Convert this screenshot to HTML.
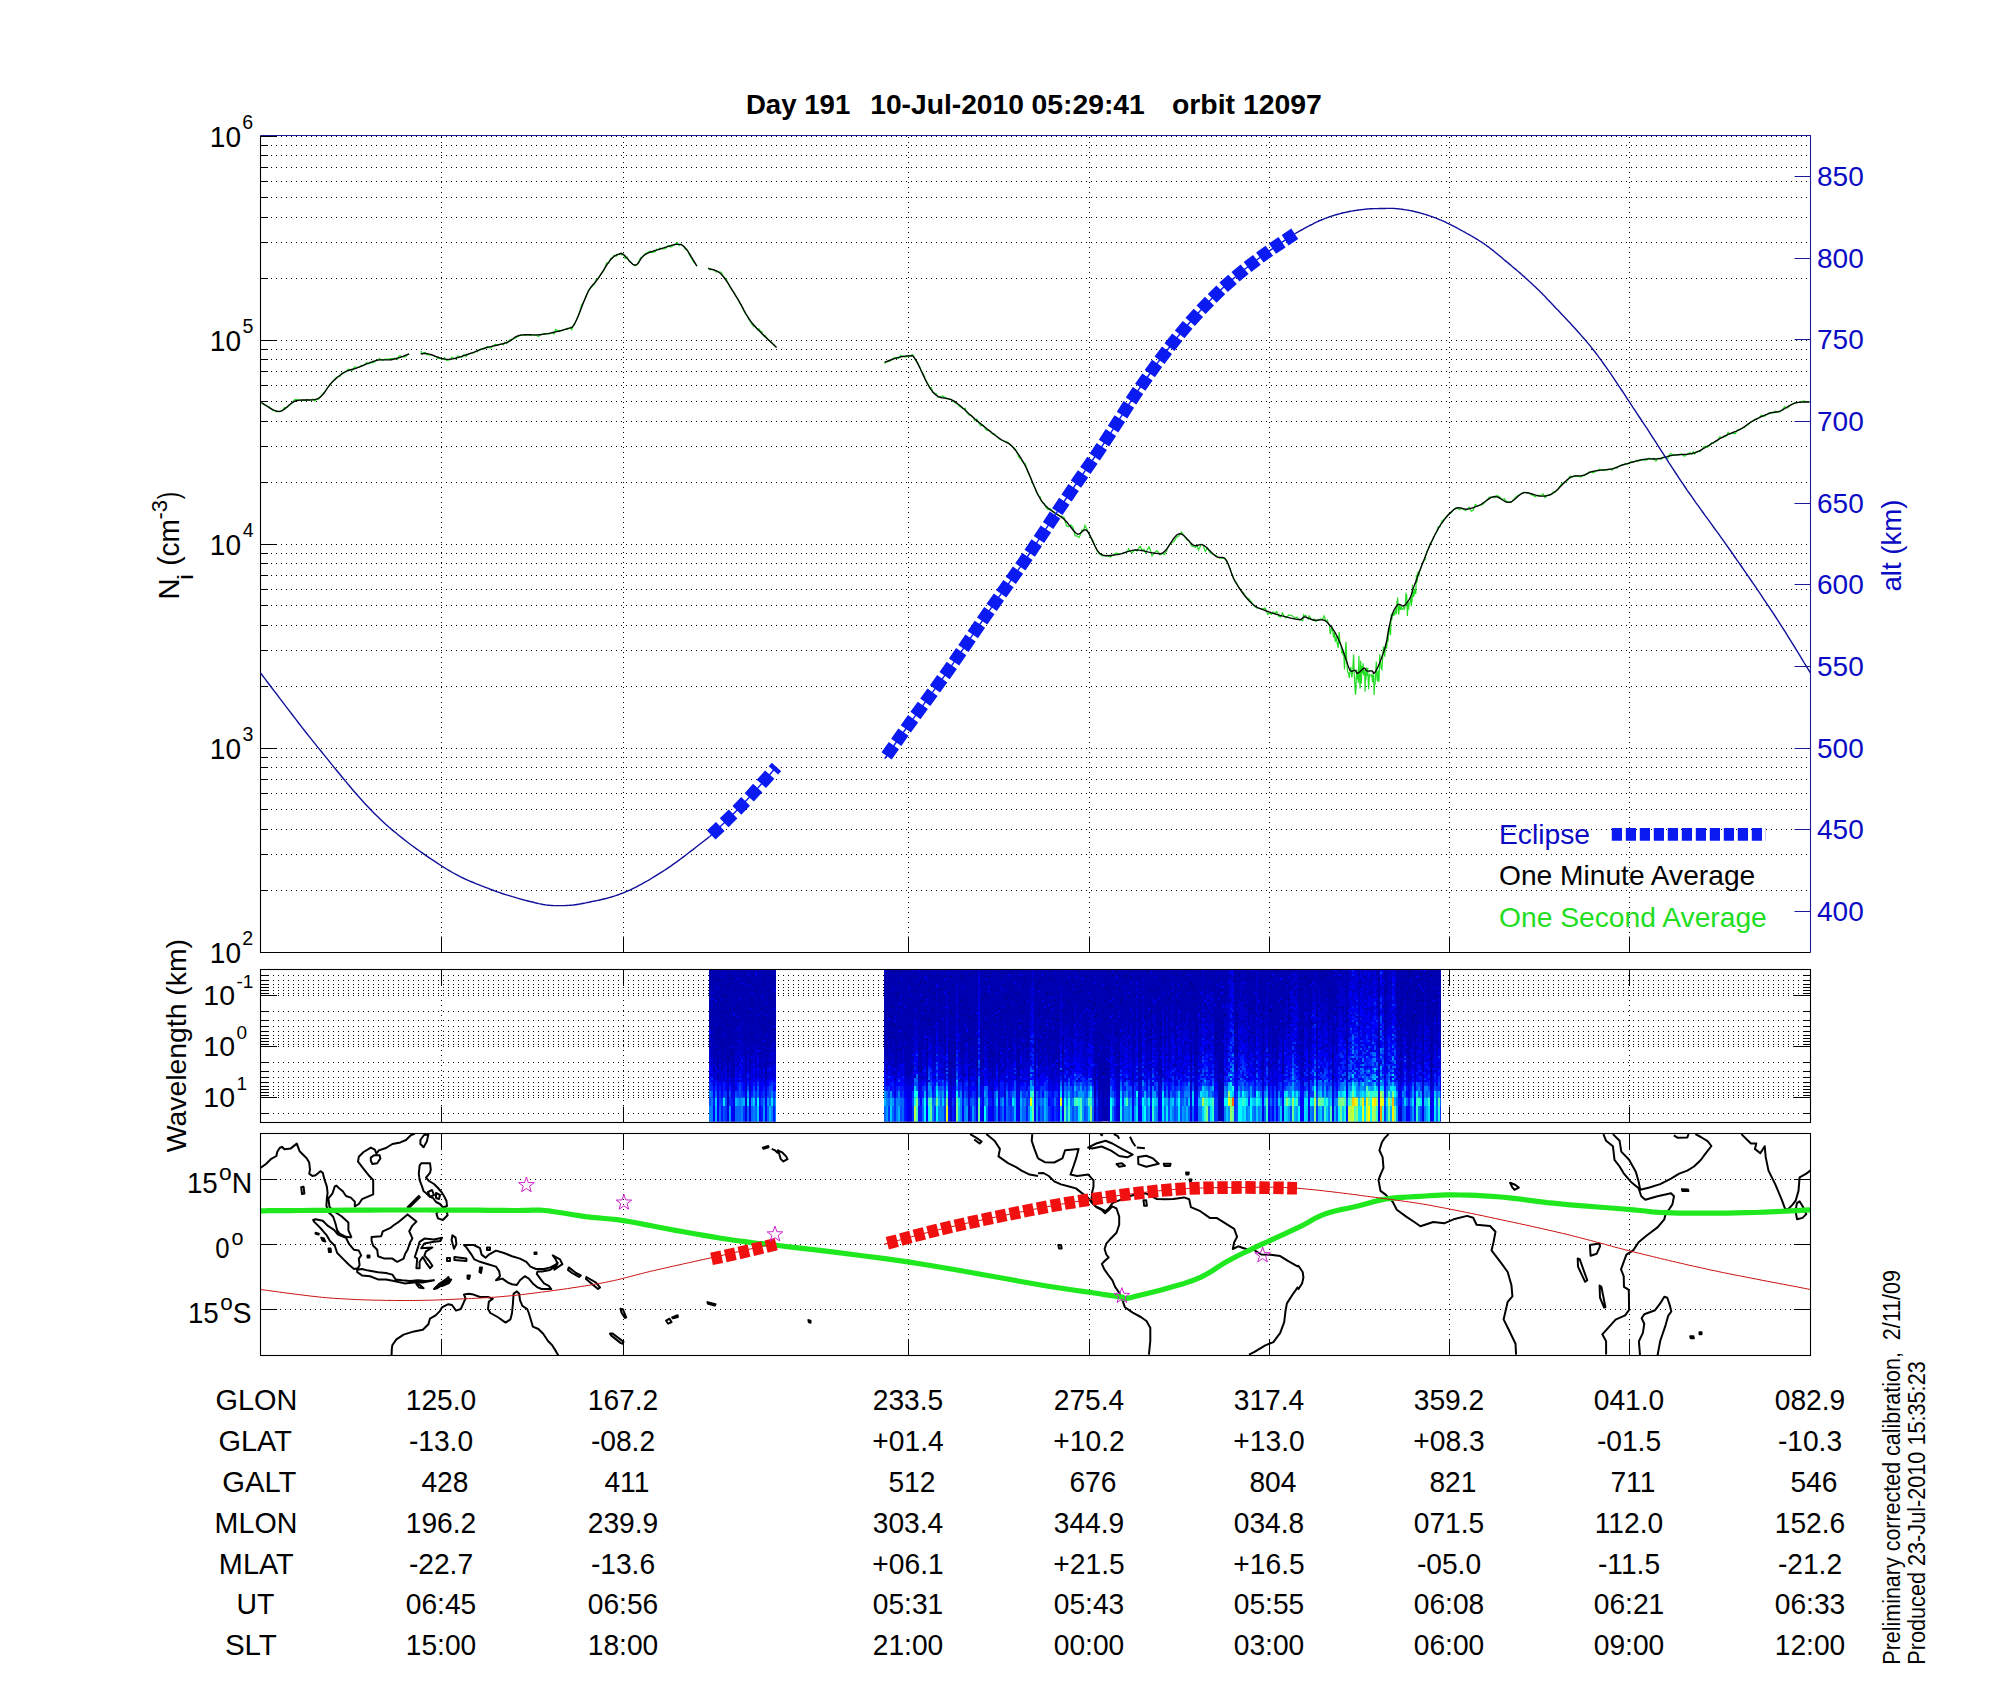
<!DOCTYPE html><html><head><meta charset="utf-8"><style>html,body{margin:0;padding:0;background:#fff;width:2000px;height:1700px;overflow:hidden}svg{display:block}text{font-family:"Liberation Sans",sans-serif}</style></head><body>
<svg width="2000" height="1700" viewBox="0 0 2000 1700">
<rect width="2000" height="1700" fill="#fff"/>
<text x="745.94" y="113.80" font-size="28.3" font-weight="bold" textLength="104.35" lengthAdjust="spacingAndGlyphs" xml:space="preserve" >Day 191</text>
<text x="870.24" y="113.80" font-size="28.3" font-weight="bold" textLength="153.65" lengthAdjust="spacingAndGlyphs" xml:space="preserve" >10-Jul-2010</text>
<text x="1031.57" y="113.80" font-size="28.3" font-weight="bold" textLength="113.22" lengthAdjust="spacingAndGlyphs" xml:space="preserve" >05:29:41</text>
<text x="1171.96" y="113.80" font-size="28.3" font-weight="bold" textLength="149.96" lengthAdjust="spacingAndGlyphs" xml:space="preserve" >orbit 12097</text>
<path d="M261 952.5H1810.5M261 890.5H1810.5M261 854.5H1810.5M261 829.5H1810.5M261 809.5H1810.5M261 793.5H1810.5M261 779.5H1810.5M261 767.5H1810.5M261 757.5H1810.5M261 748.5H1810.5M261 686.5H1810.5M261 650.5H1810.5M261 625.5H1810.5M261 605.5H1810.5M261 589.5H1810.5M261 575.5H1810.5M261 563.5H1810.5M261 553.5H1810.5M261 544.5H1810.5M261 482.5H1810.5M261 446.5H1810.5M261 421.5H1810.5M261 401.5H1810.5M261 385.5H1810.5M261 371.5H1810.5M261 359.5H1810.5M261 349.5H1810.5M261 340.5H1810.5M261 278.5H1810.5M261 242.5H1810.5M261 217.5H1810.5M261 197.5H1810.5M261 181.5H1810.5M261 167.5H1810.5M261 155.5H1810.5M261 145.5H1810.5M261 136.5H1810" stroke="#000" stroke-width="1" stroke-dasharray="1 4" fill="none"/>
<path d="M441.5 137V952.5M623.5 137V952.5M908.5 137V952.5M1089.5 137V952.5M1269.5 137V952.5M1449.5 137V952.5M1629.5 137V952.5" stroke="#000" stroke-width="1" stroke-dasharray="1 4" fill="none"/>
<path d="M260.5 952.5h16.5M260.5 890.5h7.5M260.5 854.5h7.5M260.5 829.5h7.5M260.5 809.5h7.5M260.5 793.5h7.5M260.5 779.5h7.5M260.5 767.5h7.5M260.5 757.5h7.5M260.5 748.5h16.5M260.5 686.5h7.5M260.5 650.5h7.5M260.5 625.5h7.5M260.5 605.5h7.5M260.5 589.5h7.5M260.5 575.5h7.5M260.5 563.5h7.5M260.5 553.5h7.5M260.5 544.5h16.5M260.5 482.5h7.5M260.5 446.5h7.5M260.5 421.5h7.5M260.5 401.5h7.5M260.5 385.5h7.5M260.5 371.5h7.5M260.5 359.5h7.5M260.5 349.5h7.5M260.5 340.5h16.5M260.5 278.5h7.5M260.5 242.5h7.5M260.5 217.5h7.5M260.5 197.5h7.5M260.5 181.5h7.5M260.5 167.5h7.5M260.5 155.5h7.5M260.5 145.5h7.5M260.5 136.5h16.5" stroke="#000" stroke-width="1" fill="none"/>
<path d="M441.5 952.5v-16M623.5 952.5v-16M908.5 952.5v-16M1089.5 952.5v-16M1269.5 952.5v-16M1449.5 952.5v-16M1629.5 952.5v-16" stroke="#000" stroke-width="1"/>
<path d="M1810.5 911.5h-16M1810.5 829.5h-16M1810.5 748.5h-16M1810.5 666.5h-16M1810.5 584.5h-16M1810.5 503.5h-16M1810.5 421.5h-16M1810.5 339.5h-16M1810.5 258.5h-16M1810.5 176.5h-16" stroke="#1a1a9a" stroke-width="1"/>
<path d="M260.5 135.5V952.5H1810.5" stroke="#000" stroke-width="1.1" fill="none"/>
<path d="M260.5 135.5H1810.5V952.5" stroke="#1a1a9a" stroke-width="1.1" fill="none"/>
<text x="209.79" y="962.60" font-size="28.8" textLength="31.22" lengthAdjust="spacingAndGlyphs" xml:space="preserve" >10</text>
<text x="242.22" y="944.80" font-size="19.6" xml:space="preserve" >2</text>
<text x="209.79" y="758.60" font-size="28.8" textLength="31.22" lengthAdjust="spacingAndGlyphs" xml:space="preserve" >10</text>
<text x="242.46" y="740.80" font-size="19.6" xml:space="preserve" >3</text>
<text x="209.79" y="554.60" font-size="28.8" textLength="31.22" lengthAdjust="spacingAndGlyphs" xml:space="preserve" >10</text>
<text x="242.76" y="536.80" font-size="19.6" xml:space="preserve" >4</text>
<text x="209.79" y="350.60" font-size="28.8" textLength="31.22" lengthAdjust="spacingAndGlyphs" xml:space="preserve" >10</text>
<text x="242.42" y="332.80" font-size="19.6" xml:space="preserve" >5</text>
<text x="209.79" y="146.60" font-size="28.8" textLength="31.22" lengthAdjust="spacingAndGlyphs" xml:space="preserve" >10</text>
<text x="242.22" y="128.80" font-size="19.6" xml:space="preserve" >6</text>
<text x="1817" y="921.0" font-size="28" fill="#0b0bc4">400</text>
<text x="1817" y="839.3" font-size="28" fill="#0b0bc4">450</text>
<text x="1817" y="757.7" font-size="28" fill="#0b0bc4">500</text>
<text x="1817" y="676.0" font-size="28" fill="#0b0bc4">550</text>
<text x="1817" y="594.3" font-size="28" fill="#0b0bc4">600</text>
<text x="1817" y="512.7" font-size="28" fill="#0b0bc4">650</text>
<text x="1817" y="431.0" font-size="28" fill="#0b0bc4">700</text>
<text x="1817" y="349.3" font-size="28" fill="#0b0bc4">750</text>
<text x="1817" y="267.6" font-size="28" fill="#0b0bc4">800</text>
<text x="1817" y="186.0" font-size="28" fill="#0b0bc4">850</text>
<g transform="rotate(-90)"><text x="-599.76" y="178.90" font-size="29" textLength="21.50" lengthAdjust="spacingAndGlyphs" xml:space="preserve" >N</text></g>
<g transform="rotate(-90)"><text x="-580.05" y="193.00" font-size="22" textLength="6.09" lengthAdjust="spacingAndGlyphs" xml:space="preserve" >i</text></g>
<g transform="rotate(-90)"><text x="-565.85" y="178.90" font-size="29" textLength="46.70" lengthAdjust="spacingAndGlyphs" xml:space="preserve" >(cm</text></g>
<g transform="rotate(-90)"><text x="-519.49" y="166.50" font-size="21.6" textLength="19.56" lengthAdjust="spacingAndGlyphs" xml:space="preserve" >-3</text></g>
<g transform="rotate(-90)"><text x="-499.17" y="178.90" font-size="29" textLength="7.48" lengthAdjust="spacingAndGlyphs" xml:space="preserve" >)</text></g>
<g transform="rotate(-90)"><text x="-591.57" y="1900.60" font-size="27.2" fill="#0b0bc4" textLength="92.12" lengthAdjust="spacingAndGlyphs" xml:space="preserve" >alt (km)</text></g>
<g transform="rotate(-90)"><text x="-1152.14" y="185.50" font-size="28.5" textLength="213.13" lengthAdjust="spacingAndGlyphs" xml:space="preserve" >Wavelength (km)</text></g>
<path d="M261.4 402.4 L263.4 404.2 L266.1 405.4 L267.7 406.3 L269.3 406.8 L271.0 408.4 L272.7 410.5 L274.4 410.6 L276.1 411.9 L277.7 411.4 L279.2 411.7 L281.9 410.9 L284.5 407.6 L287.0 407.7 L289.6 405.0 L292.4 402.9 L294.0 400.3 L295.5 399.5 L297.3 399.8 L299.0 399.9 L301.0 400.4 L303.0 400.0 L305.0 400.5 L307.1 399.4 L309.1 400.2 L311.1 400.3 L313.0 399.1 L314.9 401.0 L316.6 399.4 L318.2 399.5 L320.9 396.0 L323.3 393.4 L325.3 391.0 L327.2 388.2 L329.1 386.1 L331.2 383.3 L333.4 380.6 L335.5 378.1 L337.7 376.6 L339.9 376.4 L342.0 373.1 L344.2 372.6 L346.3 371.7 L348.3 369.2 L350.3 369.9 L352.4 370.5 L354.7 366.9 L357.2 367.5 L360.1 366.6 L361.7 365.3 L363.3 365.7 L365.0 364.5 L366.7 362.6 L368.5 363.9 L370.2 363.1 L371.9 362.7 L373.6 362.6 L375.1 361.2 L376.7 360.5 L379.6 358.8 L382.4 360.3 L385.1 359.2 L387.7 359.4 L390.3 358.6 L393.0 358.5 L395.9 358.2 L397.5 359.3 L399.0 355.9 L400.6 355.9 L402.1 356.8 L405.0 356.8 L407.4 355.1 L409.2 353.9" stroke="#22dd22" stroke-width="1.2" fill="none"/>
<path d="M420.6 352.2 L421.3 351.6 L422.3 354.0 L423.4 352.9 L424.9 352.5 L426.6 354.4 L428.7 354.9 L431.3 354.8 L434.2 356.0 L435.9 356.8 L437.5 358.4 L439.3 358.2 L441.0 358.7 L442.8 359.1 L444.6 357.7 L446.4 360.4 L448.2 360.2 L450.1 359.7 L451.9 357.3 L453.9 358.0 L455.9 358.9 L458.0 356.0 L460.0 356.8 L462.0 357.2 L464.0 354.4 L465.9 356.4 L467.7 354.8 L469.4 353.6 L471.0 353.5 L473.6 352.9 L475.7 351.6 L477.5 351.7 L479.3 349.4 L481.4 348.8 L484.0 349.2 L485.7 347.9 L487.3 346.6 L489.3 347.8 L491.2 347.8 L493.3 345.6 L495.4 344.3 L497.4 344.9 L499.5 344.4 L501.4 343.8 L503.4 344.8 L505.0 342.1 L506.7 343.6 L509.3 340.2 L511.4 339.3 L513.2 339.1 L515.0 338.3 L517.1 336.9 L519.7 335.6 L521.3 335.2 L522.9 335.0 L524.7 335.3 L526.5 334.6 L528.5 335.0 L530.4 335.3 L532.4 334.8 L534.4 335.5 L536.5 335.3 L538.5 336.5 L540.5 334.9 L542.5 334.0 L544.6 333.7 L546.7 333.7 L548.9 334.1 L551.1 332.6 L552.6 332.9 L554.1 333.9 L555.6 329.6 L557.8 330.4 L559.9 331.1 L561.8 330.7 L563.8 330.0 L565.3 328.9 L566.9 329.4 L569.1 328.4 L570.6 327.4 L571.7 329.6 L572.5 327.1 L573.6 324.9 L575.0 322.9 L576.9 318.9 L579.1 313.8 L581.4 305.5 L583.7 301.5 L586.0 297.3 L588.0 291.0 L589.8 288.8 L591.4 287.4 L592.9 285.6 L594.3 284.5 L595.9 279.9 L597.7 278.8 L599.7 275.8 L602.0 273.1 L604.3 269.8 L606.6 262.9 L608.8 263.1 L610.7 258.3 L612.4 258.4 L613.9 255.2 L615.3 255.7 L616.6 256.0 L617.8 254.4 L618.9 254.3 L619.8 254.4 L620.5 253.6 L621.1 253.3 L621.7 254.9 L622.6 254.9 L623.7 254.4 L625.2 258.5 L627.1 257.2 L629.1 261.4 L631.2 262.6 L633.2 264.6 L635.1 265.7 L636.7 264.7 L638.2 263.6 L639.6 259.6 L641.1 257.3 L642.8 257.0 L644.9 253.9 L647.4 252.5 L650.4 250.9 L651.9 252.7 L653.5 251.7 L655.1 251.8 L656.7 249.2 L658.3 249.6 L659.8 248.1 L662.7 248.9 L665.4 248.7 L668.1 245.6 L670.7 247.0 L673.1 245.8 L675.4 244.3 L677.4 242.6 L679.1 245.6 L680.5 244.4 L681.7 244.4 L682.8 245.9 L684.0 247.0 L685.5 249.5 L687.3 249.7 L689.5 254.8 L691.7 258.7 L693.8 262.2 L695.6 263.8 L696.9 266.1" stroke="#22dd22" stroke-width="1.2" fill="none"/>
<path d="M708.2 267.7 L709.6 269.7 L711.4 269.3 L713.7 269.9 L716.1 271.9 L718.7 271.9 L721.2 272.2 L723.7 276.8 L726.5 279.3 L729.3 286.0 L732.1 290.1 L734.8 293.8 L737.5 298.6 L739.9 303.4 L742.1 306.8 L744.3 312.0 L746.6 314.8 L749.1 319.8 L752.1 324.3 L754.0 326.6 L755.9 326.8 L757.4 329.7 L758.9 328.8 L760.4 331.1 L762.0 331.9 L763.6 336.1 L765.2 335.6 L766.7 338.2 L768.3 339.5 L769.8 341.0 L771.8 342.4 L773.7 345.0 L776.5 347.4" stroke="#22dd22" stroke-width="1.2" fill="none"/>
<path d="M884.6 363.9 L885.9 361.8 L887.7 361.6 L889.8 361.2 L892.1 359.3 L894.4 357.5 L896.5 357.5 L898.6 358.4 L900.8 355.5 L903.0 356.0 L905.1 357.0 L907.1 356.6 L908.8 355.9 L910.1 356.6 L911.2 355.9 L912.0 354.7 L912.9 354.8 L913.9 356.6 L915.3 359.9 L917.1 361.8 L919.2 365.8 L921.5 370.9 L923.9 375.3 L926.2 381.2 L928.2 384.0 L929.9 388.1 L931.4 388.0 L932.8 392.3 L934.3 393.0 L935.9 393.2 L937.9 396.9 L940.1 397.1 L942.6 395.9 L945.2 397.5 L948.0 399.0 L950.9 399.2 L952.5 401.1 L954.1 401.9 L955.8 403.0 L957.5 403.9 L959.3 406.3 L961.2 407.2 L963.1 408.8 L965.1 408.3 L967.0 412.7 L969.0 414.9 L971.0 415.2 L972.9 416.9 L974.9 420.7 L976.8 419.1 L978.7 422.6 L980.7 425.9 L982.7 424.6 L984.7 427.6 L986.7 430.3 L988.7 430.1 L990.7 432.2 L992.6 434.0 L994.4 433.8 L996.2 435.9 L997.8 437.5 L999.4 439.1 L1002.1 440.2 L1004.4 441.2 L1006.5 441.5 L1008.4 443.0 L1010.3 445.4 L1012.3 446.6 L1014.5 448.2 L1016.6 451.0 L1018.8 457.2 L1021.0 459.3 L1023.1 462.5 L1025.3 463.6 L1027.5 470.9 L1029.7 475.9 L1032.0 482.3 L1034.1 486.5 L1036.2 490.9 L1038.2 495.5 L1039.9 496.4 L1041.4 501.5 L1042.8 502.8 L1044.3 503.7 L1045.9 507.2 L1047.9 509.5 L1050.3 508.6 L1052.9 511.1 L1055.8 513.8 L1058.7 515.5 L1061.5 516.4 L1064.1 517.4 L1066.5 526.0 L1068.8 526.6 L1071.0 525.1 L1073.1 527.5 L1075.2 535.8 L1077.1 535.8 L1078.9 537.6 L1080.5 534.7 L1082.0 529.9 L1083.5 530.9 L1085.0 525.5 L1086.8 529.1 L1088.7 533.0 L1090.7 538.0 L1092.8 540.1 L1095.0 546.0 L1097.3 551.3 L1099.7 554.0 L1102.2 556.0 L1104.7 555.9 L1107.4 555.1 L1110.1 557.1 L1113.0 555.2 L1115.9 553.1 L1117.4 553.3 L1118.9 554.3 L1120.5 553.6 L1122.1 553.7 L1123.8 552.8 L1125.4 552.7 L1127.1 551.5 L1128.7 548.7 L1130.4 551.7 L1132.0 552.5 L1133.7 551.1 L1135.3 549.6 L1137.0 551.0 L1138.6 548.2 L1140.4 546.6 L1142.1 550.8 L1143.9 549.2 L1145.6 552.9 L1147.3 549.6 L1149.0 546.9 L1150.5 550.4 L1152.0 556.0 L1154.7 552.4 L1156.8 550.7 L1158.5 552.1 L1159.9 554.8 L1161.2 554.5 L1162.6 553.2 L1164.4 554.6 L1166.6 550.6 L1168.9 545.7 L1171.4 543.1 L1174.0 541.5 L1176.5 537.2 L1179.0 535.8 L1181.5 532.0 L1184.0 535.5 L1186.6 539.8 L1189.0 540.5 L1191.4 545.7 L1193.5 546.3 L1195.4 547.4 L1197.0 545.1 L1198.4 550.2 L1199.9 547.2 L1201.4 544.1 L1203.2 545.3 L1205.2 551.6 L1207.4 547.7 L1209.7 552.3 L1212.0 553.7 L1214.2 554.9 L1216.2 555.5 L1218.0 557.4 L1219.7 557.8 L1221.3 558.4 L1222.8 558.2 L1224.3 558.2 L1225.9 560.5 L1227.4 562.8 L1228.9 566.0 L1230.4 569.9 L1231.9 573.9 L1233.6 579.0 L1235.6 581.4 L1237.9 585.5 L1240.5 589.9 L1243.2 592.5 L1246.1 597.0 L1248.9 598.9 L1251.7 602.3 L1254.3 606.4 L1256.9 608.0 L1259.5 608.3 L1262.1 609.1 L1264.9 608.1 L1267.9 614.4 L1269.6 612.9 L1271.2 614.4 L1273.1 611.8 L1274.9 613.5 L1276.8 611.5 L1278.7 616.2 L1280.6 616.9 L1282.5 612.9 L1284.2 616.3 L1285.9 617.9 L1288.9 614.8 L1291.4 615.3 L1293.6 617.0 L1295.5 618.1 L1297.2 617.1 L1298.7 619.5 L1300.0 619.9 L1301.1 620.3 L1301.9 620.0 L1302.5 620.7 L1303.0 619.6 L1303.5 615.1 L1304.2 616.2 L1305.0 615.3 L1305.8 615.5 L1306.7 617.4 L1307.5 617.8 L1308.4 619.0 L1309.2 616.0 L1310.0 616.8 L1310.7 619.1 L1311.3 619.1 L1312.1 619.3 L1313.0 619.9 L1314.1 619.0 L1315.5 621.4 L1317.2 620.7 L1319.0 619.8 L1320.8 618.8 L1322.5 619.6 L1324.0 615.8 L1325.3 619.2 L1326.4 621.7 L1327.5 620.2 L1328.4 624.0 L1329.4 625.0 L1330.3 634.2 L1331.2 629.9 L1332.0 626.4 L1332.8 631.6 L1333.6 637.5 L1334.4 632.5 L1335.3 641.8 L1336.2 636.4 L1337.2 643.5 L1338.1 647.9 L1339.1 632.1 L1340.0 643.9 L1340.9 644.5 L1341.7 653.3 L1342.4 650.2 L1343.1 654.7 L1343.8 654.2 L1344.5 669.5 L1345.2 653.8 L1346.0 641.7 L1346.8 662.7 L1347.6 672.1 L1348.4 672.6 L1349.3 678.0 L1350.1 670.8 L1350.9 667.0 L1351.8 677.3 L1352.7 671.0 L1353.6 654.5 L1354.3 674.5 L1355.0 687.9 L1355.5 694.8 L1355.9 690.4 L1356.2 677.9 L1356.5 675.4 L1356.8 669.5 L1357.2 679.1 L1357.7 674.1 L1358.3 682.9 L1358.9 655.7 L1359.5 676.7 L1360.1 688.5 L1360.7 660.7 L1361.3 683.5 L1361.9 665.7 L1362.5 673.5 L1363.1 663.3 L1363.7 675.0 L1364.2 675.0 L1364.7 670.0 L1365.1 691.7 L1365.5 672.8 L1365.9 680.2 L1366.4 667.6 L1367.0 675.9 L1367.7 667.7 L1368.6 689.1 L1369.5 674.5 L1370.5 675.2 L1371.3 676.1 L1372.0 674.4 L1372.5 681.9 L1372.9 681.0 L1373.1 680.5 L1373.4 674.2 L1373.7 677.1 L1374.1 694.9 L1374.6 684.3 L1375.1 684.2 L1375.7 671.2 L1376.3 661.6 L1377.0 678.7 L1377.6 681.4 L1378.3 670.5 L1379.0 681.7 L1379.7 654.3 L1380.4 660.8 L1381.2 668.8 L1381.9 669.6 L1382.6 659.0 L1383.4 646.7 L1384.1 649.0 L1384.8 656.8 L1385.5 644.3 L1386.1 644.0 L1386.6 648.6 L1387.1 642.6 L1387.5 635.9 L1388.0 641.7 L1388.4 637.1 L1388.9 631.1 L1389.4 626.8 L1390.0 631.0 L1390.6 635.1 L1391.2 614.3 L1391.8 620.2 L1392.4 613.2 L1393.0 613.7 L1393.6 615.8 L1394.2 612.5 L1394.9 614.1 L1395.4 611.5 L1396.0 608.7 L1396.5 614.1 L1396.9 601.1 L1397.3 605.5 L1397.7 597.6 L1398.2 608.6 L1398.8 614.6 L1399.5 604.1 L1400.3 609.7 L1401.2 606.8 L1402.0 609.5 L1402.9 609.1 L1403.7 606.9 L1404.5 608.7 L1405.2 605.3 L1406.0 593.9 L1406.7 595.0 L1407.4 616.0 L1408.0 601.4 L1408.6 609.6 L1409.1 603.5 L1409.5 603.0 L1410.0 602.0 L1410.4 602.0 L1410.8 596.1 L1411.2 606.2 L1411.5 605.0 L1411.8 597.8 L1412.1 601.8 L1412.5 584.8 L1412.9 590.2 L1413.4 596.2 L1414.0 596.0 L1414.6 588.7 L1415.2 592.7 L1415.8 594.1 L1416.4 574.8 L1417.0 582.8 L1417.6 573.5 L1418.2 571.6 L1418.8 576.5 L1419.4 571.6 L1420.0 570.1 L1420.6 569.8 L1421.2 566.0 L1421.8 565.5 L1422.5 563.5 L1423.2 561.8 L1424.1 560.9 L1425.1 559.8 L1426.2 553.3 L1427.4 550.4 L1428.7 548.6 L1430.0 543.5 L1431.5 542.3 L1433.0 539.2 L1434.7 535.0 L1436.4 532.7 L1438.2 526.9 L1440.0 526.6 L1442.0 520.9 L1444.1 519.1 L1446.4 516.5 L1448.7 513.9 L1451.1 513.0 L1453.4 510.1 L1455.6 508.0 L1457.6 508.4 L1459.6 509.7 L1461.5 508.2 L1463.3 509.1 L1465.2 510.6 L1467.2 509.4 L1469.2 507.2 L1471.2 511.2 L1473.3 510.3 L1475.4 504.5 L1477.6 505.9 L1479.8 505.5 L1482.1 504.8 L1484.5 502.8 L1487.0 499.8 L1489.5 497.2 L1492.0 497.3 L1494.5 497.7 L1497.0 495.5 L1499.4 496.7 L1501.8 499.5 L1504.3 498.7 L1506.8 501.8 L1509.2 501.9 L1511.6 502.1 L1514.0 499.0 L1516.4 496.7 L1518.8 495.1 L1521.3 493.8 L1523.9 492.2 L1526.6 492.7 L1529.5 493.8 L1532.4 495.1 L1535.3 496.5 L1538.1 495.1 L1540.7 495.7 L1543.0 493.9 L1545.1 497.7 L1547.0 495.1 L1548.9 495.2 L1551.0 494.8 L1553.3 491.8 L1555.9 491.4 L1558.7 488.3 L1561.7 483.6 L1564.7 482.5 L1567.5 480.6 L1570.1 476.0 L1572.5 477.2 L1574.7 476.2 L1576.8 476.3 L1578.8 476.3 L1580.8 477.0 L1582.7 475.3 L1584.5 475.7 L1586.0 473.8 L1587.6 474.1 L1589.2 471.9 L1591.0 471.8 L1593.2 472.8 L1596.0 471.2 L1597.6 470.5 L1599.2 469.4 L1600.9 469.5 L1602.6 470.2 L1604.4 470.7 L1606.1 470.0 L1607.7 469.9 L1609.3 469.2 L1612.1 470.0 L1614.2 467.9 L1615.8 467.2 L1617.2 467.9 L1618.6 466.5 L1620.3 465.5 L1622.6 464.5 L1625.6 463.9 L1627.3 464.1 L1629.1 463.4 L1630.9 461.5 L1632.8 462.4 L1634.8 461.6 L1636.7 460.1 L1638.5 461.2 L1640.3 459.8 L1642.0 459.4 L1643.6 460.1 L1646.4 460.2 L1649.0 458.3 L1651.3 459.3 L1653.6 458.2 L1655.9 461.0 L1658.3 458.3 L1660.7 459.3 L1663.1 457.1 L1665.5 457.7 L1667.9 458.3 L1670.4 453.5 L1673.0 454.8 L1675.8 455.3 L1678.7 454.6 L1681.7 454.0 L1684.6 456.3 L1687.3 454.3 L1689.8 452.5 L1691.8 454.3 L1693.3 451.7 L1694.7 453.9 L1696.1 451.8 L1697.9 451.6 L1700.3 451.4 L1701.9 449.5 L1703.5 447.3 L1705.4 445.9 L1707.3 447.3 L1709.4 445.7 L1711.5 443.0 L1713.6 443.2 L1715.7 441.6 L1717.7 440.5 L1719.8 436.7 L1721.6 437.4 L1723.4 437.5 L1725.0 436.6 L1726.6 435.9 L1728.1 432.3 L1729.6 434.0 L1732.5 433.1 L1735.1 433.8 L1737.7 429.7 L1740.2 429.0 L1742.5 428.0 L1744.6 427.4 L1746.5 424.8 L1748.4 424.8 L1750.5 421.7 L1752.8 421.2 L1755.4 419.1 L1758.3 418.3 L1759.8 416.8 L1761.3 415.3 L1764.3 416.3 L1767.1 414.4 L1769.6 412.7 L1771.7 412.8 L1773.4 413.2 L1775.0 411.3 L1776.5 411.9 L1778.2 412.2 L1780.1 411.6 L1782.3 409.7 L1784.7 406.8 L1787.2 408.1 L1789.7 405.8 L1792.3 404.1 L1794.8 402.9 L1797.4 402.7 L1800.2 401.8 L1803.1 401.1 L1805.7 401.4 L1807.9 401.5 L1809.5 402.0" stroke="#22dd22" stroke-width="1.2" fill="none"/>
<path d="M261.4 402.6 L261.9 402.9 L262.5 403.2 L263.1 403.6 L263.8 404.1 L264.6 404.6 L265.5 405.2 L266.4 405.8 L267.3 406.4 L268.3 407.0 L269.3 407.6 L270.3 408.3 L271.3 408.8 L272.4 409.4 L273.4 409.9 L274.4 410.3 L275.5 410.7 L276.4 411.0 L277.4 411.3 L278.3 411.4 L279.2 411.4 L280.0 411.3 L280.9 411.1 L281.7 410.8 L282.5 410.4 L283.2 410.0 L284.0 409.4 L284.8 408.9 L285.5 408.2 L286.3 407.6 L287.0 406.9 L287.8 406.2 L288.6 405.5 L289.4 404.8 L290.2 404.2 L291.0 403.5 L291.9 402.9 L292.7 402.3 L293.6 401.8 L294.5 401.4 L295.5 401.0 L296.5 400.7 L297.6 400.5 L298.7 400.3 L299.8 400.2 L301.0 400.1 L302.1 400.0 L303.4 400.0 L304.6 400.0 L305.8 400.0 L307.1 400.0 L308.3 400.0 L309.5 400.0 L310.7 399.9 L311.9 399.9 L313.1 399.8 L314.2 399.6 L315.3 399.4 L316.3 399.1 L317.3 398.8 L318.2 398.4 L319.1 397.9 L319.9 397.4 L320.7 396.7 L321.4 396.1 L322.1 395.4 L322.8 394.6 L323.5 393.8 L324.1 393.0 L324.7 392.1 L325.3 391.3 L325.9 390.4 L326.5 389.5 L327.0 388.6 L327.6 387.8 L328.2 386.9 L328.8 386.1 L329.3 385.3 L329.9 384.5 L330.6 383.8 L331.2 383.1 L331.8 382.5 L332.5 381.8 L333.1 381.2 L333.8 380.6 L334.4 380.0 L335.1 379.4 L335.8 378.8 L336.4 378.2 L337.1 377.6 L337.7 377.1 L338.3 376.5 L339.0 376.0 L339.6 375.5 L340.3 375.0 L340.9 374.5 L341.6 374.1 L342.2 373.6 L342.9 373.2 L343.6 372.8 L344.2 372.4 L344.8 372.0 L345.5 371.7 L346.1 371.4 L346.7 371.1 L347.3 370.9 L347.9 370.7 L348.5 370.5 L349.1 370.3 L349.7 370.1 L350.3 369.9 L350.9 369.7 L351.5 369.5 L352.2 369.4 L352.8 369.2 L353.5 369.0 L354.2 368.8 L354.9 368.6 L355.6 368.3 L356.4 368.1 L357.2 367.8 L358.0 367.5 L358.9 367.1 L359.8 366.8 L360.7 366.4 L361.7 366.0 L362.7 365.6 L363.7 365.2 L364.7 364.7 L365.7 364.3 L366.7 363.9 L367.8 363.5 L368.8 363.0 L369.9 362.6 L370.9 362.2 L371.9 361.9 L372.9 361.5 L373.9 361.2 L374.9 360.9 L375.8 360.6 L376.7 360.4 L377.6 360.2 L378.5 360.1 L379.3 359.9 L380.2 359.9 L381.0 359.8 L381.8 359.8 L382.6 359.8 L383.5 359.8 L384.3 359.8 L385.1 359.8 L385.9 359.8 L386.6 359.8 L387.4 359.8 L388.2 359.8 L389.0 359.8 L389.8 359.8 L390.6 359.7 L391.4 359.7 L392.2 359.5 L393.0 359.4 L393.8 359.2 L394.7 359.0 L395.6 358.8 L396.5 358.5 L397.4 358.2 L398.4 357.9 L399.3 357.6 L400.3 357.3 L401.2 356.9 L402.1 356.6 L403.0 356.3 L403.9 355.9 L404.7 355.6 L405.5 355.3 L406.3 355.0 L407.0 354.7 L407.6 354.5 L408.2 354.2 L408.8 354.1 L409.2 353.9" stroke="#000" stroke-width="1.35" fill="none"/>
<path d="M420.6 353.9 L420.8 353.9 L421.0 353.9 L421.3 353.8 L421.5 353.8 L421.8 353.8 L422.1 353.7 L422.4 353.7 L422.7 353.6 L423.1 353.6 L423.4 353.6 L423.8 353.5 L424.3 353.5 L424.7 353.5 L425.2 353.5 L425.7 353.5 L426.2 353.5 L426.8 353.6 L427.4 353.7 L428.0 353.8 L428.7 353.9 L429.4 354.1 L430.2 354.3 L431.0 354.5 L431.8 354.8 L432.7 355.2 L433.6 355.5 L434.6 355.9 L435.5 356.3 L436.5 356.7 L437.5 357.0 L438.6 357.4 L439.6 357.8 L440.7 358.1 L441.7 358.4 L442.8 358.7 L443.9 359.0 L445.0 359.2 L446.1 359.3 L447.1 359.4 L448.2 359.4 L449.3 359.4 L450.4 359.2 L451.5 359.1 L452.7 358.9 L453.9 358.6 L455.1 358.4 L456.3 358.0 L457.6 357.7 L458.8 357.3 L460.0 356.9 L461.2 356.6 L462.4 356.1 L463.6 355.7 L464.8 355.3 L465.9 354.9 L467.0 354.5 L468.1 354.2 L469.1 353.8 L470.1 353.5 L471.0 353.2 L471.9 352.9 L472.7 352.7 L473.4 352.4 L474.1 352.2 L474.7 351.9 L475.3 351.7 L475.9 351.4 L476.4 351.2 L477.0 351.0 L477.5 350.7 L478.0 350.5 L478.6 350.3 L479.1 350.0 L479.7 349.8 L480.3 349.6 L480.9 349.3 L481.6 349.1 L482.4 348.8 L483.1 348.6 L484.0 348.3 L484.9 348.0 L485.9 347.8 L487.0 347.5 L488.1 347.2 L489.2 346.9 L490.4 346.7 L491.6 346.4 L492.8 346.1 L494.1 345.8 L495.4 345.5 L496.6 345.3 L497.9 345.0 L499.1 344.7 L500.3 344.4 L501.5 344.1 L502.6 343.8 L503.7 343.5 L504.8 343.1 L505.8 342.8 L506.7 342.5 L507.6 342.2 L508.3 341.8 L509.1 341.4 L509.8 341.0 L510.4 340.7 L511.0 340.2 L511.6 339.8 L512.1 339.4 L512.7 339.0 L513.2 338.6 L513.7 338.2 L514.3 337.8 L514.8 337.4 L515.4 337.0 L516.0 336.7 L516.6 336.4 L517.3 336.1 L518.0 335.8 L518.8 335.5 L519.7 335.3 L520.6 335.1 L521.6 335.0 L522.6 334.9 L523.6 334.8 L524.7 334.7 L525.8 334.7 L526.9 334.7 L528.0 334.7 L529.2 334.7 L530.4 334.7 L531.6 334.8 L532.8 334.8 L534.0 334.8 L535.2 334.8 L536.5 334.8 L537.7 334.8 L538.9 334.7 L540.1 334.7 L541.3 334.5 L542.5 334.4 L543.7 334.2 L544.9 334.0 L546.2 333.8 L547.5 333.6 L548.9 333.3 L550.2 333.1 L551.6 332.8 L552.9 332.5 L554.3 332.2 L555.6 331.9 L556.9 331.6 L558.2 331.3 L559.5 331.0 L560.7 330.6 L561.9 330.3 L563.0 330.0 L564.1 329.7 L565.1 329.4 L566.0 329.1 L566.9 328.8 L567.7 328.5 L568.3 328.3 L569.0 328.2 L569.5 328.1 L570.0 328.0 L570.4 327.9 L570.7 327.8 L571.1 327.7 L571.4 327.6 L571.7 327.5 L571.9 327.3 L572.2 327.1 L572.5 326.9 L572.7 326.6 L573.0 326.2 L573.3 325.8 L573.7 325.2 L574.1 324.6 L574.5 323.9 L575.0 323.0 L575.5 322.0 L576.1 320.8 L576.7 319.5 L577.3 318.1 L578.0 316.6 L578.6 315.0 L579.3 313.3 L580.0 311.5 L580.7 309.8 L581.4 307.9 L582.1 306.1 L582.8 304.3 L583.5 302.5 L584.2 300.8 L584.9 299.1 L585.5 297.4 L586.2 295.9 L586.8 294.5 L587.4 293.2 L588.0 292.0 L588.6 291.0 L589.1 290.0 L589.6 289.1 L590.1 288.4 L590.6 287.7 L591.0 287.0 L591.5 286.4 L592.0 285.9 L592.4 285.3 L592.9 284.8 L593.3 284.3 L593.7 283.9 L594.2 283.4 L594.7 282.9 L595.1 282.4 L595.6 281.8 L596.1 281.2 L596.6 280.6 L597.1 279.9 L597.7 279.1 L598.3 278.3 L598.9 277.4 L599.5 276.4 L600.2 275.4 L600.8 274.4 L601.5 273.3 L602.2 272.2 L602.9 271.1 L603.6 270.0 L604.3 268.9 L605.0 267.8 L605.7 266.7 L606.4 265.7 L607.0 264.6 L607.7 263.6 L608.4 262.7 L609.0 261.8 L609.6 261.0 L610.2 260.3 L610.7 259.6 L611.2 259.0 L611.7 258.5 L612.2 258.0 L612.7 257.5 L613.2 257.1 L613.6 256.7 L614.1 256.4 L614.5 256.1 L614.9 255.8 L615.3 255.6 L615.7 255.4 L616.1 255.2 L616.5 255.0 L616.8 254.9 L617.2 254.7 L617.6 254.6 L617.9 254.5 L618.2 254.3 L618.6 254.2 L618.9 254.1 L619.2 254.0 L619.5 253.9 L619.7 253.8 L620.0 253.7 L620.2 253.6 L620.4 253.5 L620.6 253.5 L620.7 253.4 L620.9 253.4 L621.1 253.4 L621.3 253.4 L621.5 253.5 L621.7 253.5 L621.9 253.6 L622.1 253.7 L622.4 253.9 L622.7 254.0 L623.0 254.2 L623.3 254.4 L623.7 254.7 L624.1 255.0 L624.6 255.4 L625.1 255.9 L625.6 256.5 L626.1 257.1 L626.7 257.8 L627.3 258.4 L627.9 259.2 L628.5 259.9 L629.1 260.6 L629.7 261.3 L630.3 262.0 L631.0 262.6 L631.6 263.2 L632.2 263.7 L632.8 264.2 L633.4 264.6 L634.0 264.9 L634.6 265.0 L635.1 265.1 L635.6 265.0 L636.1 264.9 L636.6 264.6 L637.0 264.3 L637.5 263.9 L637.9 263.4 L638.3 262.8 L638.8 262.3 L639.2 261.6 L639.6 261.0 L640.0 260.3 L640.5 259.6 L640.9 258.9 L641.4 258.2 L641.9 257.5 L642.5 256.9 L643.0 256.2 L643.6 255.7 L644.2 255.2 L644.9 254.7 L645.6 254.3 L646.4 253.9 L647.2 253.5 L648.0 253.1 L648.9 252.7 L649.7 252.4 L650.7 252.0 L651.6 251.7 L652.5 251.4 L653.5 251.0 L654.5 250.7 L655.4 250.4 L656.4 250.1 L657.3 249.8 L658.3 249.6 L659.2 249.3 L660.1 249.0 L661.0 248.7 L661.9 248.5 L662.7 248.2 L663.5 247.9 L664.3 247.7 L665.1 247.4 L665.9 247.1 L666.7 246.9 L667.5 246.6 L668.3 246.3 L669.1 246.1 L669.9 245.8 L670.7 245.6 L671.4 245.4 L672.1 245.2 L672.9 245.0 L673.6 244.8 L674.3 244.7 L674.9 244.5 L675.6 244.4 L676.2 244.4 L676.8 244.3 L677.4 244.3 L677.9 244.3 L678.5 244.3 L678.9 244.3 L679.4 244.4 L679.8 244.4 L680.2 244.5 L680.6 244.5 L681.0 244.6 L681.3 244.7 L681.7 244.9 L682.0 245.1 L682.3 245.3 L682.7 245.5 L683.0 245.8 L683.4 246.1 L683.8 246.4 L684.2 246.8 L684.6 247.2 L685.0 247.7 L685.5 248.2 L686.0 248.8 L686.6 249.5 L687.1 250.3 L687.8 251.2 L688.4 252.1 L689.0 253.1 L689.7 254.1 L690.4 255.2 L691.0 256.3 L691.7 257.4 L692.4 258.5 L693.0 259.6 L693.6 260.6 L694.2 261.6 L694.8 262.6 L695.3 263.4 L695.8 264.3 L696.2 265.0 L696.6 265.6 L696.9 266.1" stroke="#000" stroke-width="1.35" fill="none"/>
<path d="M708.2 268.4 L708.6 268.5 L709.0 268.7 L709.4 268.8 L709.9 268.9 L710.5 269.0 L711.0 269.1 L711.7 269.3 L712.3 269.4 L713.0 269.6 L713.7 269.8 L714.4 270.0 L715.1 270.3 L715.9 270.6 L716.6 270.9 L717.4 271.3 L718.2 271.8 L718.9 272.3 L719.7 272.8 L720.5 273.5 L721.2 274.2 L721.9 275.0 L722.7 275.9 L723.5 276.9 L724.3 277.9 L725.1 279.0 L725.9 280.2 L726.7 281.4 L727.6 282.6 L728.4 283.9 L729.3 285.2 L730.1 286.6 L730.9 287.9 L731.8 289.3 L732.6 290.7 L733.5 292.1 L734.3 293.4 L735.1 294.8 L735.9 296.1 L736.7 297.4 L737.5 298.6 L738.3 299.8 L739.0 301.0 L739.7 302.3 L740.4 303.5 L741.0 304.7 L741.7 305.9 L742.3 307.1 L743.0 308.4 L743.6 309.6 L744.3 310.8 L745.0 312.0 L745.6 313.2 L746.3 314.5 L747.1 315.7 L747.8 316.9 L748.6 318.1 L749.4 319.3 L750.3 320.6 L751.2 321.8 L752.1 323.0 L753.1 324.2 L754.3 325.5 L755.5 326.9 L756.7 328.3 L758.1 329.7 L759.5 331.1 L760.9 332.5 L762.3 333.9 L763.8 335.3 L765.2 336.7 L766.6 338.1 L768.0 339.4 L769.4 340.7 L770.7 341.9 L771.9 343.0 L773.0 344.1 L774.1 345.1 L775.0 345.9 L775.8 346.7 L776.5 347.4" stroke="#000" stroke-width="1.35" fill="none"/>
<path d="M884.6 362.3 L884.9 362.2 L885.3 362.0 L885.7 361.9 L886.2 361.7 L886.7 361.5 L887.3 361.3 L887.9 361.0 L888.5 360.8 L889.1 360.5 L889.8 360.3 L890.5 360.0 L891.1 359.8 L891.8 359.5 L892.5 359.3 L893.2 359.0 L893.9 358.8 L894.6 358.6 L895.2 358.4 L895.9 358.2 L896.5 358.0 L897.1 357.8 L897.7 357.7 L898.4 357.5 L899.0 357.4 L899.7 357.2 L900.3 357.0 L901.0 356.9 L901.7 356.7 L902.3 356.6 L903.0 356.5 L903.6 356.4 L904.3 356.3 L904.9 356.2 L905.5 356.1 L906.1 356.0 L906.7 355.9 L907.3 355.9 L907.8 355.9 L908.3 355.9 L908.8 355.9 L909.2 355.9 L909.7 355.9 L910.0 355.9 L910.4 355.8 L910.7 355.8 L911.0 355.8 L911.2 355.7 L911.5 355.7 L911.8 355.7 L912.0 355.7 L912.3 355.8 L912.5 355.9 L912.8 356.1 L913.1 356.3 L913.4 356.6 L913.7 356.9 L914.0 357.3 L914.4 357.8 L914.8 358.4 L915.3 359.1 L915.8 359.9 L916.3 360.8 L916.9 361.9 L917.5 363.1 L918.1 364.3 L918.8 365.7 L919.5 367.1 L920.2 368.5 L920.8 370.0 L921.5 371.5 L922.3 373.1 L923.0 374.6 L923.7 376.1 L924.4 377.6 L925.0 379.0 L925.7 380.4 L926.4 381.7 L927.0 382.9 L927.6 384.0 L928.2 385.0 L928.7 385.9 L929.3 386.8 L929.8 387.5 L930.2 388.3 L930.7 389.0 L931.1 389.7 L931.6 390.3 L932.0 390.9 L932.4 391.4 L932.8 392.0 L933.3 392.5 L933.7 392.9 L934.2 393.4 L934.6 393.8 L935.1 394.3 L935.6 394.7 L936.1 395.1 L936.7 395.5 L937.3 395.9 L937.9 396.3 L938.6 396.7 L939.2 397.0 L939.9 397.2 L940.6 397.5 L941.3 397.6 L942.1 397.8 L942.8 397.9 L943.6 398.0 L944.4 398.1 L945.2 398.2 L946.0 398.4 L946.8 398.5 L947.7 398.7 L948.6 398.9 L949.4 399.1 L950.3 399.4 L951.3 399.7 L952.2 400.2 L953.1 400.6 L954.1 401.2 L955.1 401.8 L956.1 402.6 L957.2 403.3 L958.2 404.2 L959.3 405.1 L960.4 406.0 L961.6 407.0 L962.7 408.0 L963.9 409.0 L965.1 410.1 L966.2 411.2 L967.4 412.3 L968.6 413.4 L969.8 414.4 L971.0 415.5 L972.2 416.6 L973.3 417.6 L974.5 418.7 L975.7 419.6 L976.8 420.6 L977.9 421.5 L979.1 422.5 L980.3 423.4 L981.5 424.4 L982.7 425.4 L983.9 426.4 L985.1 427.3 L986.3 428.3 L987.5 429.3 L988.7 430.2 L989.9 431.1 L991.1 432.1 L992.2 433.0 L993.3 433.8 L994.4 434.7 L995.5 435.5 L996.5 436.3 L997.5 437.0 L998.5 437.7 L999.4 438.4 L1000.3 439.0 L1001.1 439.6 L1001.9 440.0 L1002.6 440.5 L1003.3 440.8 L1004.0 441.2 L1004.6 441.5 L1005.3 441.8 L1005.9 442.1 L1006.5 442.4 L1007.0 442.6 L1007.6 442.9 L1008.2 443.2 L1008.7 443.5 L1009.3 443.9 L1009.9 444.3 L1010.5 444.8 L1011.0 445.3 L1011.7 445.9 L1012.3 446.5 L1012.9 447.2 L1013.6 447.9 L1014.2 448.7 L1014.9 449.5 L1015.5 450.3 L1016.2 451.2 L1016.8 452.1 L1017.5 453.0 L1018.1 453.9 L1018.8 454.9 L1019.5 455.9 L1020.1 456.9 L1020.8 457.9 L1021.4 459.0 L1022.1 460.1 L1022.7 461.2 L1023.4 462.4 L1024.0 463.5 L1024.7 464.7 L1025.3 465.9 L1026.0 467.2 L1026.6 468.5 L1027.3 469.9 L1027.9 471.4 L1028.6 472.9 L1029.3 474.4 L1029.9 476.0 L1030.6 477.6 L1031.3 479.2 L1032.0 480.9 L1032.6 482.5 L1033.3 484.1 L1033.9 485.6 L1034.6 487.2 L1035.2 488.6 L1035.8 490.1 L1036.4 491.4 L1037.0 492.7 L1037.6 493.9 L1038.2 495.0 L1038.7 496.0 L1039.3 497.0 L1039.8 497.8 L1040.2 498.6 L1040.7 499.4 L1041.1 500.1 L1041.6 500.8 L1042.0 501.4 L1042.4 502.0 L1042.8 502.6 L1043.3 503.1 L1043.7 503.6 L1044.2 504.1 L1044.6 504.7 L1045.1 505.2 L1045.6 505.7 L1046.1 506.2 L1046.7 506.7 L1047.3 507.3 L1047.9 507.9 L1048.6 508.5 L1049.3 509.1 L1050.0 509.7 L1050.8 510.2 L1051.6 510.8 L1052.4 511.3 L1053.2 511.9 L1054.1 512.4 L1054.9 513.0 L1055.8 513.5 L1056.7 514.0 L1057.5 514.6 L1058.4 515.1 L1059.3 515.7 L1060.1 516.3 L1061.0 516.8 L1061.8 517.4 L1062.6 518.0 L1063.4 518.7 L1064.1 519.3 L1064.8 520.0 L1065.5 520.7 L1066.3 521.5 L1067.0 522.3 L1067.7 523.1 L1068.3 524.0 L1069.0 524.9 L1069.7 525.7 L1070.4 526.6 L1071.0 527.5 L1071.7 528.3 L1072.3 529.1 L1072.9 529.9 L1073.5 530.7 L1074.2 531.3 L1074.8 532.0 L1075.4 532.6 L1075.9 533.1 L1076.5 533.5 L1077.1 533.8 L1077.7 534.0 L1078.2 534.1 L1078.7 534.0 L1079.2 533.9 L1079.7 533.6 L1080.2 533.3 L1080.6 533.0 L1081.1 532.6 L1081.5 532.1 L1082.0 531.7 L1082.4 531.3 L1082.8 530.9 L1083.3 530.5 L1083.8 530.2 L1084.2 530.0 L1084.7 529.9 L1085.2 529.9 L1085.7 530.0 L1086.2 530.2 L1086.8 530.6 L1087.4 531.2 L1087.9 531.9 L1088.5 532.8 L1089.1 533.8 L1089.7 534.9 L1090.3 536.1 L1090.9 537.4 L1091.6 538.8 L1092.2 540.2 L1092.8 541.6 L1093.5 543.0 L1094.1 544.4 L1094.8 545.8 L1095.5 547.2 L1096.2 548.4 L1096.9 549.6 L1097.6 550.7 L1098.3 551.7 L1099.0 552.5 L1099.7 553.2 L1100.4 553.8 L1101.2 554.2 L1101.9 554.6 L1102.7 555.0 L1103.4 555.2 L1104.2 555.4 L1105.0 555.6 L1105.8 555.7 L1106.6 555.7 L1107.4 555.7 L1108.2 555.7 L1109.0 555.6 L1109.9 555.5 L1110.7 555.5 L1111.5 555.3 L1112.4 555.2 L1113.3 555.1 L1114.1 555.0 L1115.0 554.9 L1115.9 554.8 L1116.8 554.7 L1117.7 554.5 L1118.6 554.4 L1119.6 554.1 L1120.5 553.9 L1121.5 553.6 L1122.5 553.3 L1123.4 553.0 L1124.4 552.6 L1125.4 552.3 L1126.4 552.0 L1127.4 551.7 L1128.4 551.3 L1129.4 551.1 L1130.4 550.8 L1131.4 550.6 L1132.4 550.3 L1133.3 550.2 L1134.3 550.1 L1135.3 550.0 L1136.3 550.0 L1137.3 550.0 L1138.3 550.1 L1139.3 550.2 L1140.4 550.3 L1141.4 550.5 L1142.5 550.7 L1143.5 550.9 L1144.6 551.2 L1145.6 551.4 L1146.6 551.6 L1147.6 551.9 L1148.6 552.1 L1149.6 552.3 L1150.5 552.6 L1151.4 552.7 L1152.3 552.9 L1153.2 553.0 L1153.9 553.1 L1154.7 553.2 L1155.4 553.2 L1156.0 553.3 L1156.6 553.4 L1157.2 553.4 L1157.7 553.5 L1158.2 553.6 L1158.6 553.6 L1159.0 553.7 L1159.5 553.7 L1159.9 553.7 L1160.2 553.7 L1160.6 553.6 L1161.0 553.5 L1161.4 553.4 L1161.9 553.3 L1162.3 553.0 L1162.8 552.8 L1163.3 552.4 L1163.8 552.1 L1164.4 551.6 L1165.0 551.0 L1165.7 550.3 L1166.3 549.5 L1167.0 548.6 L1167.7 547.6 L1168.4 546.5 L1169.2 545.4 L1169.9 544.2 L1170.6 543.1 L1171.4 541.9 L1172.2 540.7 L1172.9 539.6 L1173.7 538.5 L1174.5 537.5 L1175.2 536.6 L1176.0 535.8 L1176.8 535.0 L1177.5 534.5 L1178.3 534.1 L1179.0 533.8 L1179.7 533.7 L1180.5 533.8 L1181.2 534.0 L1182.0 534.4 L1182.7 534.8 L1183.5 535.4 L1184.3 536.1 L1185.0 536.8 L1185.8 537.5 L1186.6 538.3 L1187.3 539.2 L1188.1 540.0 L1188.8 540.8 L1189.5 541.6 L1190.2 542.4 L1190.9 543.1 L1191.6 543.7 L1192.2 544.3 L1192.9 544.8 L1193.5 545.1 L1194.1 545.3 L1194.6 545.5 L1195.2 545.6 L1195.7 545.6 L1196.2 545.6 L1196.7 545.6 L1197.1 545.5 L1197.6 545.4 L1198.0 545.2 L1198.4 545.1 L1198.9 545.0 L1199.3 544.8 L1199.8 544.7 L1200.2 544.6 L1200.7 544.6 L1201.1 544.6 L1201.6 544.6 L1202.1 544.7 L1202.6 544.9 L1203.2 545.1 L1203.8 545.4 L1204.4 545.8 L1205.0 546.3 L1205.6 546.8 L1206.3 547.3 L1207.0 547.9 L1207.6 548.6 L1208.3 549.2 L1209.0 549.9 L1209.7 550.6 L1210.4 551.3 L1211.1 552.0 L1211.8 552.7 L1212.4 553.3 L1213.1 554.0 L1213.8 554.6 L1214.4 555.1 L1215.0 555.6 L1215.6 556.1 L1216.2 556.5 L1216.8 556.8 L1217.3 557.1 L1217.8 557.2 L1218.4 557.4 L1218.9 557.4 L1219.4 557.5 L1219.8 557.5 L1220.3 557.4 L1220.8 557.4 L1221.3 557.4 L1221.7 557.4 L1222.2 557.4 L1222.6 557.5 L1223.1 557.6 L1223.6 557.7 L1224.0 557.9 L1224.5 558.2 L1224.9 558.6 L1225.4 559.1 L1225.9 559.7 L1226.4 560.4 L1226.8 561.2 L1227.3 562.1 L1227.7 563.0 L1228.2 564.0 L1228.6 565.1 L1229.0 566.2 L1229.5 567.4 L1229.9 568.6 L1230.4 569.9 L1230.8 571.2 L1231.3 572.4 L1231.7 573.7 L1232.2 575.0 L1232.7 576.3 L1233.3 577.6 L1233.8 578.8 L1234.4 580.0 L1235.0 581.2 L1235.6 582.3 L1236.3 583.4 L1237.0 584.5 L1237.7 585.7 L1238.4 586.8 L1239.2 588.0 L1240.0 589.1 L1240.8 590.3 L1241.6 591.5 L1242.4 592.6 L1243.2 593.8 L1244.1 594.9 L1244.9 596.0 L1245.8 597.0 L1246.7 598.1 L1247.5 599.1 L1248.4 600.0 L1249.2 601.0 L1250.1 601.8 L1250.9 602.6 L1251.7 603.4 L1252.5 604.1 L1253.3 604.7 L1254.1 605.3 L1254.9 605.9 L1255.6 606.4 L1256.4 606.8 L1257.2 607.3 L1257.9 607.7 L1258.7 608.0 L1259.5 608.4 L1260.3 608.7 L1261.1 609.0 L1261.9 609.3 L1262.7 609.6 L1263.5 609.9 L1264.4 610.2 L1265.2 610.5 L1266.1 610.8 L1267.0 611.2 L1267.9 611.5 L1268.9 611.9 L1269.9 612.2 L1270.9 612.6 L1272.0 612.9 L1273.0 613.3 L1274.2 613.6 L1275.3 614.0 L1276.4 614.3 L1277.6 614.6 L1278.7 614.9 L1279.9 615.3 L1281.0 615.6 L1282.1 615.9 L1283.2 616.1 L1284.2 616.4 L1285.3 616.7 L1286.2 616.9 L1287.2 617.2 L1288.1 617.4 L1288.9 617.6 L1289.7 617.8 L1290.4 618.0 L1291.2 618.2 L1291.9 618.3 L1292.5 618.5 L1293.2 618.6 L1293.8 618.8 L1294.4 618.9 L1295.0 619.0 L1295.5 619.1 L1296.0 619.2 L1296.5 619.3 L1297.0 619.3 L1297.5 619.4 L1297.9 619.4 L1298.4 619.5 L1298.8 619.5 L1299.2 619.5 L1299.6 619.5 L1300.0 619.5 L1300.4 619.5 L1300.7 619.4 L1301.0 619.3 L1301.3 619.2 L1301.5 619.1 L1301.7 618.9 L1301.9 618.8 L1302.1 618.6 L1302.3 618.5 L1302.5 618.3 L1302.6 618.1 L1302.8 617.9 L1302.9 617.8 L1303.1 617.6 L1303.3 617.4 L1303.4 617.3 L1303.6 617.2 L1303.8 617.1 L1304.0 617.0 L1304.2 617.0 L1304.4 617.0 L1304.7 617.0 L1304.9 617.0 L1305.2 617.0 L1305.4 617.1 L1305.6 617.1 L1305.9 617.2 L1306.1 617.3 L1306.4 617.4 L1306.7 617.5 L1306.9 617.6 L1307.2 617.7 L1307.4 617.8 L1307.7 617.9 L1307.9 618.0 L1308.2 618.1 L1308.4 618.2 L1308.7 618.3 L1309.0 618.4 L1309.2 618.5 L1309.4 618.6 L1309.7 618.7 L1309.9 618.8 L1310.1 618.9 L1310.3 619.0 L1310.5 619.0 L1310.7 619.1 L1310.9 619.2 L1311.1 619.3 L1311.3 619.4 L1311.6 619.5 L1311.8 619.6 L1312.0 619.7 L1312.3 619.8 L1312.5 619.9 L1312.8 620.0 L1313.1 620.0 L1313.4 620.1 L1313.7 620.2 L1314.1 620.2 L1314.5 620.2 L1314.9 620.2 L1315.3 620.2 L1315.8 620.2 L1316.3 620.2 L1316.8 620.1 L1317.3 620.1 L1317.9 620.0 L1318.4 620.0 L1319.0 620.0 L1319.5 619.9 L1320.1 619.9 L1320.6 619.8 L1321.1 619.8 L1321.7 619.8 L1322.2 619.9 L1322.7 619.9 L1323.1 620.0 L1323.6 620.1 L1324.0 620.2 L1324.4 620.4 L1324.8 620.5 L1325.2 620.7 L1325.5 621.0 L1325.9 621.2 L1326.2 621.5 L1326.5 621.7 L1326.8 622.0 L1327.2 622.3 L1327.5 622.6 L1327.8 622.9 L1328.0 623.3 L1328.3 623.6 L1328.6 623.9 L1328.9 624.3 L1329.2 624.6 L1329.5 624.9 L1329.7 625.3 L1330.0 625.6 L1330.3 625.9 L1330.6 626.2 L1330.8 626.5 L1331.1 626.8 L1331.4 627.1 L1331.6 627.4 L1331.9 627.7 L1332.1 628.1 L1332.4 628.4 L1332.6 628.7 L1332.8 629.0 L1333.1 629.3 L1333.3 629.7 L1333.6 630.0 L1333.8 630.4 L1334.0 630.8 L1334.3 631.2 L1334.5 631.6 L1334.8 632.0 L1335.0 632.4 L1335.3 632.9 L1335.6 633.4 L1335.8 633.9 L1336.1 634.4 L1336.4 635.0 L1336.7 635.5 L1337.0 636.1 L1337.3 636.7 L1337.6 637.3 L1337.9 638.0 L1338.1 638.6 L1338.4 639.2 L1338.7 639.9 L1339.0 640.5 L1339.3 641.1 L1339.6 641.8 L1339.9 642.4 L1340.1 643.1 L1340.4 643.7 L1340.6 644.3 L1340.9 644.9 L1341.1 645.5 L1341.4 646.1 L1341.6 646.7 L1341.8 647.3 L1342.1 647.9 L1342.3 648.5 L1342.5 649.0 L1342.7 649.6 L1342.9 650.2 L1343.1 650.8 L1343.3 651.4 L1343.5 652.0 L1343.7 652.6 L1343.9 653.2 L1344.1 653.8 L1344.3 654.4 L1344.5 655.0 L1344.8 655.6 L1345.0 656.3 L1345.2 656.9 L1345.4 657.6 L1345.7 658.2 L1345.9 659.0 L1346.1 659.7 L1346.4 660.5 L1346.6 661.2 L1346.9 662.0 L1347.1 662.8 L1347.4 663.6 L1347.6 664.3 L1347.9 665.1 L1348.1 665.8 L1348.4 666.5 L1348.6 667.2 L1348.9 667.9 L1349.1 668.5 L1349.4 669.0 L1349.6 669.5 L1349.9 669.9 L1350.1 670.3 L1350.3 670.6 L1350.6 670.8 L1350.9 671.0 L1351.1 671.1 L1351.4 671.2 L1351.7 671.2 L1351.9 671.2 L1352.2 671.1 L1352.5 671.1 L1352.7 671.0 L1353.0 670.8 L1353.2 670.7 L1353.5 670.6 L1353.7 670.5 L1354.0 670.4 L1354.2 670.3 L1354.4 670.3 L1354.6 670.2 L1354.8 670.3 L1355.0 670.3 L1355.2 670.4 L1355.3 670.5 L1355.5 670.6 L1355.6 670.8 L1355.7 670.9 L1355.8 671.1 L1355.9 671.3 L1356.0 671.5 L1356.1 671.7 L1356.2 671.9 L1356.3 672.1 L1356.4 672.3 L1356.4 672.4 L1356.5 672.6 L1356.6 672.8 L1356.7 672.9 L1356.8 673.0 L1356.9 673.1 L1357.1 673.2 L1357.2 673.2 L1357.3 673.2 L1357.5 673.2 L1357.7 673.2 L1357.8 673.1 L1358.0 673.0 L1358.2 672.9 L1358.3 672.8 L1358.5 672.7 L1358.7 672.6 L1358.9 672.5 L1359.1 672.3 L1359.2 672.2 L1359.4 672.0 L1359.6 671.9 L1359.8 671.7 L1360.0 671.6 L1360.2 671.4 L1360.3 671.3 L1360.5 671.1 L1360.7 671.0 L1360.9 670.9 L1361.1 670.7 L1361.2 670.6 L1361.4 670.4 L1361.6 670.2 L1361.8 670.0 L1362.0 669.8 L1362.1 669.7 L1362.3 669.5 L1362.5 669.3 L1362.7 669.1 L1362.9 668.9 L1363.0 668.8 L1363.2 668.6 L1363.4 668.5 L1363.5 668.4 L1363.7 668.3 L1363.9 668.3 L1364.0 668.2 L1364.2 668.2 L1364.4 668.2 L1364.5 668.3 L1364.6 668.3 L1364.8 668.4 L1364.9 668.6 L1365.0 668.7 L1365.1 668.9 L1365.3 669.1 L1365.4 669.2 L1365.5 669.4 L1365.6 669.6 L1365.8 669.8 L1365.9 670.0 L1366.0 670.2 L1366.2 670.4 L1366.3 670.5 L1366.5 670.7 L1366.6 670.8 L1366.8 670.9 L1367.0 671.0 L1367.2 671.1 L1367.4 671.1 L1367.7 671.1 L1367.9 671.1 L1368.2 671.1 L1368.4 671.1 L1368.7 671.1 L1369.0 671.1 L1369.3 671.1 L1369.5 671.0 L1369.8 671.0 L1370.1 671.0 L1370.4 670.9 L1370.6 670.9 L1370.9 670.9 L1371.2 670.9 L1371.4 670.9 L1371.6 670.9 L1371.8 671.0 L1372.0 671.0 L1372.2 671.1 L1372.3 671.2 L1372.5 671.3 L1372.6 671.4 L1372.7 671.6 L1372.8 671.7 L1372.9 671.9 L1373.0 672.1 L1373.1 672.3 L1373.1 672.5 L1373.2 672.6 L1373.3 672.8 L1373.4 672.9 L1373.5 673.1 L1373.5 673.2 L1373.6 673.2 L1373.7 673.3 L1373.8 673.3 L1374.0 673.3 L1374.1 673.2 L1374.2 673.1 L1374.4 673.0 L1374.5 672.8 L1374.7 672.6 L1374.9 672.4 L1375.0 672.2 L1375.2 672.0 L1375.4 671.7 L1375.5 671.4 L1375.7 671.2 L1375.9 670.8 L1376.1 670.5 L1376.3 670.2 L1376.4 669.8 L1376.6 669.5 L1376.8 669.1 L1377.0 668.7 L1377.2 668.3 L1377.4 667.9 L1377.6 667.5 L1377.8 667.1 L1378.0 666.7 L1378.2 666.2 L1378.4 665.7 L1378.6 665.3 L1378.8 664.8 L1379.0 664.3 L1379.3 663.7 L1379.5 663.2 L1379.7 662.7 L1379.9 662.1 L1380.1 661.6 L1380.4 661.0 L1380.6 660.4 L1380.8 659.9 L1381.0 659.3 L1381.3 658.7 L1381.5 658.1 L1381.7 657.5 L1381.9 656.9 L1382.1 656.3 L1382.3 655.7 L1382.5 655.1 L1382.8 654.4 L1383.0 653.8 L1383.2 653.2 L1383.4 652.5 L1383.7 651.8 L1383.9 651.2 L1384.1 650.5 L1384.3 649.8 L1384.5 649.1 L1384.7 648.5 L1384.9 647.8 L1385.2 647.1 L1385.4 646.4 L1385.5 645.7 L1385.7 644.9 L1385.9 644.2 L1386.1 643.5 L1386.3 642.8 L1386.4 642.0 L1386.6 641.3 L1386.7 640.5 L1386.9 639.7 L1387.0 639.0 L1387.2 638.2 L1387.3 637.4 L1387.4 636.6 L1387.5 635.8 L1387.7 635.0 L1387.8 634.2 L1387.9 633.4 L1388.1 632.6 L1388.2 631.8 L1388.3 631.0 L1388.5 630.3 L1388.6 629.5 L1388.7 628.7 L1388.9 628.0 L1389.1 627.3 L1389.2 626.5 L1389.4 625.7 L1389.6 625.0 L1389.7 624.2 L1389.9 623.4 L1390.1 622.7 L1390.2 621.9 L1390.4 621.2 L1390.6 620.4 L1390.8 619.7 L1391.0 619.0 L1391.1 618.3 L1391.3 617.6 L1391.5 616.9 L1391.7 616.2 L1391.9 615.6 L1392.0 615.0 L1392.2 614.4 L1392.4 613.9 L1392.6 613.4 L1392.8 612.9 L1392.9 612.4 L1393.1 612.0 L1393.3 611.5 L1393.5 611.1 L1393.7 610.7 L1393.9 610.3 L1394.1 610.0 L1394.2 609.6 L1394.4 609.3 L1394.6 609.0 L1394.8 608.7 L1395.0 608.4 L1395.2 608.1 L1395.3 607.8 L1395.5 607.5 L1395.7 607.3 L1395.8 607.0 L1396.0 606.8 L1396.2 606.6 L1396.3 606.3 L1396.4 606.1 L1396.6 605.9 L1396.7 605.8 L1396.8 605.6 L1397.0 605.4 L1397.1 605.3 L1397.2 605.1 L1397.3 605.0 L1397.4 604.9 L1397.6 604.8 L1397.7 604.7 L1397.8 604.6 L1398.0 604.5 L1398.1 604.5 L1398.3 604.4 L1398.4 604.4 L1398.6 604.3 L1398.8 604.3 L1399.0 604.3 L1399.2 604.3 L1399.4 604.4 L1399.7 604.4 L1399.9 604.5 L1400.1 604.6 L1400.4 604.8 L1400.6 604.9 L1400.9 605.0 L1401.2 605.2 L1401.4 605.3 L1401.7 605.4 L1401.9 605.6 L1402.2 605.7 L1402.5 605.8 L1402.7 605.8 L1403.0 605.9 L1403.2 605.9 L1403.5 605.9 L1403.7 605.8 L1403.9 605.7 L1404.2 605.6 L1404.4 605.4 L1404.6 605.3 L1404.9 605.1 L1405.1 604.9 L1405.3 604.7 L1405.5 604.4 L1405.8 604.2 L1406.0 603.9 L1406.2 603.6 L1406.4 603.4 L1406.6 603.1 L1406.8 602.8 L1407.0 602.5 L1407.2 602.2 L1407.4 602.0 L1407.6 601.7 L1407.8 601.4 L1408.0 601.2 L1408.2 601.0 L1408.3 600.7 L1408.5 600.5 L1408.7 600.3 L1408.8 600.0 L1409.0 599.8 L1409.1 599.6 L1409.3 599.3 L1409.4 599.1 L1409.5 598.9 L1409.7 598.6 L1409.8 598.4 L1409.9 598.1 L1410.1 597.9 L1410.2 597.6 L1410.3 597.3 L1410.4 597.1 L1410.6 596.8 L1410.7 596.5 L1410.8 596.2 L1410.9 595.9 L1411.0 595.6 L1411.1 595.3 L1411.2 595.0 L1411.3 594.6 L1411.4 594.3 L1411.5 594.0 L1411.6 593.6 L1411.7 593.3 L1411.8 593.0 L1411.9 592.6 L1412.0 592.3 L1412.1 591.9 L1412.2 591.5 L1412.3 591.2 L1412.4 590.8 L1412.5 590.4 L1412.6 590.0 L1412.8 589.6 L1412.9 589.2 L1413.0 588.8 L1413.2 588.4 L1413.3 587.9 L1413.5 587.5 L1413.7 587.1 L1413.8 586.6 L1414.0 586.2 L1414.2 585.7 L1414.4 585.3 L1414.6 584.8 L1414.7 584.3 L1414.9 583.8 L1415.1 583.4 L1415.3 582.9 L1415.5 582.4 L1415.7 581.9 L1415.9 581.4 L1416.0 581.0 L1416.2 580.5 L1416.4 580.0 L1416.6 579.5 L1416.8 579.0 L1416.9 578.5 L1417.1 578.1 L1417.3 577.6 L1417.5 577.1 L1417.6 576.6 L1417.8 576.1 L1418.0 575.6 L1418.2 575.1 L1418.3 574.6 L1418.5 574.1 L1418.7 573.6 L1418.9 573.1 L1419.1 572.6 L1419.2 572.0 L1419.4 571.5 L1419.6 571.0 L1419.8 570.5 L1420.0 570.0 L1420.2 569.5 L1420.4 569.0 L1420.6 568.5 L1420.7 568.0 L1420.9 567.6 L1421.1 567.1 L1421.3 566.7 L1421.4 566.2 L1421.6 565.7 L1421.8 565.2 L1422.0 564.7 L1422.2 564.2 L1422.4 563.7 L1422.6 563.2 L1422.8 562.6 L1423.1 562.1 L1423.3 561.5 L1423.6 560.8 L1423.8 560.2 L1424.1 559.5 L1424.4 558.8 L1424.7 558.0 L1425.0 557.2 L1425.3 556.4 L1425.6 555.6 L1426.0 554.7 L1426.3 553.9 L1426.7 553.0 L1427.0 552.0 L1427.4 551.1 L1427.8 550.2 L1428.2 549.2 L1428.5 548.3 L1428.9 547.4 L1429.4 546.4 L1429.8 545.4 L1430.2 544.5 L1430.6 543.6 L1431.1 542.6 L1431.5 541.7 L1432.0 540.8 L1432.4 539.8 L1432.9 538.9 L1433.4 537.9 L1433.8 536.9 L1434.3 536.0 L1434.8 535.0 L1435.3 534.0 L1435.8 533.0 L1436.4 532.0 L1436.9 531.1 L1437.4 530.1 L1438.0 529.1 L1438.5 528.2 L1439.1 527.2 L1439.7 526.3 L1440.2 525.4 L1440.8 524.5 L1441.4 523.6 L1442.0 522.8 L1442.6 522.0 L1443.2 521.1 L1443.9 520.3 L1444.6 519.4 L1445.2 518.6 L1445.9 517.7 L1446.6 516.9 L1447.3 516.0 L1448.0 515.2 L1448.7 514.4 L1449.4 513.7 L1450.2 512.9 L1450.9 512.2 L1451.6 511.5 L1452.3 510.9 L1453.0 510.3 L1453.6 509.8 L1454.3 509.3 L1455.0 508.9 L1455.6 508.5 L1456.2 508.2 L1456.8 508.0 L1457.4 507.8 L1458.0 507.7 L1458.6 507.7 L1459.2 507.7 L1459.8 507.8 L1460.3 507.9 L1460.9 508.0 L1461.5 508.2 L1462.0 508.3 L1462.6 508.5 L1463.1 508.6 L1463.7 508.8 L1464.3 508.9 L1464.8 509.0 L1465.4 509.1 L1466.0 509.2 L1466.6 509.2 L1467.2 509.1 L1467.8 509.0 L1468.4 508.9 L1469.0 508.8 L1469.6 508.7 L1470.2 508.5 L1470.8 508.4 L1471.5 508.2 L1472.1 508.0 L1472.7 507.8 L1473.3 507.6 L1473.9 507.4 L1474.6 507.2 L1475.2 506.9 L1475.8 506.7 L1476.5 506.4 L1477.1 506.2 L1477.8 505.9 L1478.5 505.6 L1479.1 505.3 L1479.8 505.0 L1480.5 504.7 L1481.2 504.3 L1481.9 503.8 L1482.6 503.4 L1483.3 502.8 L1484.1 502.3 L1484.8 501.8 L1485.5 501.2 L1486.3 500.7 L1487.0 500.1 L1487.8 499.6 L1488.5 499.1 L1489.3 498.6 L1490.0 498.1 L1490.8 497.7 L1491.5 497.3 L1492.3 497.0 L1493.0 496.8 L1493.8 496.6 L1494.5 496.5 L1495.2 496.5 L1496.0 496.6 L1496.7 496.8 L1497.4 497.0 L1498.2 497.3 L1498.9 497.7 L1499.6 498.1 L1500.4 498.6 L1501.1 499.0 L1501.8 499.5 L1502.6 500.0 L1503.3 500.5 L1504.1 500.9 L1504.8 501.3 L1505.5 501.7 L1506.3 502.0 L1507.0 502.2 L1507.7 502.4 L1508.5 502.4 L1509.2 502.4 L1509.9 502.3 L1510.7 502.0 L1511.4 501.7 L1512.1 501.3 L1512.8 500.8 L1513.5 500.3 L1514.3 499.7 L1515.0 499.1 L1515.7 498.4 L1516.4 497.8 L1517.1 497.1 L1517.9 496.5 L1518.6 495.8 L1519.3 495.2 L1520.1 494.7 L1520.8 494.1 L1521.6 493.7 L1522.3 493.3 L1523.1 493.0 L1523.9 492.8 L1524.7 492.7 L1525.5 492.6 L1526.3 492.7 L1527.2 492.7 L1528.1 492.9 L1528.9 493.0 L1529.8 493.3 L1530.7 493.5 L1531.6 493.8 L1532.4 494.0 L1533.3 494.3 L1534.2 494.6 L1535.0 494.9 L1535.9 495.2 L1536.7 495.4 L1537.6 495.6 L1538.4 495.8 L1539.2 496.0 L1540.0 496.1 L1540.7 496.1 L1541.4 496.1 L1542.1 496.1 L1542.8 496.1 L1543.4 496.1 L1544.0 496.1 L1544.7 496.0 L1545.3 496.0 L1545.8 495.9 L1546.4 495.8 L1547.0 495.7 L1547.6 495.6 L1548.2 495.4 L1548.7 495.2 L1549.3 495.0 L1550.0 494.8 L1550.6 494.5 L1551.2 494.2 L1551.9 493.8 L1552.6 493.4 L1553.3 493.0 L1554.1 492.5 L1554.8 491.9 L1555.6 491.2 L1556.5 490.5 L1557.3 489.7 L1558.2 488.9 L1559.0 488.0 L1559.9 487.1 L1560.8 486.2 L1561.7 485.2 L1562.6 484.3 L1563.5 483.4 L1564.4 482.5 L1565.2 481.6 L1566.1 480.8 L1566.9 480.0 L1567.8 479.3 L1568.6 478.7 L1569.3 478.1 L1570.1 477.6 L1570.8 477.2 L1571.5 476.9 L1572.2 476.6 L1572.9 476.4 L1573.6 476.2 L1574.3 476.1 L1574.9 476.0 L1575.5 475.9 L1576.2 475.9 L1576.8 475.9 L1577.4 475.8 L1578.0 475.9 L1578.6 475.9 L1579.2 475.9 L1579.8 475.9 L1580.4 475.8 L1581.0 475.8 L1581.5 475.7 L1582.1 475.6 L1582.7 475.5 L1583.3 475.3 L1583.8 475.2 L1584.3 475.0 L1584.8 474.8 L1585.3 474.6 L1585.7 474.3 L1586.2 474.1 L1586.6 473.9 L1587.1 473.7 L1587.6 473.4 L1588.0 473.2 L1588.5 473.0 L1589.0 472.7 L1589.5 472.5 L1590.0 472.3 L1590.6 472.1 L1591.2 471.9 L1591.8 471.7 L1592.5 471.5 L1593.2 471.3 L1594.0 471.1 L1594.8 471.0 L1595.7 470.8 L1596.6 470.7 L1597.5 470.6 L1598.5 470.5 L1599.5 470.4 L1600.6 470.2 L1601.6 470.1 L1602.6 470.0 L1603.7 469.9 L1604.7 469.8 L1605.8 469.7 L1606.8 469.6 L1607.8 469.5 L1608.7 469.4 L1609.6 469.2 L1610.5 469.1 L1611.3 469.0 L1612.1 468.8 L1612.8 468.6 L1613.4 468.5 L1614.0 468.3 L1614.6 468.2 L1615.1 468.0 L1615.5 467.8 L1616.0 467.6 L1616.4 467.5 L1616.8 467.3 L1617.2 467.1 L1617.6 466.9 L1618.0 466.7 L1618.5 466.5 L1618.9 466.3 L1619.4 466.1 L1620.0 465.9 L1620.5 465.7 L1621.2 465.5 L1621.8 465.2 L1622.6 465.0 L1623.4 464.8 L1624.3 464.5 L1625.2 464.2 L1626.2 463.9 L1627.3 463.6 L1628.3 463.3 L1629.4 463.0 L1630.5 462.7 L1631.7 462.3 L1632.8 462.0 L1634.0 461.7 L1635.1 461.4 L1636.3 461.1 L1637.4 460.8 L1638.5 460.5 L1639.6 460.2 L1640.7 460.0 L1641.7 459.8 L1642.7 459.6 L1643.6 459.4 L1644.5 459.3 L1645.3 459.1 L1646.1 459.1 L1646.9 459.0 L1647.7 458.9 L1648.5 458.9 L1649.2 458.9 L1649.9 458.9 L1650.6 458.9 L1651.3 458.9 L1652.0 458.9 L1652.7 458.9 L1653.4 459.0 L1654.1 459.0 L1654.8 459.0 L1655.5 458.9 L1656.2 458.9 L1656.9 458.9 L1657.6 458.8 L1658.3 458.7 L1659.0 458.6 L1659.8 458.5 L1660.5 458.3 L1661.2 458.1 L1661.9 458.0 L1662.6 457.8 L1663.4 457.6 L1664.1 457.4 L1664.8 457.2 L1665.5 457.0 L1666.2 456.8 L1667.0 456.6 L1667.7 456.4 L1668.4 456.2 L1669.2 456.0 L1669.9 455.8 L1670.7 455.6 L1671.4 455.5 L1672.2 455.3 L1673.0 455.2 L1673.8 455.1 L1674.6 455.0 L1675.5 454.9 L1676.3 454.8 L1677.2 454.8 L1678.1 454.7 L1679.0 454.7 L1679.9 454.6 L1680.8 454.6 L1681.7 454.6 L1682.6 454.5 L1683.4 454.5 L1684.3 454.4 L1685.2 454.4 L1686.0 454.3 L1686.8 454.3 L1687.6 454.2 L1688.4 454.1 L1689.1 454.0 L1689.8 453.9 L1690.5 453.8 L1691.0 453.7 L1691.6 453.6 L1692.1 453.5 L1692.6 453.4 L1693.0 453.3 L1693.4 453.2 L1693.8 453.1 L1694.3 453.0 L1694.7 452.9 L1695.1 452.7 L1695.5 452.6 L1695.9 452.4 L1696.4 452.2 L1696.9 452.0 L1697.5 451.7 L1698.1 451.4 L1698.8 451.1 L1699.5 450.7 L1700.3 450.3 L1701.2 449.8 L1702.1 449.3 L1703.1 448.7 L1704.2 448.1 L1705.3 447.5 L1706.5 446.8 L1707.7 446.0 L1708.9 445.3 L1710.2 444.5 L1711.5 443.7 L1712.7 443.0 L1714.0 442.2 L1715.3 441.4 L1716.5 440.6 L1717.8 439.9 L1719.0 439.2 L1720.2 438.5 L1721.3 437.9 L1722.4 437.3 L1723.4 436.7 L1724.4 436.2 L1725.4 435.7 L1726.3 435.3 L1727.2 434.8 L1728.1 434.4 L1729.0 434.1 L1729.9 433.7 L1730.8 433.3 L1731.6 433.0 L1732.5 432.7 L1733.3 432.3 L1734.1 432.0 L1734.9 431.7 L1735.7 431.4 L1736.4 431.1 L1737.2 430.7 L1738.0 430.4 L1738.7 430.0 L1739.5 429.7 L1740.2 429.3 L1740.9 428.9 L1741.6 428.5 L1742.3 428.1 L1742.9 427.7 L1743.5 427.3 L1744.2 426.9 L1744.8 426.4 L1745.3 426.0 L1745.9 425.6 L1746.5 425.2 L1747.1 424.8 L1747.7 424.3 L1748.2 423.9 L1748.8 423.5 L1749.5 423.1 L1750.1 422.6 L1750.7 422.2 L1751.4 421.8 L1752.1 421.4 L1752.8 421.0 L1753.6 420.6 L1754.3 420.2 L1755.2 419.7 L1756.0 419.3 L1756.9 418.9 L1757.7 418.4 L1758.6 418.0 L1759.5 417.6 L1760.4 417.1 L1761.3 416.7 L1762.2 416.3 L1763.1 415.9 L1764.0 415.5 L1764.9 415.1 L1765.7 414.7 L1766.6 414.4 L1767.4 414.1 L1768.2 413.7 L1768.9 413.5 L1769.6 413.2 L1770.3 413.0 L1770.9 412.8 L1771.5 412.6 L1772.0 412.5 L1772.6 412.4 L1773.1 412.3 L1773.6 412.3 L1774.1 412.2 L1774.5 412.2 L1775.0 412.2 L1775.4 412.1 L1775.9 412.1 L1776.4 412.0 L1776.8 412.0 L1777.3 411.9 L1777.8 411.8 L1778.4 411.7 L1778.9 411.5 L1779.5 411.3 L1780.1 411.1 L1780.7 410.8 L1781.4 410.5 L1782.1 410.2 L1782.8 409.8 L1783.5 409.4 L1784.2 408.9 L1784.9 408.5 L1785.7 408.0 L1786.4 407.5 L1787.2 407.0 L1788.0 406.6 L1788.7 406.1 L1789.5 405.6 L1790.3 405.2 L1791.0 404.8 L1791.8 404.4 L1792.6 404.0 L1793.3 403.6 L1794.1 403.4 L1794.8 403.1 L1795.6 402.9 L1796.3 402.7 L1797.1 402.6 L1798.0 402.4 L1798.8 402.3 L1799.7 402.2 L1800.5 402.2 L1801.4 402.1 L1802.2 402.1 L1803.1 402.1 L1803.9 402.0 L1804.7 402.0 L1805.4 402.0 L1806.2 402.0 L1806.9 402.0 L1807.5 402.0 L1808.1 402.0 L1808.6 402.0 L1809.1 402.0 L1809.5 402.0" stroke="#000" stroke-width="1.35" fill="none"/>
<path d="M260.5 672.9 L262.1 675.0 L263.9 677.4 L266.0 680.2 L268.3 683.2 L270.8 686.5 L273.5 690.1 L276.4 693.8 L279.4 697.8 L282.5 701.9 L285.7 706.1 L289.0 710.4 L292.3 714.7 L295.7 719.1 L299.0 723.5 L302.4 727.9 L305.8 732.2 L309.1 736.4 L312.3 740.4 L315.5 744.4 L318.5 748.1 L321.5 751.8 L324.5 755.4 L327.5 759.1 L330.5 762.9 L333.5 766.6 L336.5 770.3 L339.6 774.0 L342.6 777.7 L345.7 781.4 L348.7 785.0 L351.8 788.7 L354.8 792.2 L357.9 795.8 L361.0 799.2 L364.1 802.7 L367.2 806.0 L370.3 809.3 L373.4 812.5 L376.5 815.6 L379.6 818.6 L382.7 821.5 L385.9 824.4 L389.1 827.3 L392.4 830.1 L395.7 832.8 L399.0 835.5 L402.3 838.1 L405.6 840.7 L408.9 843.3 L412.2 845.7 L415.5 848.1 L418.7 850.5 L421.9 852.7 L425.1 854.9 L428.2 857.1 L431.3 859.2 L434.4 861.2 L437.3 863.1 L440.2 865.0 L443.0 866.8 L445.7 868.5 L448.4 870.1 L450.9 871.6 L453.4 873.0 L455.9 874.4 L458.3 875.7 L460.7 876.8 L463.0 878.0 L465.3 879.1 L467.5 880.1 L469.8 881.1 L472.0 882.0 L474.2 882.9 L476.4 883.8 L478.6 884.7 L480.9 885.6 L483.1 886.4 L485.4 887.3 L487.7 888.2 L490.0 889.1 L492.4 890.0 L494.8 890.9 L497.3 891.8 L499.8 892.6 L502.3 893.5 L504.8 894.3 L507.4 895.1 L509.9 895.9 L512.5 896.7 L515.0 897.4 L517.4 898.1 L519.9 898.8 L522.3 899.5 L524.6 900.1 L526.9 900.7 L529.1 901.3 L531.2 901.8 L533.3 902.3 L535.2 902.8 L537.0 903.2 L538.7 903.6 L540.3 903.9 L541.8 904.2 L543.2 904.5 L544.5 904.7 L545.8 904.9 L547.0 905.1 L548.1 905.2 L549.2 905.3 L550.2 905.4 L551.2 905.5 L552.2 905.5 L553.2 905.6 L554.2 905.6 L555.2 905.6 L556.2 905.6 L557.2 905.6 L558.3 905.6 L559.4 905.6 L560.5 905.6 L561.7 905.6 L562.8 905.6 L563.9 905.6 L564.9 905.6 L566.0 905.5 L567.0 905.5 L568.1 905.4 L569.1 905.4 L570.2 905.3 L571.2 905.2 L572.3 905.1 L573.4 905.0 L574.6 904.8 L575.7 904.7 L577.0 904.5 L578.2 904.3 L579.6 904.1 L581.0 903.8 L582.5 903.5 L584.0 903.2 L585.6 902.9 L587.3 902.5 L589.1 902.2 L590.9 901.8 L592.8 901.4 L594.7 901.0 L596.7 900.6 L598.7 900.2 L600.7 899.7 L602.8 899.2 L604.9 898.7 L607.0 898.2 L609.2 897.6 L611.3 897.0 L613.5 896.3 L615.6 895.7 L617.7 895.0 L619.8 894.2 L621.9 893.4 L624.0 892.6 L626.1 891.7 L628.1 890.8 L630.2 889.9 L632.3 888.9 L634.4 887.8 L636.5 886.8 L638.6 885.7 L640.7 884.6 L642.8 883.4 L645.0 882.2 L647.1 881.0 L649.2 879.8 L651.3 878.5 L653.5 877.2 L655.6 875.9 L657.7 874.6 L659.9 873.2 L662.0 871.9 L664.2 870.5 L666.3 869.1 L668.5 867.6 L670.8 866.1 L673.1 864.4 L675.6 862.7 L678.0 860.9 L680.6 859.0 L683.1 857.1 L685.6 855.2 L688.1 853.3 L690.5 851.4 L693.0 849.6 L695.3 847.8 L697.5 846.0 L699.7 844.3 L701.7 842.7 L703.6 841.2 L705.4 839.9 L706.9 838.7 L708.3 837.6 L709.5 836.7" stroke="#10109a" stroke-width="1.4" fill="none"/>
<path d="M1296.0 233.0 L1296.7 232.7 L1297.4 232.2 L1298.3 231.8 L1299.3 231.2 L1300.3 230.6 L1301.5 230.0 L1302.7 229.4 L1303.9 228.7 L1305.3 227.9 L1306.6 227.2 L1308.0 226.5 L1309.4 225.7 L1310.8 225.0 L1312.2 224.3 L1313.5 223.6 L1314.9 222.9 L1316.3 222.2 L1317.6 221.6 L1318.8 221.0 L1320.0 220.5 L1321.2 220.0 L1322.3 219.5 L1323.5 219.1 L1324.6 218.6 L1325.7 218.2 L1326.9 217.8 L1328.0 217.4 L1329.1 217.0 L1330.2 216.6 L1331.3 216.2 L1332.5 215.8 L1333.6 215.5 L1334.7 215.1 L1335.8 214.8 L1336.9 214.5 L1338.0 214.2 L1339.1 213.9 L1340.3 213.6 L1341.4 213.3 L1342.5 213.0 L1343.6 212.7 L1344.8 212.5 L1345.9 212.2 L1347.1 212.0 L1348.2 211.7 L1349.4 211.5 L1350.6 211.3 L1351.7 211.1 L1352.9 210.9 L1354.0 210.7 L1355.2 210.5 L1356.3 210.4 L1357.5 210.2 L1358.6 210.0 L1359.7 209.9 L1360.8 209.7 L1361.9 209.6 L1362.9 209.5 L1364.0 209.4 L1365.0 209.2 L1366.0 209.1 L1367.0 209.0 L1368.0 209.0 L1368.9 208.9 L1369.9 208.8 L1370.8 208.8 L1371.8 208.7 L1372.7 208.7 L1373.6 208.6 L1374.5 208.6 L1375.4 208.6 L1376.2 208.6 L1377.1 208.6 L1378.0 208.6 L1378.8 208.5 L1379.7 208.5 L1380.5 208.5 L1381.3 208.5 L1382.2 208.5 L1383.0 208.5 L1383.8 208.5 L1384.6 208.5 L1385.4 208.5 L1386.1 208.4 L1386.9 208.4 L1387.6 208.4 L1388.3 208.4 L1389.0 208.4 L1389.7 208.4 L1390.4 208.4 L1391.1 208.4 L1391.8 208.4 L1392.5 208.4 L1393.3 208.4 L1394.0 208.5 L1394.8 208.5 L1395.5 208.6 L1396.3 208.6 L1397.2 208.7 L1398.0 208.8 L1398.9 208.9 L1399.8 209.0 L1400.7 209.1 L1401.6 209.2 L1402.5 209.3 L1403.4 209.5 L1404.4 209.6 L1405.3 209.8 L1406.3 209.9 L1407.3 210.1 L1408.3 210.2 L1409.3 210.4 L1410.3 210.6 L1411.3 210.8 L1412.3 211.0 L1413.3 211.3 L1414.4 211.5 L1415.4 211.7 L1416.5 212.0 L1417.5 212.2 L1418.6 212.5 L1419.6 212.8 L1420.7 213.1 L1421.8 213.4 L1422.9 213.8 L1424.0 214.1 L1425.2 214.4 L1426.3 214.8 L1427.4 215.1 L1428.6 215.5 L1429.7 215.9 L1430.9 216.3 L1432.0 216.7 L1433.2 217.1 L1434.3 217.5 L1435.5 217.9 L1436.6 218.4 L1437.7 218.8 L1438.9 219.3 L1440.0 219.8 L1441.1 220.2 L1442.2 220.7 L1443.4 221.2 L1444.5 221.7 L1445.6 222.2 L1446.8 222.8 L1447.9 223.3 L1449.0 223.9 L1450.1 224.4 L1451.2 225.0 L1452.4 225.6 L1453.5 226.2 L1454.6 226.7 L1455.8 227.3 L1456.9 227.9 L1458.0 228.5 L1459.1 229.2 L1460.2 229.8 L1461.4 230.4 L1462.5 231.0 L1463.6 231.6 L1464.8 232.2 L1465.9 232.9 L1467.0 233.5 L1468.1 234.1 L1469.2 234.7 L1470.4 235.4 L1471.5 236.0 L1472.6 236.7 L1473.8 237.3 L1474.9 238.0 L1476.0 238.7 L1477.1 239.4 L1478.2 240.0 L1479.4 240.8 L1480.5 241.5 L1481.6 242.2 L1482.8 243.0 L1483.9 243.7 L1485.0 244.5 L1486.1 245.3 L1487.2 246.1 L1488.4 246.9 L1489.5 247.8 L1490.6 248.6 L1491.8 249.5 L1492.9 250.4 L1494.0 251.3 L1495.1 252.2 L1496.2 253.1 L1497.4 254.0 L1498.5 255.0 L1499.6 255.9 L1500.8 256.8 L1501.9 257.8 L1503.0 258.7 L1504.1 259.7 L1505.2 260.6 L1506.4 261.6 L1507.5 262.5 L1508.6 263.4 L1509.8 264.4 L1510.9 265.3 L1512.0 266.3 L1513.1 267.2 L1514.2 268.1 L1515.4 269.1 L1516.5 270.0 L1517.6 271.0 L1518.8 272.0 L1519.9 272.9 L1521.0 273.9 L1522.1 274.9 L1523.2 275.9 L1524.4 276.9 L1525.5 277.9 L1526.6 278.9 L1527.8 279.9 L1528.9 281.0 L1530.0 282.0 L1531.1 283.0 L1532.2 284.0 L1533.2 285.0 L1534.2 285.9 L1535.2 286.8 L1536.1 287.7 L1537.1 288.7 L1538.0 289.6 L1539.0 290.5 L1540.0 291.5 L1541.0 292.5 L1542.1 293.6 L1543.1 294.7 L1544.3 295.8 L1545.5 297.0 L1546.7 298.4 L1548.0 299.7 L1549.4 301.2 L1550.9 302.8 L1552.5 304.5 L1554.2 306.3 L1555.9 308.2 L1557.8 310.1 L1559.7 312.1 L1561.7 314.2 L1563.7 316.3 L1565.8 318.5 L1567.9 320.8 L1570.1 323.1 L1572.3 325.5 L1574.6 328.0 L1576.9 330.5 L1579.1 333.0 L1581.4 335.6 L1583.7 338.2 L1586.0 340.9 L1588.3 343.6 L1590.6 346.4 L1592.8 349.2 L1595.0 352.0 L1597.2 354.9 L1599.4 357.8 L1601.6 360.9 L1603.8 364.0 L1606.1 367.1 L1608.3 370.3 L1610.6 373.6 L1612.8 376.9 L1615.1 380.3 L1617.3 383.7 L1619.6 387.1 L1621.9 390.5 L1624.2 393.9 L1626.4 397.4 L1628.7 400.9 L1631.0 404.3 L1633.2 407.8 L1635.5 411.2 L1637.7 414.6 L1640.0 418.0 L1642.2 421.4 L1644.5 424.8 L1646.8 428.2 L1649.0 431.7 L1651.2 435.2 L1653.5 438.7 L1655.8 442.2 L1658.0 445.7 L1660.2 449.2 L1662.5 452.7 L1664.8 456.2 L1667.0 459.7 L1669.2 463.2 L1671.5 466.6 L1673.8 470.1 L1676.0 473.5 L1678.2 476.9 L1680.5 480.3 L1682.8 483.7 L1685.0 487.0 L1687.2 490.3 L1689.5 493.5 L1691.8 496.7 L1694.0 499.9 L1696.2 503.1 L1698.5 506.2 L1700.8 509.4 L1703.0 512.5 L1705.2 515.6 L1707.5 518.7 L1709.8 521.8 L1712.0 524.9 L1714.2 528.0 L1716.5 531.1 L1718.8 534.2 L1721.0 537.3 L1723.2 540.4 L1725.5 543.6 L1727.8 546.8 L1730.0 550.0 L1732.3 553.2 L1734.5 556.5 L1736.8 559.8 L1739.2 563.2 L1741.5 566.5 L1743.8 569.9 L1746.1 573.2 L1748.5 576.6 L1750.8 580.0 L1753.1 583.4 L1755.4 586.7 L1757.7 590.1 L1760.0 593.4 L1762.2 596.8 L1764.4 600.1 L1766.6 603.3 L1768.8 606.6 L1770.9 609.8 L1773.0 612.9 L1775.0 616.0 L1777.0 619.1 L1779.1 622.3 L1781.2 625.6 L1783.3 628.9 L1785.4 632.2 L1787.5 635.6 L1789.5 638.9 L1791.6 642.2 L1793.6 645.4 L1795.6 648.6 L1797.5 651.7 L1799.3 654.7 L1801.1 657.6 L1802.8 660.4 L1804.3 663.0 L1805.8 665.4 L1807.2 667.6 L1808.4 669.6 L1809.5 671.4 L1810.5 673.0" stroke="#10109a" stroke-width="1.4" fill="none"/>
<path d="M709.5 836.7 L711.4 834.9 L713.9 832.5 L716.7 829.8 L720.0 826.7 L723.5 823.4 L727.2 819.9 L730.9 816.2 L734.7 812.5 L738.3 808.9 L741.8 805.3 L745.3 801.6 L749.1 797.5 L753.1 793.1 L757.2 788.6 L761.2 784.2 L765.0 779.9 L768.6 775.9 L771.7 772.3 L774.4 769.3 L776.5 767.0" stroke="#0a1af0" stroke-width="1.4" fill="none"/>
<path d="M715.6 839.5L724.6 830.9L716.0 821.9L706.9 830.5ZM728.5 827.2L737.4 818.6L728.8 809.6L719.8 818.2ZM741.3 814.7L750.0 805.7L741.2 796.9L732.5 805.9ZM753.8 801.6L762.3 792.2L753.1 783.8L744.6 793.2ZM766.0 788.1L774.4 778.7L765.1 770.4L756.7 779.8ZM778.1 774.6L781.2 771.2L771.8 762.8L768.7 766.3Z" fill="#0a1af0"/>
<path d="M884.6 758.7 L886.0 756.8 L887.7 754.4 L889.6 751.6 L891.8 748.5 L894.3 745.0 L896.9 741.3 L899.7 737.4 L902.6 733.3 L905.7 729.0 L908.8 724.7 L912.1 720.2 L915.6 715.3 L919.4 710.2 L923.3 704.9 L927.3 699.4 L931.4 693.8 L935.5 688.2 L939.6 682.5 L943.7 676.9 L947.6 671.3 L951.5 665.8 L955.4 660.2 L959.3 654.5 L963.2 648.8 L967.1 643.1 L970.9 637.4 L974.8 631.7 L978.7 626.0 L982.6 620.3 L986.5 614.7 L990.4 609.1 L994.3 603.6 L998.1 598.2 L1002.0 592.7 L1005.9 587.3 L1009.8 581.9 L1013.7 576.4 L1017.5 570.9 L1021.4 565.3 L1025.3 559.7 L1029.2 554.0 L1033.1 548.2 L1036.9 542.4 L1040.8 536.6 L1044.7 530.7 L1048.6 524.8 L1052.5 519.0 L1056.3 513.1 L1060.2 507.3 L1064.1 501.5 L1068.0 495.8 L1071.9 490.1 L1075.7 484.5 L1079.6 478.9 L1083.5 473.2 L1087.4 467.6 L1091.3 462.0 L1095.1 456.3 L1099.0 450.6 L1102.9 444.8 L1106.8 438.9 L1110.7 432.9 L1114.6 426.8 L1118.5 420.7 L1122.3 414.6 L1126.2 408.5 L1130.1 402.4 L1134.0 396.5 L1137.9 390.7 L1141.8 385.0 L1145.7 379.5 L1149.6 374.0 L1153.4 368.6 L1157.3 363.2 L1161.2 358.0 L1165.1 352.8 L1169.0 347.8 L1172.8 342.8 L1176.7 337.9 L1180.6 333.2 L1184.5 328.6 L1188.4 324.0 L1192.2 319.6 L1196.1 315.2 L1200.0 311.0 L1203.9 306.8 L1207.8 302.8 L1211.6 298.8 L1215.5 295.0 L1219.4 291.2 L1223.3 287.5 L1227.2 284.0 L1231.1 280.6 L1235.0 277.2 L1238.9 274.0 L1242.8 270.8 L1246.6 267.7 L1250.5 264.7 L1254.4 261.7 L1258.2 258.8 L1262.2 255.8 L1266.4 252.8 L1270.8 249.8 L1275.2 246.8 L1279.5 243.9 L1283.6 241.1 L1287.5 238.6 L1290.9 236.4 L1293.8 234.5 L1296.0 233.0" stroke="#0a1af0" stroke-width="1.4" fill="none"/>
<path d="M891.7 759.5L899.0 749.2L888.8 742.0L881.5 752.2ZM901.3 746.0L908.5 735.8L898.3 728.5L891.1 738.7ZM910.9 732.5L918.2 722.4L908.0 715.1L900.7 725.2ZM920.5 719.2L927.9 709.1L917.8 701.8L910.4 711.8ZM930.3 705.9L937.6 695.9L927.5 688.5L920.2 698.5ZM940.0 692.6L947.3 682.5L937.2 675.1L929.9 685.2ZM949.7 679.2L956.9 668.9L946.7 661.7L939.5 671.9ZM959.2 665.6L966.3 655.3L956.1 648.1L948.9 658.5ZM968.6 651.9L975.7 641.5L965.4 634.5L958.3 644.9ZM978.0 638.2L985.1 627.8L974.7 620.8L967.6 631.1ZM987.3 624.5L994.5 614.2L984.2 607.1L977.0 617.4ZM996.8 611.0L1004.0 600.7L993.8 593.5L986.5 603.8ZM1006.3 597.5L1013.6 587.3L1003.4 580.1L996.1 590.2ZM1015.9 584.0L1023.1 573.8L1012.9 566.6L1005.7 576.8ZM1025.4 570.5L1032.6 560.1L1022.3 553.0L1015.2 563.3ZM1034.9 556.7L1041.9 546.3L1031.5 539.3L1024.5 549.8ZM1044.1 542.9L1051.1 532.4L1040.7 525.5L1033.7 536.0ZM1053.3 529.0L1060.3 518.5L1049.8 511.6L1042.9 522.1ZM1062.5 515.1L1069.5 504.7L1059.1 497.8L1052.1 508.2ZM1071.7 501.4L1078.8 491.0L1068.5 484.0L1061.4 494.4ZM1081.1 487.7L1088.2 477.4L1077.9 470.3L1070.8 480.6ZM1090.5 474.1L1097.6 463.8L1087.3 456.7L1080.2 467.0ZM1099.9 460.4L1106.9 450.0L1096.6 443.0L1089.6 453.4ZM1109.2 446.6L1116.1 436.0L1105.7 429.1L1098.8 439.7ZM1118.3 432.5L1125.1 421.9L1114.6 415.2L1107.8 425.8ZM1127.3 418.5L1134.1 407.8L1123.6 401.1L1116.8 411.8ZM1136.3 404.5L1143.2 394.0L1132.8 387.1L1125.8 397.6ZM1145.4 390.7L1152.6 380.4L1142.3 373.4L1135.1 383.7ZM1154.9 377.3L1162.2 367.1L1152.1 359.8L1144.7 370.0ZM1164.5 364.0L1172.0 354.0L1162.0 346.6L1154.5 356.6ZM1174.4 351.0L1182.1 341.3L1172.2 333.6L1164.5 343.3ZM1184.5 338.3L1192.5 328.8L1182.8 320.9L1174.8 330.4ZM1194.9 326.0L1203.1 316.9L1193.7 308.7L1185.5 317.8ZM1205.6 314.1L1214.0 305.4L1204.9 296.8L1196.5 305.6ZM1216.6 302.7L1225.2 294.3L1216.4 285.5L1207.8 293.9ZM1227.8 291.9L1236.8 283.9L1228.3 274.7L1219.4 282.6ZM1239.5 281.6L1248.6 274.1L1240.6 264.5L1231.5 272.0ZM1251.4 271.9L1260.7 264.7L1253.0 254.9L1243.7 262.1ZM1263.6 262.6L1273.1 255.8L1265.6 245.8L1256.1 252.5ZM1276.0 253.8L1285.6 247.4L1278.5 237.0L1268.9 243.5ZM1288.6 245.4L1298.2 239.1L1291.3 228.6L1281.7 235.0Z" fill="#0a1af0"/>
<text x="1498.97" y="843.90" font-size="27.8" fill="#0b0bc4" textLength="91.06" lengthAdjust="spacingAndGlyphs" xml:space="preserve" >Eclipse</text>
<path d="M1611.8 834.3H1766" stroke="#0a1af0" stroke-width="12.7" stroke-dasharray="10.2 3.8"/>
<text x="1499.06" y="884.50" font-size="27.8" textLength="256.17" lengthAdjust="spacingAndGlyphs" xml:space="preserve" >One Minute Average</text>
<text x="1499.06" y="926.70" font-size="27.8" fill="#22dd22" textLength="267.78" lengthAdjust="spacingAndGlyphs" xml:space="preserve" >One Second Average</text>
<path d="M263 975.5H1810.5M263 980.5H1810.5M263 984.5H1810.5M263 987.5H1810.5M263 990.5H1810.5M263 993.5H1810.5M263 995.5H1810.5M263 1011.5H1810.5M263 1020.5H1810.5M263 1026.5H1810.5M263 1031.5H1810.5M263 1035.5H1810.5M263 1038.5H1810.5M263 1041.5H1810.5M263 1044.5H1810.5M263 1046.5H1810.5M263 1062.5H1810.5M263 1071.5H1810.5M263 1077.5H1810.5M263 1082.5H1810.5M263 1086.5H1810.5M263 1089.5H1810.5M263 1092.5H1810.5M263 1095.5H1810.5M263 1097.5H1810.5M263 1113.5H1810.5" stroke="#000" stroke-width="1" stroke-dasharray="1 4" fill="none" class="sg"/>
<path d="M441.5 970V1122.5M623.5 970V1122.5M908.5 970V1122.5M1089.5 970V1122.5M1269.5 970V1122.5M1449.5 970V1122.5M1629.5 970V1122.5" stroke="#000" stroke-width="1" stroke-dasharray="1 4" fill="none"/>
<path d="M260.5 975.5h7.5M1810.5 975.5h-7.5M260.5 980.5h7.5M1810.5 980.5h-7.5M260.5 984.5h7.5M1810.5 984.5h-7.5M260.5 987.5h7.5M1810.5 987.5h-7.5M260.5 990.5h7.5M1810.5 990.5h-7.5M260.5 993.5h7.5M1810.5 993.5h-7.5M260.5 995.5h16.5M1810.5 995.5h-16.5M260.5 1011.5h7.5M1810.5 1011.5h-7.5M260.5 1020.5h7.5M1810.5 1020.5h-7.5M260.5 1026.5h7.5M1810.5 1026.5h-7.5M260.5 1031.5h7.5M1810.5 1031.5h-7.5M260.5 1035.5h7.5M1810.5 1035.5h-7.5M260.5 1038.5h7.5M1810.5 1038.5h-7.5M260.5 1041.5h7.5M1810.5 1041.5h-7.5M260.5 1044.5h7.5M1810.5 1044.5h-7.5M260.5 1046.5h16.5M1810.5 1046.5h-16.5M260.5 1062.5h7.5M1810.5 1062.5h-7.5M260.5 1071.5h7.5M1810.5 1071.5h-7.5M260.5 1077.5h7.5M1810.5 1077.5h-7.5M260.5 1082.5h7.5M1810.5 1082.5h-7.5M260.5 1086.5h7.5M1810.5 1086.5h-7.5M260.5 1089.5h7.5M1810.5 1089.5h-7.5M260.5 1092.5h7.5M1810.5 1092.5h-7.5M260.5 1095.5h7.5M1810.5 1095.5h-7.5M260.5 1097.5h16.5M1810.5 1097.5h-16.5M260.5 1113.5h7.5M1810.5 1113.5h-7.5" stroke="#000" stroke-width="1"/>
<path d="M441.5 1122.5v-16M441.5 969.5v16M623.5 1122.5v-16M623.5 969.5v16M908.5 1122.5v-16M908.5 969.5v16M1089.5 1122.5v-16M1089.5 969.5v16M1269.5 1122.5v-16M1269.5 969.5v16M1449.5 1122.5v-16M1449.5 969.5v16M1629.5 1122.5v-16M1629.5 969.5v16" stroke="#000" stroke-width="1"/>
<rect x="709" y="970.0" width="67" height="151.5" fill="#0000b3"/>
<rect x="884" y="970.0" width="557" height="151.5" fill="#0000b3"/>
<path stroke="#0080ff" stroke-width="2" d="M710 1091V1097.6M710 1106V1121.5M712 1097.6V1121.5M740 1097.6V1106M742 1106V1121.5M754 1106V1121.5M764 1097.6V1106M772 1091V1097.6M772 1106V1121.5M887 1097.6V1106M897 1097.6V1121.5M899 1091V1106M923 1097.6V1106M929 1082V1086M929 1091V1097.6M931 1086V1091M933 1106V1121.5M935 1097.6V1106M937 1082V1086M939 1091V1097.6M939 1106V1121.5M941 1106V1121.5M943 1106V1121.5M957 1082V1086M961 1091V1121.5M965 1097.6V1121.5M979 1080V1082M985 1097.6V1106M997 1106V1121.5M1007 1091V1106M1015 1091V1097.6M1021 1091V1097.6M1025 1097.6V1106M1029 1106V1121.5M1031 1074V1076M1037 1097.6V1106M1041 1097.6V1106M1045 1091V1097.6M1047 1097.6V1121.5M1067 1097.6V1106M1071 1106V1121.5M1073 1097.6V1106M1075 1091V1097.6M1075 1106V1121.5M1085 1097.6V1106M1093 1097.6V1106M1121 1086V1091M1129 1097.6V1121.5M1143 1082V1086M1147 1097.6V1106M1153 1086V1091M1157 1106V1121.5M1173 1106V1121.5M1185 1091V1097.6M1185 1106V1121.5M1187 1091V1097.6M1189 1082V1086M1189 1091V1097.6M1199 1106V1121.5M1201 1106V1121.5M1207 1086V1091M1211 1086V1097.6M1225 1086V1091M1225 1106V1121.5M1227 1091V1097.6M1229 1074V1076M1231 1068V1070M1233 1054V1056M1233 1066V1070M1239 1086V1091M1243 1086V1091M1247 1106V1121.5M1253 1106V1121.5M1259 1106V1121.5M1265 1091V1097.6M1267 1086V1091M1279 1091V1097.6M1281 1097.6V1106M1289 1091V1097.6M1291 1086V1097.6M1293 1068V1070M1293 1072V1074M1293 1078V1080M1299 1091V1097.6M1305 1091V1097.6M1311 1106V1121.5M1313 1086V1091M1315 1072V1074M1319 1086V1091M1321 1080V1082M1325 1080V1082M1329 1091V1097.6M1329 1106V1121.5M1331 1086V1091M1335 1097.6V1106M1337 1097.6V1106M1341 1086V1091M1343 1082V1091M1345 1080V1086M1349 1076V1078M1349 1082V1086M1351 1086V1091M1353 1046V1048M1353 1050V1054M1353 1056V1058M1353 1080V1082M1355 1072V1074M1357 1086V1091M1361 1068V1070M1361 1082V1086M1363 1060V1062M1363 1064V1066M1363 1070V1072M1363 1076V1078M1367 1078V1086M1371 1080V1082M1373 1068V1070M1373 1074V1076M1373 1078V1080M1373 1082V1086M1375 1054V1056M1375 1058V1062M1381 1048V1052M1381 1056V1058M1381 1072V1074M1381 1082V1086M1383 1082V1086M1387 1091V1097.6M1389 1080V1091M1393 1056V1058M1393 1070V1072M1403 1091V1097.6M1405 1086V1091M1411 1097.6V1106M1413 1086V1091M1419 1086V1091M1419 1106V1121.5M1425 1086V1097.6M1425 1106V1121.5M1427 1086V1091M1429 1091V1097.6"/>
<path stroke="#004dff" stroke-width="2" d="M710 1097.6V1106M720 1097.6V1106M724 1106V1121.5M726 1097.6V1106M730 1091V1097.6M736 1091V1097.6M740 1086V1097.6M748 1086V1091M754 1086V1091M762 1097.6V1106M770 1086V1097.6M772 1086V1091M774 1097.6V1106M899 1080V1082M901 1106V1121.5M913 1097.6V1106M915 1082V1086M917 1078V1080M917 1082V1086M919 1097.6V1106M925 1086V1091M929 1072V1074M929 1076V1078M931 1082V1086M937 1062V1064M937 1066V1070M939 1086V1091M941 1086V1091M943 1080V1082M945 1097.6V1106M947 1068V1070M957 1072V1074M957 1078V1080M965 1091V1097.6M971 1097.6V1106M975 1106V1121.5M979 1062V1064M979 1066V1068M995 1091V1106M1009 1106V1121.5M1013 1106V1121.5M1015 1082V1091M1027 1091V1097.6M1029 1097.6V1106M1031 1068V1070M1033 1080V1086M1039 1097.6V1106M1041 1091V1097.6M1043 1106V1121.5M1065 1082V1086M1067 1086V1091M1069 1078V1080M1071 1086V1097.6M1073 1106V1121.5M1077 1078V1080M1077 1091V1097.6M1079 1086V1091M1085 1106V1121.5M1087 1091V1097.6M1089 1078V1080M1089 1082V1086M1091 1082V1086M1093 1091V1097.6M1113 1091V1097.6M1115 1097.6V1106M1121 1074V1076M1123 1106V1121.5M1125 1082V1086M1129 1086V1091M1131 1086V1097.6M1143 1074V1076M1143 1086V1091M1149 1091V1097.6M1153 1074V1078M1157 1082V1091M1163 1082V1086M1167 1086V1091M1169 1097.6V1121.5M1173 1086V1091M1175 1097.6V1121.5M1179 1080V1082M1179 1086V1091M1181 1097.6V1121.5M1185 1086V1091M1187 1097.6V1106M1193 1086V1091M1199 1091V1097.6M1203 1060V1062M1203 1070V1072M1203 1074V1076M1203 1078V1080M1203 1082V1086M1205 1078V1080M1205 1082V1086M1207 1070V1072M1207 1074V1076M1209 1086V1091M1213 1074V1076M1213 1078V1082M1213 1091V1097.6M1229 1058V1062M1229 1072V1074M1229 1076V1078M1231 1042V1044M1231 1046V1048M1231 1062V1064M1233 1076V1078M1237 1097.6V1121.5M1241 1070V1072M1241 1082V1091M1243 1068V1070M1245 1074V1076M1245 1080V1082M1245 1086V1091M1247 1076V1078M1247 1082V1091M1249 1091V1097.6M1253 1091V1097.6M1257 1076V1078M1267 1068V1070M1267 1072V1074M1275 1091V1097.6M1285 1080V1082M1289 1082V1086M1291 1106V1121.5M1293 1058V1060M1293 1062V1066M1295 1078V1080M1295 1082V1091M1297 1066V1068M1297 1086V1091M1305 1082V1086M1307 1086V1091M1315 1060V1064M1315 1066V1068M1319 1066V1068M1321 1072V1074M1323 1091V1097.6M1325 1072V1076M1327 1078V1080M1327 1091V1097.6M1329 1086V1091M1331 1080V1082M1335 1091V1097.6M1337 1106V1121.5M1339 1086V1091M1345 1072V1076M1347 1097.6V1106M1349 1064V1066M1349 1074V1076M1351 1028V1030M1351 1056V1058M1351 1062V1070M1351 1072V1074M1351 1082V1086M1353 1034V1036M1353 1048V1050M1353 1062V1064M1355 1054V1056M1355 1078V1080M1357 1022V1024M1357 1050V1054M1357 1056V1060M1357 1080V1082M1359 1076V1078M1361 1048V1050M1361 1064V1066M1361 1080V1082M1365 1074V1082M1367 1050V1052M1367 1072V1074M1369 1046V1048M1369 1072V1074M1369 1078V1080M1369 1082V1086M1371 1052V1054M1371 1074V1076M1371 1082V1086M1373 1062V1064M1375 1046V1050M1381 972V974M1381 1016V1022M1381 1026V1028M1381 1032V1036M1381 1070V1072M1381 1076V1078M1383 1052V1054M1383 1060V1062M1383 1074V1076M1383 1078V1080M1385 1097.6V1106M1389 1076V1078M1391 1070V1072M1393 1026V1028M1393 1038V1040M1393 1060V1062M1395 1050V1054M1395 1082V1086M1403 1097.6V1121.5M1405 1060V1062M1411 1106V1121.5M1413 1082V1086M1417 1086V1091M1419 1082V1086M1421 1106V1121.5M1429 1086V1091M1435 1086V1091M1439 1082V1086"/>
<path stroke="#0033ff" stroke-width="2" d="M710 1082V1091M712 1078V1080M712 1086V1091M716 1086V1091M720 1091V1097.6M722 1097.6V1106M724 1091V1097.6M726 1091V1097.6M726 1106V1121.5M730 1097.6V1106M738 1091V1097.6M740 1082V1086M742 1091V1097.6M744 1106V1121.5M756 1091V1106M758 1082V1086M764 1091V1097.6M768 1091V1097.6M772 1082V1086M774 1091V1097.6M885 1086V1091M889 1076V1078M889 1086V1097.6M889 1106V1121.5M895 1097.6V1121.5M897 1091V1097.6M899 1086V1091M903 1091V1097.6M913 1091V1097.6M913 1106V1121.5M917 1054V1056M923 1086V1091M929 1068V1072M929 1074V1076M931 1070V1072M931 1080V1082M935 1086V1097.6M935 1106V1121.5M937 1054V1056M937 1072V1074M937 1076V1080M939 1080V1082M943 1082V1086M945 1106V1121.5M947 1076V1078M947 1080V1082M953 1097.6V1106M957 1054V1056M957 1062V1064M957 1066V1068M957 1070V1072M957 1076V1078M959 1091V1097.6M961 1086V1091M967 1082V1086M967 1091V1097.6M973 1091V1097.6M975 1097.6V1106M979 1038V1040M979 1042V1044M979 1048V1050M979 1052V1054M979 1064V1066M979 1072V1074M995 1106V1121.5M1001 1106V1121.5M1007 1076V1078M1007 1086V1091M1009 1097.6V1106M1011 1091V1097.6M1011 1106V1121.5M1015 1068V1070M1015 1072V1074M1015 1080V1082M1023 1091V1097.6M1025 1091V1097.6M1027 1097.6V1106M1029 1086V1091M1031 1040V1042M1031 1066V1068M1031 1076V1078M1033 1054V1056M1033 1064V1066M1033 1074V1076M1037 1066V1068M1041 1086V1091M1043 1086V1091M1045 1082V1091M1047 1080V1082M1049 1106V1121.5M1055 1091V1097.6M1055 1106V1121.5M1057 1091V1097.6M1061 1080V1082M1065 1076V1078M1069 1080V1082M1073 1091V1097.6M1075 1080V1082M1077 1082V1086M1079 1076V1078M1079 1082V1086M1081 1074V1076M1083 1078V1091M1085 1082V1086M1087 1086V1091M1089 1080V1082M1093 1086V1091M1097 1097.6V1106M1111 1078V1080M1121 1070V1072M1121 1080V1082M1123 1091V1106M1127 1076V1078M1127 1080V1082M1129 1091V1097.6M1135 1086V1097.6M1137 1066V1068M1137 1070V1072M1137 1076V1078M1137 1082V1086M1143 1066V1068M1143 1091V1097.6M1145 1082V1091M1147 1091V1097.6M1149 1080V1086M1153 1068V1070M1155 1082V1086M1157 1091V1097.6M1163 1078V1080M1173 1070V1072M1173 1076V1080M1173 1082V1086M1173 1091V1097.6M1175 1091V1097.6M1177 1086V1091M1179 1082V1086M1181 1091V1097.6M1183 1086V1097.6M1185 1082V1086M1187 1076V1078M1189 1070V1072M1189 1076V1078M1193 1076V1078M1193 1082V1086M1199 1070V1072M1199 1080V1082M1199 1086V1091M1201 1074V1076M1201 1078V1080M1201 1086V1091M1203 1056V1058M1203 1068V1070M1203 1072V1074M1205 1070V1072M1207 1066V1070M1207 1080V1086M1209 1080V1082M1211 1058V1060M1211 1074V1076M1213 1070V1072M1215 1097.6V1121.5M1217 1097.6V1121.5M1225 1082V1086M1227 1076V1080M1227 1082V1086M1229 1066V1068M1231 1030V1032M1231 1048V1052M1231 1054V1056M1231 1070V1074M1231 1080V1082M1233 1030V1034M1233 1036V1042M1233 1044V1046M1233 1056V1058M1233 1072V1074M1233 1080V1086M1235 1097.6V1121.5M1237 1091V1097.6M1239 1068V1070M1239 1076V1078M1239 1080V1086M1241 1066V1068M1241 1072V1074M1241 1080V1082M1243 1060V1068M1243 1078V1082M1245 1068V1072M1249 1086V1091M1249 1097.6V1106M1251 1082V1086M1253 1082V1091M1257 1062V1064M1257 1068V1070M1257 1072V1074M1257 1082V1086M1259 1082V1091M1261 1080V1082M1261 1086V1091M1265 1086V1091M1267 1050V1052M1267 1058V1060M1267 1066V1068M1267 1070V1072M1267 1074V1076M1267 1080V1086M1271 1091V1097.6M1271 1106V1121.5M1275 1086V1091M1281 1082V1091M1285 1074V1076M1285 1086V1091M1287 1066V1068M1287 1070V1072M1287 1074V1076M1287 1080V1082M1291 1072V1074M1291 1078V1080M1291 1082V1086M1293 1046V1050M1293 1054V1056M1293 1060V1062M1293 1080V1082M1295 1042V1044M1295 1064V1066M1295 1074V1078M1297 1070V1072M1297 1076V1078M1297 1082V1086M1299 1082V1091M1305 1072V1074M1307 1074V1076M1307 1082V1086M1311 1072V1074M1311 1080V1097.6M1313 1091V1097.6M1315 1024V1026M1315 1054V1056M1315 1068V1070M1317 1091V1097.6M1317 1106V1121.5M1319 1074V1076M1321 1076V1078M1323 1074V1080M1323 1082V1091M1325 1068V1072M1325 1076V1078M1327 1070V1074M1327 1082V1086M1329 1082V1086M1331 1070V1072M1331 1082V1086M1335 1086V1091M1339 1068V1070M1339 1072V1074M1339 1080V1086M1341 1052V1058M1341 1062V1064M1341 1070V1072M1343 1056V1058M1343 1062V1064M1343 1066V1068M1345 1078V1080M1349 1058V1060M1349 1066V1070M1351 1048V1050M1351 1076V1078M1353 1020V1022M1353 1040V1042M1353 1078V1080M1355 1036V1038M1355 1044V1046M1355 1050V1052M1355 1056V1058M1355 1060V1062M1355 1064V1070M1357 1014V1016M1357 1024V1026M1357 1044V1046M1357 1078V1080M1359 1070V1072M1359 1082V1086M1361 1040V1042M1361 1056V1058M1361 1070V1072M1361 1074V1078M1363 1044V1046M1363 1052V1054M1363 1074V1076M1365 1052V1054M1365 1062V1066M1365 1070V1072M1367 1036V1038M1369 1040V1042M1369 1058V1060M1369 1062V1064M1369 1068V1070M1369 1076V1078M1371 1060V1066M1371 1078V1080M1373 1034V1036M1373 1072V1074M1375 1002V1004M1375 1056V1058M1375 1066V1068M1375 1072V1074M1377 1020V1022M1377 1066V1068M1377 1082V1086M1381 998V1002M1381 1004V1008M1381 1022V1024M1381 1058V1060M1381 1064V1066M1381 1078V1080M1383 1036V1038M1383 1040V1042M1383 1050V1052M1383 1058V1060M1383 1064V1066M1385 1106V1121.5M1387 1074V1082M1389 1048V1050M1389 1052V1056M1389 1064V1066M1389 1068V1070M1391 1060V1062M1393 1004V1006M1393 1044V1046M1393 1050V1052M1393 1068V1070M1393 1080V1082M1395 1036V1038M1395 1054V1056M1397 1082V1091M1405 1056V1058M1405 1072V1074M1405 1078V1080M1405 1082V1086M1411 1091V1097.6M1421 1082V1091M1425 1078V1080M1425 1082V1086M1427 1082V1086M1429 1076V1078M1435 1074V1076M1435 1082V1086M1437 1086V1091M1439 1056V1058M1439 1076V1082M1439 1086V1091"/>
<path stroke="#001aff" stroke-width="2" d="M710 1080V1082M712 1082V1086M714 1097.6V1106M716 1082V1086M720 1086V1091M722 1106V1121.5M724 1082V1091M730 1086V1091M732 1097.6V1106M738 1082V1091M740 1074V1076M740 1078V1080M742 1060V1062M742 1082V1091M744 1091V1097.6M748 1074V1078M748 1082V1086M752 1091V1097.6M754 1082V1086M758 1080V1082M760 1097.6V1106M762 1091V1097.6M762 1106V1121.5M764 1086V1091M768 1086V1091M770 1068V1070M770 1082V1086M772 1080V1082M774 1082V1086M774 1106V1121.5M885 1078V1086M887 1086V1091M891 1082V1086M893 1082V1097.6M897 1086V1091M899 1078V1080M901 1086V1097.6M903 1076V1078M903 1086V1091M905 1097.6V1121.5M915 1062V1064M915 1066V1070M919 1106V1121.5M921 1106V1121.5M923 1091V1097.6M925 1070V1072M925 1082V1086M927 1097.6V1106M929 1066V1068M931 1068V1070M931 1074V1080M933 1082V1086M933 1091V1097.6M937 1064V1066M937 1080V1082M941 1080V1086M945 1086V1097.6M947 1054V1056M947 1058V1060M947 1064V1066M947 1078V1080M949 1106V1121.5M953 1106V1121.5M957 1050V1052M957 1056V1058M957 1060V1062M957 1068V1070M959 1078V1080M959 1082V1091M961 1082V1086M963 1097.6V1106M965 1082V1091M967 1080V1082M967 1086V1091M971 1106V1121.5M973 1082V1086M975 1091V1097.6M979 1030V1032M979 1040V1042M979 1070V1072M981 1097.6V1106M985 1068V1070M989 1097.6V1106M991 1097.6V1106M997 1072V1074M997 1086V1091M1001 1082V1097.6M1003 1082V1097.6M1007 1082V1086M1009 1091V1097.6M1011 1097.6V1106M1013 1086V1091M1021 1076V1078M1021 1086V1091M1023 1086V1091M1025 1082V1091M1027 1106V1121.5M1029 1091V1097.6M1031 1036V1038M1031 1052V1056M1031 1058V1060M1033 1034V1038M1033 1040V1044M1033 1048V1052M1033 1056V1062M1033 1068V1070M1033 1078V1080M1037 1082V1086M1039 1091V1097.6M1039 1106V1121.5M1047 1076V1078M1047 1082V1091M1049 1091V1097.6M1051 1091V1121.5M1053 1097.6V1106M1057 1097.6V1121.5M1061 1054V1056M1061 1058V1060M1061 1076V1080M1063 1097.6V1106M1065 1050V1052M1065 1062V1064M1065 1074V1076M1067 1070V1074M1067 1082V1086M1071 1076V1078M1073 1080V1091M1075 1072V1074M1075 1076V1080M1077 1074V1078M1079 1074V1076M1081 1078V1080M1083 1076V1078M1085 1078V1082M1087 1080V1086M1089 1074V1076M1091 1064V1066M1093 1064V1066M1097 1091V1097.6M1097 1106V1121.5M1111 1080V1086M1113 1074V1076M1113 1080V1091M1115 1091V1097.6M1115 1106V1121.5M1121 1078V1080M1123 1086V1091M1125 1074V1076M1125 1086V1091M1127 1074V1076M1129 1080V1086M1135 1082V1086M1137 1086V1091M1141 1097.6V1106M1143 1056V1058M1143 1062V1064M1143 1072V1074M1145 1076V1078M1149 1078V1080M1151 1097.6V1106M1153 1060V1062M1153 1070V1074M1155 1076V1078M1155 1086V1091M1157 1072V1074M1163 1068V1070M1163 1080V1082M1165 1082V1086M1165 1091V1097.6M1167 1082V1086M1171 1072V1074M1171 1076V1078M1171 1082V1091M1173 1056V1058M1173 1080V1082M1175 1068V1070M1175 1086V1091M1177 1076V1080M1181 1078V1080M1181 1086V1091M1183 1082V1086M1185 1074V1076M1187 1082V1086M1189 1066V1068M1189 1078V1082M1193 1066V1068M1193 1070V1072M1201 1076V1078M1201 1082V1086M1203 1038V1040M1203 1052V1054M1203 1058V1060M1203 1062V1064M1203 1080V1082M1205 1060V1062M1205 1064V1070M1205 1076V1078M1207 1054V1058M1207 1060V1062M1209 1076V1078M1209 1082V1086M1211 1054V1056M1211 1078V1080M1213 1036V1038M1213 1064V1068M1213 1072V1074M1215 1091V1097.6M1217 1091V1097.6M1225 1068V1070M1225 1076V1080M1227 1070V1072M1227 1080V1082M1229 1046V1050M1229 1052V1056M1231 1008V1010M1231 1014V1018M1231 1022V1024M1231 1028V1030M1231 1038V1042M1231 1056V1058M1233 1010V1012M1233 1024V1026M1233 1042V1044M1233 1052V1054M1233 1062V1064M1233 1078V1080M1235 1086V1097.6M1239 1074V1076M1241 1050V1052M1241 1056V1064M1241 1074V1078M1243 1054V1060M1243 1070V1072M1245 1062V1068M1245 1072V1074M1245 1082V1086M1247 1064V1066M1247 1072V1074M1249 1082V1086M1251 1062V1064M1251 1074V1076M1253 1058V1060M1253 1080V1082M1255 1086V1097.6M1257 1052V1054M1257 1060V1062M1259 1076V1078M1261 1082V1086M1265 1078V1082M1267 1048V1050M1267 1060V1062M1267 1076V1078M1269 1097.6V1106M1271 1086V1091M1273 1097.6V1106M1277 1097.6V1106M1279 1060V1064M1279 1068V1070M1279 1082V1091M1281 1091V1097.6M1285 1052V1054M1285 1082V1086M1287 1078V1080M1287 1082V1086M1289 1080V1082M1291 1076V1078M1291 1080V1082M1293 1042V1044M1293 1056V1058M1293 1066V1068M1295 1028V1030M1295 1052V1054M1295 1056V1058M1295 1066V1074M1295 1080V1082M1297 1078V1080M1299 1074V1076M1299 1080V1082M1305 1062V1064M1305 1074V1076M1305 1086V1091M1307 1068V1072M1313 1014V1016M1313 1026V1028M1313 1068V1070M1313 1072V1076M1313 1082V1086M1315 1026V1028M1315 1036V1038M1315 1048V1050M1315 1058V1060M1315 1064V1066M1315 1070V1072M1315 1076V1078M1317 1086V1091M1319 1050V1052M1319 1060V1062M1321 1062V1064M1321 1074V1076M1323 1066V1068M1325 1058V1062M1325 1078V1080M1327 1062V1070M1327 1076V1078M1327 1086V1091M1329 1078V1080M1331 1062V1064M1331 1072V1074M1331 1076V1078M1335 1082V1086M1337 1091V1097.6M1339 1044V1046M1339 1054V1056M1339 1066V1068M1339 1076V1080M1341 1040V1042M1341 1044V1046M1341 1072V1076M1343 1050V1052M1343 1054V1056M1343 1060V1062M1343 1064V1066M1343 1068V1070M1343 1076V1078M1345 1044V1046M1345 1050V1054M1345 1060V1064M1345 1066V1070M1347 1106V1121.5M1349 1038V1042M1349 1046V1048M1349 1056V1058M1349 1060V1062M1349 1070V1072M1351 1012V1014M1351 1030V1034M1351 1036V1042M1351 1044V1046M1351 1052V1054M1351 1080V1082M1353 970V972M1353 974V976M1353 1006V1008M1353 1016V1018M1353 1044V1046M1353 1064V1066M1353 1072V1074M1355 1012V1014M1355 1018V1020M1355 1028V1030M1355 1032V1034M1355 1042V1044M1355 1052V1054M1355 1074V1078M1355 1080V1082M1357 1000V1002M1357 1006V1008M1357 1018V1020M1357 1032V1038M1357 1046V1050M1357 1054V1056M1357 1074V1076M1359 1056V1058M1359 1060V1062M1359 1074V1076M1361 1018V1020M1361 1030V1032M1361 1034V1036M1361 1044V1046M1363 1040V1042M1363 1050V1052M1363 1054V1058M1363 1066V1068M1363 1078V1080M1365 1046V1050M1367 1026V1028M1367 1034V1036M1367 1038V1042M1367 1058V1066M1367 1068V1070M1369 1026V1028M1369 1048V1050M1369 1056V1058M1369 1060V1062M1369 1064V1066M1371 1046V1048M1371 1054V1056M1371 1058V1060M1371 1070V1074M1373 1022V1024M1373 1030V1032M1373 1038V1042M1373 1056V1058M1373 1066V1068M1373 1070V1072M1375 1004V1006M1375 1010V1012M1375 1016V1020M1375 1034V1038M1375 1042V1046M1375 1062V1066M1377 1036V1038M1377 1058V1060M1377 1078V1080M1381 996V998M1381 1008V1010M1381 1014V1016M1381 1054V1056M1383 1024V1026M1383 1028V1030M1383 1044V1048M1383 1054V1058M1383 1066V1068M1383 1070V1072M1383 1076V1078M1385 1091V1097.6M1387 1064V1066M1387 1082V1086M1389 1038V1044M1389 1046V1048M1389 1058V1060M1389 1070V1072M1391 1054V1058M1391 1064V1066M1391 1068V1070M1393 984V986M1393 996V1000M1393 1062V1066M1393 1072V1074M1395 1004V1006M1395 1030V1032M1395 1034V1036M1395 1042V1046M1395 1048V1050M1395 1056V1058M1395 1074V1076M1395 1078V1080M1397 1080V1082M1399 1097.6V1106M1403 1086V1091M1405 1070V1072M1405 1074V1078M1407 1086V1091M1409 1097.6V1106M1411 1086V1091M1413 1062V1064M1413 1074V1076M1413 1078V1080M1415 1091V1097.6M1415 1106V1121.5M1417 1072V1074M1419 1066V1068M1419 1070V1072M1419 1076V1078M1421 1070V1072M1421 1076V1080M1425 1062V1064M1425 1072V1074M1427 1066V1068M1429 1068V1070M1429 1074V1076M1429 1080V1086M1435 1076V1080M1439 1070V1072"/>
<path stroke="#0000ff" stroke-width="2" d="M710 1030V1034M710 1068V1072M710 1076V1080M712 1072V1074M712 1076V1078M712 1080V1082M714 1086V1097.6M714 1106V1121.5M716 1080V1082M718 1097.6V1121.5M720 1082V1086M722 1091V1097.6M726 1068V1070M726 1082V1091M730 1078V1080M730 1082V1086M732 1106V1121.5M736 1072V1074M736 1076V1080M736 1082V1086M738 1078V1080M740 1064V1066M740 1070V1072M742 1068V1070M742 1072V1074M744 1082V1091M748 1072V1074M748 1080V1082M752 1080V1091M754 1078V1080M756 1086V1091M758 1050V1052M758 1060V1062M758 1068V1070M758 1078V1080M760 1091V1097.6M760 1106V1121.5M762 1082V1091M764 1070V1072M764 1078V1080M764 1082V1086M766 1097.6V1121.5M768 1080V1086M770 1076V1078M770 1080V1082M774 1078V1080M774 1086V1091M885 1072V1078M889 1066V1068M889 1072V1074M889 1080V1086M891 1076V1078M891 1086V1091M893 1076V1082M897 1082V1086M899 1072V1076M899 1082V1086M901 1078V1086M903 1064V1066M903 1078V1080M903 1082V1086M905 1091V1097.6M907 1097.6V1121.5M911 1097.6V1106M913 1054V1056M915 1056V1060M915 1072V1076M917 1050V1054M917 1058V1060M917 1064V1066M917 1072V1074M919 1091V1097.6M921 1091V1106M923 1082V1086M925 1036V1038M925 1066V1070M927 1106V1121.5M929 1048V1050M929 1060V1062M929 1064V1066M931 1062V1064M931 1066V1068M933 1080V1082M933 1086V1091M935 1074V1076M935 1080V1086M937 1038V1040M937 1042V1044M937 1050V1052M937 1058V1060M937 1070V1072M939 1070V1074M939 1082V1086M941 1074V1076M941 1078V1080M945 1082V1086M947 1006V1008M947 1042V1044M947 1048V1050M947 1056V1058M949 1091V1106M953 1091V1097.6M957 1034V1036M957 1040V1042M957 1052V1054M957 1058V1060M959 1050V1052M959 1068V1070M959 1072V1074M959 1076V1078M961 1076V1078M963 1106V1121.5M965 1066V1068M965 1078V1082M967 1030V1032M967 1044V1046M967 1068V1070M967 1072V1074M967 1076V1080M971 1086V1097.6M973 1078V1080M973 1086V1091M975 1086V1091M979 1012V1014M979 1016V1018M979 1020V1024M979 1026V1028M979 1032V1034M979 1044V1046M979 1054V1060M979 1074V1076M981 1106V1121.5M983 1070V1072M983 1097.6V1106M985 1058V1060M985 1074V1076M985 1078V1086M987 1074V1076M987 1080V1086M989 1091V1097.6M989 1106V1121.5M991 1091V1097.6M991 1106V1121.5M995 1082V1091M997 1070V1072M997 1074V1080M997 1082V1086M1001 1052V1054M1001 1080V1082M1003 1064V1066M1003 1080V1082M1005 1097.6V1121.5M1007 1074V1076M1009 1048V1050M1011 1086V1091M1013 1076V1078M1013 1082V1086M1015 1062V1066M1015 1076V1078M1017 1097.6V1121.5M1021 1056V1060M1021 1070V1074M1021 1082V1086M1023 1082V1086M1025 1078V1080M1031 1048V1050M1031 1078V1080M1033 1032V1034M1033 1062V1064M1033 1066V1068M1033 1072V1074M1033 1076V1078M1035 1097.6V1121.5M1037 1068V1070M1037 1076V1082M1037 1086V1091M1039 1086V1091M1041 1076V1078M1041 1082V1086M1043 1076V1086M1043 1091V1097.6M1045 1078V1082M1047 1078V1080M1049 1097.6V1106M1053 1064V1066M1053 1091V1097.6M1053 1106V1121.5M1057 1060V1062M1057 1082V1091M1059 1097.6V1121.5M1061 1044V1046M1061 1064V1068M1061 1072V1074M1063 1091V1097.6M1063 1106V1121.5M1067 1062V1068M1069 1064V1066M1071 1078V1086M1073 1070V1072M1073 1074V1080M1075 1024V1026M1075 1046V1048M1075 1056V1058M1075 1060V1064M1075 1068V1070M1077 1034V1036M1077 1044V1046M1077 1062V1074M1079 1058V1060M1079 1064V1070M1079 1072V1074M1079 1080V1082M1081 1068V1070M1081 1072V1074M1081 1076V1078M1085 1076V1078M1089 1044V1046M1089 1058V1064M1089 1068V1074M1089 1076V1078M1091 1046V1048M1091 1050V1052M1091 1058V1064M1091 1072V1074M1091 1076V1078M1091 1080V1082M1093 1046V1048M1093 1066V1068M1093 1082V1086M1097 1082V1091M1111 1016V1018M1111 1058V1060M1111 1062V1064M1111 1070V1072M1111 1074V1076M1113 1068V1070M1113 1078V1080M1115 1086V1091M1117 1064V1066M1121 1030V1032M1121 1044V1046M1121 1062V1064M1121 1076V1078M1123 1074V1076M1123 1078V1080M1123 1082V1086M1125 1066V1070M1125 1072V1074M1125 1076V1078M1127 1056V1058M1127 1060V1062M1127 1064V1068M1127 1070V1074M1129 1036V1038M1129 1074V1076M1131 1046V1048M1131 1062V1066M1131 1074V1078M1131 1082V1086M1133 1097.6V1121.5M1135 1078V1080M1137 1048V1050M1137 1058V1060M1137 1062V1066M1141 1091V1097.6M1141 1106V1121.5M1143 1018V1020M1143 1042V1044M1143 1058V1060M1145 1030V1032M1145 1038V1040M1147 1076V1078M1147 1086V1091M1149 1008V1010M1149 1072V1076M1151 1062V1064M1151 1106V1121.5M1153 1048V1050M1153 1056V1058M1153 1064V1066M1153 1078V1080M1155 1060V1062M1155 1070V1072M1155 1078V1080M1159 1076V1078M1161 1097.6V1121.5M1163 1026V1028M1163 1052V1054M1163 1056V1062M1163 1064V1066M1165 1086V1091M1167 1056V1058M1167 1072V1074M1167 1078V1082M1169 1076V1078M1169 1082V1091M1171 1064V1066M1171 1070V1072M1173 1034V1036M1173 1040V1042M1173 1058V1060M1173 1062V1064M1175 1046V1048M1179 1010V1012M1179 1038V1040M1179 1050V1052M1179 1054V1056M1179 1060V1062M1179 1066V1068M1181 1070V1072M1181 1074V1078M1181 1082V1086M1183 1040V1042M1185 1062V1064M1185 1076V1080M1187 1056V1060M1187 1072V1074M1189 1056V1058M1189 1062V1064M1189 1068V1070M1189 1072V1074M1193 1056V1058M1193 1062V1064M1195 1106V1121.5M1197 1097.6V1106M1199 1014V1016M1199 1064V1066M1199 1076V1080M1199 1082V1086M1201 992V994M1201 1048V1050M1201 1064V1066M1201 1068V1070M1203 1028V1030M1203 1042V1046M1203 1048V1052M1203 1066V1068M1205 1000V1002M1205 1030V1032M1205 1034V1036M1205 1056V1060M1205 1062V1064M1207 1042V1044M1207 1062V1066M1207 1072V1074M1207 1076V1078M1209 1054V1056M1209 1064V1066M1209 1070V1076M1211 1062V1064M1211 1066V1068M1211 1080V1086M1213 1046V1048M1213 1050V1052M1213 1054V1056M1213 1060V1062M1213 1068V1070M1213 1076V1078M1215 1082V1086M1217 1082V1091M1225 1044V1046M1225 1058V1066M1225 1070V1072M1225 1080V1082M1227 1004V1006M1227 1066V1068M1227 1072V1074M1229 982V984M1229 1040V1042M1229 1062V1066M1229 1078V1082M1231 994V996M1231 1004V1008M1231 1024V1026M1231 1058V1062M1231 1066V1068M1231 1076V1078M1233 990V992M1233 996V998M1233 1000V1002M1233 1016V1018M1233 1028V1030M1233 1034V1036M1233 1046V1050M1235 1034V1036M1235 1058V1060M1235 1078V1080M1235 1082V1086M1237 1076V1078M1237 1080V1086M1239 1054V1058M1239 1060V1062M1239 1070V1074M1241 1042V1044M1241 1048V1050M1243 1044V1048M1245 1052V1054M1245 1058V1060M1245 1078V1080M1247 1060V1062M1247 1068V1072M1247 1080V1082M1249 1070V1074M1249 1076V1078M1249 1080V1082M1251 1052V1054M1251 1064V1070M1251 1080V1082M1253 1070V1072M1253 1076V1080M1255 1082V1086M1257 1036V1038M1257 1042V1046M1257 1050V1052M1259 1000V1002M1259 1060V1062M1259 1064V1066M1259 1070V1074M1259 1078V1082M1261 1020V1022M1261 1070V1072M1263 1097.6V1106M1265 1072V1074M1265 1082V1086M1267 1040V1042M1267 1054V1056M1269 1080V1082M1269 1106V1121.5M1271 1078V1080M1271 1082V1086M1273 1091V1097.6M1273 1106V1121.5M1275 1076V1078M1277 1072V1074M1277 1106V1121.5M1279 1066V1068M1279 1074V1080M1281 978V980M1281 1020V1022M1281 1054V1056M1281 1070V1072M1281 1074V1078M1283 1091V1106M1285 1040V1042M1285 1054V1056M1285 1062V1064M1285 1070V1072M1287 1048V1050M1287 1052V1054M1287 1056V1058M1287 1060V1062M1287 1064V1066M1287 1068V1070M1287 1072V1074M1287 1076V1078M1289 1034V1036M1289 1062V1070M1289 1072V1074M1289 1078V1080M1291 992V994M1291 1006V1008M1291 1056V1058M1291 1064V1066M1291 1068V1072M1293 996V998M1293 1024V1026M1293 1034V1036M1293 1038V1040M1295 1008V1010M1295 1036V1038M1295 1048V1050M1295 1060V1062M1297 1004V1006M1297 1054V1056M1297 1072V1074M1299 1066V1068M1299 1076V1078M1301 1086V1121.5M1303 1078V1080M1303 1091V1121.5M1305 1052V1056M1305 1066V1068M1305 1078V1082M1307 1050V1064M1307 1066V1068M1307 1072V1074M1309 1064V1066M1309 1097.6V1106M1311 1076V1078M1313 1010V1012M1313 1044V1048M1313 1050V1052M1313 1056V1062M1313 1064V1066M1313 1076V1080M1315 1016V1018M1315 1028V1030M1315 1034V1036M1315 1038V1040M1315 1044V1048M1315 1050V1052M1317 1080V1082M1319 1038V1040M1319 1044V1046M1319 1052V1056M1319 1058V1060M1319 1062V1066M1319 1070V1074M1319 1076V1078M1321 1044V1046M1321 1050V1052M1321 1054V1056M1321 1064V1066M1323 1062V1064M1325 1040V1042M1325 1054V1058M1325 1066V1068M1327 1054V1056M1327 1074V1076M1329 1064V1066M1329 1070V1072M1329 1074V1078M1329 1080V1082M1331 1050V1052M1331 1060V1062M1331 1068V1070M1331 1078V1080M1335 1016V1018M1335 1062V1064M1335 1074V1076M1335 1078V1080M1337 1056V1058M1337 1082V1091M1339 974V976M1339 1032V1034M1339 1038V1040M1339 1042V1044M1339 1048V1052M1339 1070V1072M1339 1074V1076M1341 1034V1036M1341 1038V1040M1341 1042V1044M1341 1046V1050M1341 1066V1070M1341 1080V1082M1343 1040V1042M1343 1046V1050M1343 1058V1060M1343 1072V1074M1343 1080V1082M1345 1048V1050M1345 1054V1060M1347 1091V1097.6M1349 1010V1012M1349 1016V1018M1349 1048V1050M1349 1052V1056M1351 992V996M1351 1008V1010M1351 1016V1018M1351 1020V1022M1351 1026V1028M1351 1050V1052M1351 1054V1056M1353 986V988M1353 1008V1010M1353 1018V1020M1353 1060V1062M1353 1066V1070M1355 998V1000M1355 1008V1010M1355 1020V1022M1355 1026V1028M1355 1030V1032M1355 1038V1042M1355 1048V1050M1355 1062V1064M1355 1070V1072M1357 996V998M1357 1010V1012M1357 1020V1022M1357 1028V1030M1357 1038V1042M1357 1064V1066M1357 1072V1074M1359 1038V1040M1359 1046V1052M1359 1064V1066M1359 1068V1070M1359 1078V1082M1361 992V994M1361 1006V1016M1361 1026V1028M1361 1054V1056M1361 1078V1080M1363 1004V1006M1363 1010V1016M1363 1020V1022M1363 1026V1028M1363 1032V1034M1363 1046V1048M1363 1080V1082M1365 972V974M1365 1000V1002M1365 1006V1008M1365 1030V1032M1365 1040V1044M1365 1056V1062M1365 1066V1068M1365 1072V1074M1367 1016V1018M1367 1020V1022M1367 1024V1026M1367 1028V1030M1367 1032V1034M1367 1042V1044M1367 1048V1050M1367 1054V1056M1367 1074V1076M1369 998V1000M1369 1002V1006M1369 1012V1016M1369 1018V1020M1369 1032V1038M1369 1042V1044M1369 1066V1068M1371 1022V1024M1371 1028V1030M1371 1036V1038M1371 1044V1046M1371 1056V1058M1371 1068V1070M1373 998V1000M1373 1016V1022M1373 1024V1030M1373 1032V1034M1373 1048V1050M1373 1080V1082M1375 988V990M1375 994V996M1375 998V1000M1375 1014V1016M1375 1022V1028M1375 1038V1040M1375 1080V1082M1377 1024V1028M1377 1050V1058M1377 1070V1076M1379 1097.6V1106M1381 970V972M1381 974V978M1381 980V984M1381 1010V1012M1381 1024V1026M1381 1028V1030M1381 1040V1044M1381 1046V1048M1381 1060V1062M1383 1002V1004M1383 1014V1016M1383 1022V1024M1383 1026V1028M1383 1032V1034M1383 1038V1040M1383 1068V1070M1383 1072V1074M1385 1072V1074M1385 1080V1091M1387 1062V1064M1389 1028V1030M1389 1034V1038M1389 1044V1046M1389 1060V1062M1391 1042V1054M1391 1072V1074M1391 1080V1082M1393 978V982M1393 988V996M1393 1008V1010M1393 1014V1016M1393 1018V1020M1393 1022V1026M1393 1028V1030M1393 1036V1038M1393 1040V1042M1393 1048V1050M1393 1052V1054M1393 1076V1078M1395 1006V1008M1395 1016V1018M1395 1028V1030M1395 1064V1066M1395 1072V1074M1395 1080V1082M1397 1064V1068M1397 1070V1072M1397 1074V1078M1399 1072V1074M1399 1078V1080M1401 1097.6V1106M1403 1082V1086M1405 1042V1044M1405 1058V1060M1405 1062V1066M1405 1068V1070M1405 1080V1082M1407 1091V1097.6M1407 1106V1121.5M1409 1106V1121.5M1411 1072V1074M1411 1082V1086M1413 1042V1044M1413 1070V1074M1413 1080V1082M1415 1097.6V1106M1417 1074V1076M1417 1078V1082M1419 1058V1060M1419 1064V1066M1419 1068V1070M1419 1078V1080M1421 1044V1046M1421 1080V1082M1423 1072V1074M1425 1038V1040M1425 1064V1066M1425 1068V1070M1425 1074V1078M1427 1030V1032M1427 1062V1066M1427 1074V1082M1429 1056V1058M1429 1062V1064M1429 1072V1074M1429 1078V1080M1433 1068V1070M1433 1091V1121.5M1435 1022V1024M1435 1052V1054M1435 1056V1058M1435 1060V1064M1435 1068V1070M1435 1072V1074M1435 1080V1082M1437 1080V1082M1439 1058V1060M1439 1068V1070M1439 1072V1076"/>
<path stroke="#0000cc" stroke-width="2" d="M710 1038V1040M710 1044V1046M710 1048V1060M710 1062V1066M710 1074V1076M712 1032V1034M712 1038V1042M712 1044V1054M712 1056V1060M712 1062V1066M712 1074V1076M714 1072V1080M714 1082V1086M716 986V988M716 1024V1026M716 1046V1048M716 1050V1052M716 1058V1062M716 1066V1068M716 1070V1072M716 1074V1078M718 1080V1082M720 1060V1062M720 1068V1082M722 976V978M722 998V1000M722 1072V1078M722 1080V1082M724 972V974M724 1024V1026M724 1054V1058M724 1062V1064M724 1066V1068M724 1072V1080M726 1060V1062M726 1064V1068M726 1070V1072M726 1074V1076M728 1078V1106M730 1062V1066M730 1068V1072M730 1074V1078M730 1080V1082M732 1080V1086M734 1004V1006M734 1012V1014M734 1056V1058M734 1080V1091M736 1030V1032M736 1046V1048M736 1050V1062M738 1046V1056M738 1058V1062M738 1066V1068M738 1070V1072M738 1074V1078M740 1026V1032M740 1034V1036M740 1040V1046M740 1050V1056M740 1058V1062M742 1022V1026M742 1036V1042M742 1044V1056M742 1062V1064M742 1074V1076M744 1044V1046M744 1050V1052M744 1056V1076M744 1080V1082M746 984V986M746 1074V1091M746 1097.6V1106M748 1026V1028M748 1046V1048M748 1052V1062M748 1064V1066M748 1068V1072M750 984V986M750 1038V1040M750 1056V1058M750 1074V1078M750 1080V1091M752 1044V1046M752 1058V1060M752 1066V1070M752 1074V1076M754 988V990M754 996V998M754 1046V1050M754 1052V1062M754 1066V1068M754 1076V1078M754 1080V1082M756 1018V1020M756 1044V1046M756 1048V1058M756 1060V1062M756 1064V1066M756 1070V1080M758 1036V1038M758 1046V1048M758 1052V1056M758 1064V1068M758 1074V1076M760 1068V1076M760 1080V1082M762 998V1000M762 1012V1014M762 1032V1034M762 1064V1066M762 1068V1080M764 1046V1048M764 1054V1060M764 1062V1064M764 1066V1070M764 1072V1078M764 1080V1082M766 1074V1076M766 1080V1086M768 1048V1050M768 1052V1054M768 1058V1060M768 1066V1068M768 1072V1074M768 1076V1080M770 1048V1050M770 1052V1060M770 1064V1068M770 1072V1074M772 976V978M772 1036V1040M772 1044V1054M772 1056V1066M772 1068V1070M772 1074V1078M774 1046V1050M774 1052V1062M774 1064V1066M774 1070V1076M885 1046V1048M885 1052V1056M885 1058V1062M885 1064V1066M885 1068V1070M887 1038V1040M887 1060V1064M887 1068V1074M887 1078V1080M889 1008V1010M889 1040V1044M889 1046V1052M889 1054V1058M889 1060V1062M889 1064V1066M889 1074V1076M891 1052V1056M891 1060V1074M893 988V990M893 1044V1050M893 1054V1064M893 1066V1068M893 1070V1072M893 1074V1076M895 1070V1072M895 1074V1078M895 1080V1082M897 1008V1010M897 1066V1068M897 1070V1078M899 1004V1006M899 1030V1032M899 1036V1038M899 1046V1048M899 1052V1056M899 1058V1072M899 1076V1078M901 1042V1046M901 1056V1058M901 1074V1076M903 1048V1060M903 1062V1064M903 1068V1070M903 1074V1076M905 1062V1066M905 1068V1074M905 1078V1082M907 1078V1086M909 986V988M909 1068V1070M909 1078V1086M911 994V996M911 1060V1062M911 1074V1086M913 970V972M913 1048V1050M913 1060V1066M913 1068V1078M913 1080V1082M915 1008V1012M915 1022V1028M915 1030V1038M915 1040V1042M915 1044V1052M915 1064V1066M917 980V982M917 998V1000M917 1010V1014M917 1022V1026M917 1028V1040M917 1042V1046M917 1048V1050M917 1056V1058M917 1066V1068M919 1020V1022M919 1072V1076M919 1078V1082M921 1072V1076M921 1078V1082M923 1052V1060M923 1062V1064M923 1068V1070M923 1072V1074M923 1078V1080M925 986V988M925 1004V1006M925 1022V1024M925 1030V1036M925 1040V1048M925 1052V1054M925 1056V1066M925 1078V1080M927 998V1000M927 1078V1086M929 1008V1010M929 1026V1028M929 1030V1032M929 1036V1044M929 1046V1048M929 1050V1058M929 1080V1082M931 1034V1040M931 1042V1044M931 1048V1054M931 1064V1066M933 1048V1050M933 1052V1054M933 1058V1060M933 1062V1072M935 1046V1048M935 1050V1052M935 1056V1058M935 1060V1068M937 992V996M937 998V1000M937 1002V1006M937 1014V1016M937 1020V1022M937 1024V1028M937 1030V1032M937 1040V1042M937 1044V1046M937 1052V1054M937 1060V1062M939 1034V1036M939 1044V1048M939 1050V1056M939 1058V1060M939 1062V1064M939 1068V1070M939 1076V1078M941 1046V1060M941 1062V1064M941 1068V1074M941 1076V1078M943 1038V1040M943 1042V1044M943 1048V1056M943 1058V1060M943 1062V1066M943 1068V1074M945 1006V1008M945 1060V1062M945 1064V1066M945 1068V1070M945 1072V1078M945 1080V1082M947 990V992M947 994V1004M947 1008V1010M947 1012V1022M947 1024V1026M947 1028V1032M947 1034V1036M947 1038V1042M947 1044V1048M947 1050V1052M949 1072V1074M949 1078V1082M951 1020V1022M951 1050V1052M951 1086V1121.5M953 1026V1028M953 1068V1076M953 1078V1086M955 1078V1080M955 1082V1086M957 974V976M957 978V980M957 984V988M957 990V1000M957 1002V1006M957 1008V1014M957 1018V1026M957 1030V1032M957 1036V1038M957 1042V1044M957 1046V1050M959 1036V1042M959 1046V1050M959 1054V1058M959 1060V1064M959 1074V1076M959 1080V1082M961 1032V1034M961 1058V1062M961 1064V1068M961 1070V1074M961 1078V1082M963 1064V1066M963 1076V1080M963 1082V1086M965 1042V1044M965 1046V1048M965 1050V1052M965 1054V1066M965 1068V1070M965 1072V1074M965 1076V1078M967 1042V1044M967 1046V1050M967 1054V1064M969 1058V1060M969 1082V1097.6M969 1106V1121.5M971 1064V1066M971 1068V1076M971 1080V1082M973 1012V1014M973 1046V1052M973 1056V1058M973 1062V1066M973 1068V1070M973 1072V1074M975 1058V1062M975 1064V1072M975 1080V1082M977 1074V1076M977 1078V1080M977 1086V1097.6M979 970V972M979 974V976M979 980V982M979 984V988M979 996V998M979 1000V1002M979 1010V1012M979 1018V1020M979 1028V1030M979 1036V1038M981 1070V1072M981 1074V1078M981 1080V1086M983 1066V1068M983 1072V1076M983 1078V1086M985 1016V1022M985 1030V1032M985 1036V1040M985 1042V1046M985 1050V1058M985 1060V1062M985 1064V1068M987 1038V1042M987 1044V1046M987 1048V1052M987 1054V1066M987 1072V1074M989 992V994M989 1018V1020M989 1064V1066M989 1070V1080M989 1082V1086M991 1058V1060M991 1068V1070M991 1074V1082M991 1086V1091M993 1014V1016M993 1078V1097.6M995 1060V1062M995 1066V1070M995 1072V1076M995 1078V1080M997 1026V1028M997 1032V1036M997 1040V1044M997 1046V1052M997 1054V1058M997 1062V1064M999 1078V1080M999 1082V1091M1001 1048V1050M1001 1058V1060M1001 1062V1064M1001 1066V1070M1001 1072V1076M1001 1078V1080M1003 982V984M1003 1020V1022M1003 1048V1050M1003 1052V1060M1003 1062V1064M1003 1066V1070M1003 1072V1074M1005 990V992M1005 1030V1032M1005 1070V1086M1005 1091V1097.6M1007 1036V1038M1007 1040V1060M1007 1062V1068M1007 1080V1082M1009 1060V1070M1009 1072V1080M1011 1058V1062M1011 1064V1070M1011 1072V1074M1011 1076V1078M1013 994V996M1013 1038V1040M1013 1042V1048M1013 1052V1054M1013 1056V1058M1013 1062V1064M1013 1066V1068M1013 1072V1076M1013 1078V1080M1015 1020V1022M1015 1024V1026M1015 1030V1036M1015 1038V1040M1015 1042V1046M1015 1050V1052M1015 1054V1060M1015 1070V1072M1015 1074V1076M1017 1070V1074M1017 1076V1078M1017 1080V1082M1019 984V988M1019 1078V1091M1021 1026V1028M1021 1038V1042M1021 1044V1046M1021 1054V1056M1021 1064V1066M1021 1074V1076M1021 1080V1082M1023 1038V1040M1023 1052V1054M1023 1058V1060M1023 1062V1066M1023 1068V1072M1023 1074V1078M1023 1080V1082M1025 1032V1034M1025 1040V1042M1025 1044V1046M1025 1048V1068M1025 1072V1074M1025 1080V1082M1027 1048V1050M1027 1058V1060M1027 1062V1072M1027 1074V1076M1027 1080V1082M1029 1048V1050M1029 1054V1058M1029 1060V1068M1029 1070V1074M1029 1078V1082M1031 986V996M1031 998V1006M1031 1008V1012M1031 1016V1022M1031 1026V1030M1031 1044V1046M1031 1050V1052M1031 1056V1058M1031 1060V1062M1031 1064V1066M1033 970V978M1033 980V988M1033 990V992M1033 994V1002M1033 1006V1008M1033 1012V1014M1033 1024V1026M1033 1030V1032M1033 1038V1040M1033 1044V1048M1035 1062V1066M1035 1072V1086M1037 1022V1026M1037 1028V1030M1037 1034V1038M1037 1040V1042M1037 1044V1048M1037 1052V1054M1037 1056V1058M1037 1062V1064M1037 1074V1076M1039 970V972M1039 1034V1036M1039 1068V1074M1041 1016V1018M1041 1048V1052M1041 1064V1066M1041 1068V1074M1043 1042V1044M1043 1052V1054M1043 1060V1066M1043 1068V1072M1045 1052V1054M1045 1056V1058M1045 1062V1064M1045 1066V1068M1045 1070V1072M1045 1076V1078M1047 1054V1066M1047 1070V1076M1049 1066V1078M1049 1080V1082M1051 980V982M1051 1010V1012M1051 1056V1060M1051 1062V1076M1051 1078V1080M1053 1026V1028M1053 1072V1074M1053 1076V1086M1055 972V974M1055 1060V1070M1055 1072V1074M1055 1076V1082M1057 978V980M1057 1064V1068M1057 1070V1072M1057 1074V1078M1057 1080V1082M1059 1022V1024M1059 1046V1048M1059 1068V1070M1059 1072V1086M1061 986V990M1061 992V998M1061 1000V1006M1061 1008V1010M1061 1012V1018M1061 1020V1024M1061 1026V1030M1061 1032V1034M1061 1036V1044M1061 1074V1076M1063 1026V1028M1063 1066V1068M1063 1072V1076M1063 1078V1086M1065 970V972M1065 1018V1020M1065 1028V1046M1065 1048V1050M1065 1052V1058M1065 1066V1068M1067 1024V1026M1067 1032V1034M1067 1036V1040M1067 1042V1046M1067 1050V1052M1067 1060V1062M1069 992V994M1069 1026V1028M1069 1030V1032M1069 1036V1054M1069 1060V1062M1069 1066V1072M1069 1074V1076M1071 1038V1040M1071 1046V1048M1071 1050V1064M1071 1070V1074M1073 984V986M1073 988V990M1073 1038V1044M1073 1054V1062M1073 1068V1070M1075 972V974M1075 1004V1018M1075 1026V1034M1075 1038V1040M1075 1048V1050M1075 1066V1068M1075 1070V1072M1077 1020V1024M1077 1028V1034M1077 1036V1044M1077 1048V1052M1077 1054V1058M1077 1080V1082M1079 1020V1022M1079 1024V1028M1079 1032V1034M1079 1036V1038M1079 1042V1054M1079 1060V1062M1079 1078V1080M1081 1014V1020M1081 1024V1026M1081 1030V1032M1081 1034V1036M1081 1038V1042M1081 1046V1048M1081 1056V1058M1081 1060V1062M1081 1066V1068M1083 1032V1036M1083 1040V1052M1083 1054V1058M1083 1062V1064M1083 1066V1070M1083 1074V1076M1085 1042V1044M1085 1046V1048M1085 1050V1054M1085 1056V1064M1085 1066V1070M1085 1072V1076M1087 1042V1044M1087 1050V1064M1087 1068V1076M1087 1078V1080M1089 1014V1016M1089 1020V1022M1089 1028V1030M1089 1034V1036M1089 1040V1044M1089 1046V1048M1089 1064V1066M1091 998V1000M1091 1002V1004M1091 1012V1014M1091 1016V1018M1091 1020V1036M1091 1038V1044M1091 1054V1058M1093 1022V1026M1093 1028V1032M1093 1034V1036M1093 1040V1042M1093 1044V1046M1093 1048V1052M1093 1054V1056M1093 1058V1062M1093 1068V1080M1095 976V978M1095 1028V1030M1095 1097.6V1121.5M1097 1064V1068M1097 1072V1074M1099 1097.6V1121.5M1101 1048V1050M1101 1091V1121.5M1103 1002V1004M1105 1076V1078M1105 1097.6V1106M1109 1034V1036M1109 1091V1121.5M1111 1024V1026M1111 1036V1044M1111 1052V1056M1111 1064V1066M1111 1068V1070M1111 1072V1074M1111 1076V1078M1113 1014V1016M1113 1020V1022M1113 1024V1028M1113 1030V1038M1113 1040V1042M1113 1044V1050M1113 1052V1056M1113 1060V1064M1113 1066V1068M1115 978V980M1115 990V992M1115 1040V1042M1115 1056V1058M1115 1060V1064M1115 1066V1078M1117 1006V1008M1117 1040V1042M1117 1072V1074M1117 1076V1091M1119 1078V1080M1119 1082V1097.6M1119 1106V1121.5M1121 1012V1014M1121 1028V1030M1121 1038V1044M1121 1046V1050M1121 1052V1058M1121 1060V1062M1121 1066V1068M1123 1024V1026M1123 1030V1032M1123 1034V1038M1123 1040V1042M1123 1048V1050M1123 1052V1056M1123 1058V1062M1123 1064V1066M1123 1068V1070M1123 1076V1078M1125 992V994M1125 998V1000M1125 1020V1024M1125 1028V1032M1125 1034V1048M1125 1050V1052M1125 1064V1066M1125 1078V1082M1127 1020V1022M1127 1026V1030M1127 1032V1034M1127 1036V1048M1127 1052V1054M1127 1058V1060M1127 1062V1064M1127 1068V1070M1129 1046V1054M1129 1056V1064M1129 1068V1072M1129 1076V1080M1131 1008V1010M1131 1016V1018M1131 1024V1036M1131 1038V1046M1131 1050V1052M1131 1054V1058M1131 1060V1062M1131 1078V1080M1133 974V976M1133 1014V1016M1133 1060V1062M1133 1064V1068M1133 1070V1072M1133 1080V1086M1135 1036V1040M1135 1048V1066M1135 1080V1082M1137 984V986M1137 988V992M1137 994V996M1137 1000V1004M1137 1008V1020M1137 1022V1030M1137 1036V1040M1137 1042V1044M1137 1054V1058M1137 1072V1074M1137 1080V1082M1139 1042V1044M1139 1066V1068M1139 1072V1078M1139 1080V1091M1141 992V994M1141 1062V1076M1141 1080V1086M1143 980V982M1143 984V986M1143 988V990M1143 998V1000M1143 1004V1006M1143 1008V1010M1143 1012V1018M1143 1020V1022M1143 1028V1032M1143 1036V1038M1143 1040V1042M1143 1048V1052M1143 1068V1070M1145 1024V1026M1145 1032V1034M1145 1036V1038M1145 1040V1046M1145 1048V1052M1145 1060V1062M1145 1072V1074M1147 1050V1052M1147 1060V1070M1147 1074V1076M1147 1078V1080M1149 1020V1026M1149 1028V1030M1149 1038V1040M1149 1044V1054M1149 1056V1062M1149 1064V1072M1151 1066V1068M1151 1070V1074M1151 1076V1078M1151 1080V1082M1153 998V1004M1153 1008V1010M1153 1014V1024M1153 1028V1030M1153 1032V1036M1153 1044V1046M1153 1050V1052M1153 1058V1060M1153 1062V1064M1153 1066V1068M1155 1014V1028M1155 1036V1038M1155 1042V1046M1155 1052V1054M1155 1062V1064M1155 1072V1076M1157 1028V1030M1157 1034V1036M1157 1040V1044M1157 1046V1050M1157 1054V1056M1157 1058V1060M1157 1064V1072M1157 1076V1080M1159 1078V1097.6M1161 1082V1086M1163 992V996M1163 1004V1006M1163 1012V1024M1163 1028V1032M1163 1038V1042M1163 1044V1046M1163 1048V1052M1163 1074V1078M1165 1046V1054M1165 1056V1058M1165 1060V1064M1165 1066V1074M1165 1076V1078M1167 1006V1010M1167 1016V1018M1167 1020V1022M1167 1024V1036M1167 1038V1042M1167 1046V1048M1167 1052V1054M1167 1060V1062M1167 1066V1068M1167 1076V1078M1169 992V994M1169 1048V1050M1169 1052V1054M1169 1056V1058M1169 1062V1070M1169 1078V1080M1171 990V992M1171 1032V1034M1171 1036V1038M1171 1040V1060M1171 1062V1064M1171 1066V1068M1171 1078V1082M1173 976V978M1173 982V988M1173 990V992M1173 996V1000M1173 1004V1012M1173 1016V1020M1173 1022V1030M1173 1032V1034M1173 1036V1038M1173 1052V1054M1173 1072V1074M1175 1042V1044M1175 1050V1064M1175 1066V1068M1175 1074V1078M1177 1032V1034M1177 1038V1042M1177 1046V1048M1177 1052V1054M1177 1056V1058M1177 1060V1062M1177 1064V1068M1177 1070V1072M1179 992V994M1179 998V1000M1179 1012V1022M1179 1024V1028M1179 1034V1036M1179 1044V1046M1179 1056V1060M1179 1064V1066M1179 1068V1072M1181 1012V1014M1181 1024V1028M1181 1030V1032M1181 1034V1040M1181 1042V1048M1181 1052V1054M1181 1056V1060M1181 1062V1068M1183 1022V1024M1183 1026V1028M1183 1030V1040M1183 1044V1048M1183 1052V1058M1183 1062V1064M1183 1070V1072M1185 1028V1036M1185 1040V1042M1185 1044V1052M1185 1054V1056M1185 1066V1070M1185 1072V1074M1187 1002V1004M1187 1012V1022M1187 1026V1034M1187 1040V1046M1187 1048V1052M1187 1060V1062M1187 1068V1070M1187 1074V1076M1187 1078V1080M1189 1014V1018M1189 1030V1034M1189 1036V1042M1189 1046V1052M1189 1054V1056M1189 1060V1062M1189 1064V1066M1191 1072V1076M1191 1078V1080M1191 1082V1091M1193 1022V1024M1193 1026V1030M1193 1034V1036M1193 1038V1044M1193 1046V1054M1193 1060V1062M1193 1068V1070M1195 1070V1072M1195 1074V1076M1195 1078V1091M1197 1058V1060M1197 1062V1066M1197 1072V1074M1197 1076V1091M1199 1006V1008M1199 1012V1014M1199 1020V1022M1199 1024V1036M1199 1038V1052M1199 1054V1056M1199 1058V1060M1199 1066V1068M1199 1072V1074M1201 1018V1020M1201 1024V1026M1201 1028V1034M1201 1036V1044M1201 1052V1054M1201 1060V1064M1201 1066V1068M1201 1070V1074M1201 1080V1082M1203 970V974M1203 978V980M1203 982V986M1203 990V1000M1203 1002V1010M1203 1012V1014M1203 1016V1018M1203 1022V1024M1203 1030V1032M1203 1034V1036M1203 1054V1056M1205 1010V1012M1205 1014V1016M1205 1020V1030M1205 1032V1034M1205 1046V1048M1205 1050V1054M1205 1072V1074M1207 990V992M1207 994V996M1207 998V1006M1207 1010V1012M1207 1014V1020M1207 1022V1024M1207 1028V1030M1207 1032V1038M1207 1044V1046M1207 1048V1050M1209 982V984M1209 994V1000M1209 1002V1010M1209 1014V1022M1209 1024V1030M1209 1032V1034M1209 1036V1042M1209 1048V1050M1209 1058V1062M1211 992V998M1211 1000V1004M1211 1006V1014M1211 1018V1020M1211 1022V1026M1211 1028V1034M1211 1036V1038M1211 1042V1044M1211 1048V1050M1211 1056V1058M1211 1060V1062M1211 1068V1070M1211 1072V1074M1213 992V994M1213 998V1002M1213 1004V1006M1213 1010V1012M1213 1016V1024M1213 1026V1028M1213 1032V1034M1213 1048V1050M1213 1052V1054M1213 1062V1064M1215 1056V1062M1215 1064V1068M1215 1070V1078M1215 1080V1082M1217 972V974M1217 1040V1042M1217 1054V1056M1217 1060V1076M1217 1078V1082M1219 1046V1048M1223 1080V1082M1223 1097.6V1121.5M1225 1006V1008M1225 1010V1012M1225 1018V1028M1225 1030V1034M1225 1038V1040M1225 1042V1044M1225 1046V1048M1225 1050V1052M1225 1056V1058M1225 1066V1068M1225 1072V1074M1227 1006V1014M1227 1016V1018M1227 1020V1038M1227 1040V1044M1227 1046V1048M1227 1052V1054M1227 1058V1064M1227 1068V1070M1229 972V974M1229 978V982M1229 986V988M1229 990V992M1229 994V1000M1229 1002V1006M1229 1012V1014M1229 1016V1026M1229 1032V1034M1229 1038V1040M1229 1042V1044M1229 1050V1052M1229 1056V1058M1231 974V976M1231 978V980M1231 982V984M1231 986V988M1231 998V1002M1231 1020V1022M1231 1032V1036M1233 976V980M1233 992V994M1233 1002V1004M1233 1014V1016M1233 1018V1020M1233 1050V1052M1235 1042V1044M1235 1052V1054M1235 1056V1058M1235 1060V1070M1237 1008V1010M1237 1056V1060M1237 1062V1064M1237 1070V1072M1237 1074V1076M1237 1078V1080M1239 1000V1002M1239 1006V1008M1239 1010V1014M1239 1016V1018M1239 1020V1030M1239 1034V1036M1239 1040V1046M1239 1050V1052M1239 1058V1060M1241 982V986M1241 988V990M1241 992V998M1241 1002V1018M1241 1022V1024M1241 1034V1040M1241 1044V1046M1241 1052V1054M1243 970V972M1243 974V978M1243 980V984M1243 986V990M1243 1002V1020M1243 1026V1030M1243 1034V1038M1243 1040V1042M1243 1050V1052M1245 986V988M1245 996V1000M1245 1002V1004M1245 1008V1020M1245 1022V1024M1245 1026V1030M1245 1032V1036M1245 1038V1040M1245 1042V1044M1247 994V996M1247 1000V1004M1247 1010V1016M1247 1018V1026M1247 1028V1034M1247 1036V1042M1247 1046V1048M1247 1052V1060M1247 1062V1064M1247 1066V1068M1249 1028V1030M1249 1032V1034M1249 1044V1052M1249 1054V1056M1249 1062V1068M1249 1078V1080M1251 1014V1026M1251 1028V1030M1251 1034V1046M1251 1048V1052M1251 1058V1060M1251 1070V1072M1253 1014V1016M1253 1030V1032M1253 1034V1036M1253 1038V1040M1253 1042V1050M1253 1052V1054M1253 1056V1058M1253 1060V1062M1253 1066V1068M1253 1072V1074M1255 1020V1022M1255 1024V1028M1255 1034V1036M1255 1048V1056M1255 1058V1068M1255 1070V1076M1257 976V990M1257 992V1010M1257 1012V1014M1257 1016V1018M1257 1020V1030M1257 1046V1050M1257 1056V1060M1257 1064V1068M1257 1070V1072M1259 1010V1012M1259 1014V1016M1259 1018V1020M1259 1022V1024M1259 1028V1036M1259 1038V1048M1259 1052V1054M1261 1004V1006M1261 1008V1010M1261 1012V1014M1261 1016V1018M1261 1022V1024M1261 1026V1028M1261 1030V1046M1261 1048V1056M1261 1060V1070M1261 1076V1080M1263 1070V1072M1263 1076V1078M1263 1080V1091M1265 1020V1024M1265 1028V1036M1265 1038V1048M1265 1050V1054M1265 1056V1058M1265 1060V1062M1265 1066V1068M1265 1070V1072M1267 986V988M1267 994V996M1267 998V1006M1267 1008V1022M1267 1024V1028M1267 1032V1036M1267 1038V1040M1267 1042V1046M1267 1052V1054M1267 1056V1058M1269 988V992M1269 1020V1022M1269 1068V1072M1269 1074V1078M1269 1082V1086M1271 1026V1028M1271 1030V1032M1271 1036V1038M1271 1040V1042M1271 1044V1052M1271 1054V1058M1271 1068V1072M1271 1080V1082M1273 984V986M1273 1054V1056M1273 1058V1062M1273 1064V1082M1275 1050V1054M1275 1056V1062M1275 1064V1066M1275 1068V1070M1275 1078V1080M1277 1026V1028M1277 1068V1072M1277 1074V1080M1277 1082V1086M1279 1020V1022M1279 1034V1040M1279 1042V1044M1279 1046V1054M1279 1056V1060M1279 1064V1066M1279 1072V1074M1281 1006V1008M1281 1012V1014M1281 1028V1034M1281 1036V1040M1281 1042V1046M1281 1050V1052M1281 1064V1066M1281 1072V1074M1283 1042V1044M1283 1076V1082M1285 1008V1014M1285 1016V1022M1285 1030V1034M1285 1036V1040M1285 1042V1044M1285 1050V1052M1285 1056V1058M1285 1072V1074M1287 984V988M1287 1000V1016M1287 1018V1022M1287 1024V1028M1287 1030V1034M1287 1038V1040M1287 1042V1044M1287 1046V1048M1287 1054V1056M1289 1024V1026M1289 1030V1032M1289 1038V1050M1289 1052V1056M1289 1070V1072M1289 1074V1076M1291 980V982M1291 984V986M1291 990V992M1291 994V1004M1291 1008V1010M1291 1012V1016M1291 1020V1022M1291 1026V1036M1291 1040V1044M1291 1046V1050M1291 1054V1056M1291 1062V1064M1291 1066V1068M1293 978V984M1293 986V994M1293 998V1000M1293 1002V1004M1293 1008V1010M1293 1018V1020M1293 1022V1024M1293 1026V1032M1293 1036V1038M1293 1044V1046M1295 972V982M1295 986V990M1295 996V1000M1295 1002V1008M1295 1010V1016M1295 1026V1028M1295 1038V1040M1295 1044V1048M1297 970V972M1297 974V982M1297 984V986M1297 990V996M1297 998V1004M1297 1014V1016M1297 1022V1026M1297 1032V1034M1297 1038V1042M1297 1044V1054M1297 1056V1058M1297 1064V1066M1299 986V988M1299 1028V1030M1299 1038V1044M1299 1048V1052M1299 1054V1056M1299 1062V1064M1301 980V982M1301 1026V1028M1301 1050V1052M1301 1056V1058M1301 1060V1064M1301 1066V1068M1301 1070V1072M1301 1076V1082M1303 1048V1050M1303 1056V1058M1303 1060V1062M1303 1066V1074M1303 1076V1078M1303 1080V1086M1305 988V990M1305 994V998M1305 1002V1006M1305 1014V1016M1305 1018V1022M1305 1026V1030M1305 1034V1040M1305 1046V1048M1305 1050V1052M1305 1056V1060M1305 1064V1066M1305 1068V1072M1307 992V994M1307 996V998M1307 1006V1008M1307 1012V1016M1307 1018V1024M1307 1026V1034M1307 1038V1042M1307 1044V1048M1307 1076V1078M1309 1070V1072M1309 1074V1076M1309 1078V1086M1311 1030V1032M1311 1034V1038M1311 1042V1044M1311 1046V1054M1311 1056V1058M1311 1060V1066M1311 1074V1076M1311 1078V1080M1313 986V988M1313 990V1000M1313 1004V1008M1313 1012V1014M1313 1018V1022M1313 1028V1030M1313 1032V1038M1313 1040V1044M1313 1048V1050M1313 1054V1056M1315 972V978M1315 980V986M1315 988V990M1315 992V996M1315 998V1002M1315 1022V1024M1315 1040V1042M1317 984V986M1317 1052V1054M1317 1056V1070M1317 1076V1080M1319 986V1004M1319 1010V1018M1319 1020V1024M1319 1028V1032M1319 1042V1044M1319 1048V1050M1321 996V998M1321 1002V1008M1321 1012V1026M1321 1028V1034M1321 1046V1048M1321 1066V1068M1321 1070V1072M1323 1004V1016M1323 1024V1044M1323 1046V1048M1323 1050V1052M1323 1056V1062M1323 1068V1074M1325 986V988M1325 992V994M1325 998V1000M1325 1006V1010M1325 1012V1018M1325 1022V1026M1325 1038V1040M1325 1044V1048M1325 1050V1052M1327 998V1000M1327 1004V1006M1327 1008V1014M1327 1018V1024M1327 1028V1032M1327 1038V1040M1327 1046V1048M1327 1050V1052M1327 1058V1060M1329 978V980M1329 1026V1028M1329 1032V1034M1329 1036V1038M1329 1040V1058M1329 1066V1070M1331 1004V1006M1331 1014V1018M1331 1020V1030M1331 1032V1040M1331 1044V1046M1331 1054V1058M1331 1064V1068M1333 1072V1074M1333 1080V1091M1335 1018V1020M1335 1022V1024M1335 1026V1028M1335 1030V1036M1335 1038V1042M1335 1044V1046M1335 1050V1052M1335 1054V1056M1335 1060V1062M1335 1070V1074M1335 1076V1078M1337 970V972M1337 980V982M1337 1004V1006M1337 1018V1020M1337 1030V1036M1337 1038V1042M1337 1044V1048M1337 1052V1054M1337 1078V1080M1339 982V990M1339 992V1000M1339 1002V1006M1339 1008V1028M1339 1030V1032M1339 1034V1036M1339 1046V1048M1339 1060V1062M1339 1064V1066M1341 974V976M1341 980V984M1341 986V1000M1341 1002V1004M1341 1008V1014M1341 1030V1032M1341 1050V1052M1341 1058V1060M1341 1076V1078M1343 970V972M1343 978V980M1343 986V1006M1343 1012V1014M1343 1016V1018M1343 1020V1024M1343 1026V1028M1343 1030V1036M1343 1044V1046M1345 970V972M1345 974V978M1345 980V982M1345 984V986M1345 988V990M1345 992V994M1345 996V1018M1345 1022V1024M1345 1030V1032M1345 1034V1038M1345 1042V1044M1345 1046V1048M1345 1064V1066M1345 1076V1078M1347 1056V1058M1347 1062V1066M1347 1068V1072M1347 1076V1080M1349 970V974M1349 976V978M1349 980V992M1349 994V996M1349 1000V1006M1349 1008V1010M1349 1012V1014M1349 1018V1022M1349 1034V1038M1349 1042V1046M1351 970V982M1351 984V986M1351 988V990M1351 998V1000M1351 1010V1012M1351 1014V1016M1351 1022V1024M1351 1034V1036M1351 1042V1044M1351 1046V1048M1353 972V974M1353 976V980M1353 982V984M1353 992V996M1353 998V1002M1353 1004V1006M1355 976V980M1355 982V984M1355 986V988M1355 990V992M1355 1000V1004M1355 1006V1008M1355 1010V1012M1355 1014V1016M1355 1022V1024M1355 1034V1036M1357 970V976M1357 982V992M1357 1002V1004M1357 1016V1018M1357 1026V1028M1359 976V980M1359 984V988M1359 990V992M1359 996V1020M1359 1022V1024M1359 1026V1028M1359 1032V1034M1359 1052V1054M1359 1058V1060M1361 970V974M1361 978V980M1361 986V988M1361 990V992M1361 998V1000M1361 1004V1006M1361 1016V1018M1361 1020V1024M1361 1038V1040M1361 1042V1044M1361 1046V1048M1361 1052V1054M1363 970V972M1363 974V976M1363 980V984M1363 986V988M1363 990V998M1363 1000V1004M1363 1006V1010M1363 1018V1020M1363 1024V1026M1363 1030V1032M1363 1034V1036M1365 970V972M1365 974V976M1365 978V982M1365 984V988M1365 990V1000M1365 1002V1006M1365 1008V1014M1365 1024V1030M1365 1050V1052M1365 1054V1056M1367 970V986M1367 988V990M1367 992V1000M1367 1002V1004M1367 1012V1014M1367 1022V1024M1367 1046V1048M1367 1066V1068M1369 970V972M1369 978V988M1369 990V996M1369 1008V1010M1371 970V976M1371 978V980M1371 984V988M1371 990V992M1371 994V996M1371 998V1000M1371 1002V1004M1371 1006V1022M1371 1024V1026M1371 1034V1036M1371 1038V1042M1371 1048V1052M1373 970V974M1373 980V982M1373 984V986M1373 988V994M1373 996V998M1373 1006V1012M1375 970V972M1375 974V978M1375 984V988M1375 996V998M1375 1032V1034M1377 976V978M1377 980V990M1377 992V998M1377 1000V1004M1377 1010V1016M1377 1030V1036M1377 1042V1044M1377 1048V1050M1379 1056V1058M1379 1060V1064M1379 1066V1070M1379 1072V1080M1381 986V990M1381 1002V1004M1381 1012V1014M1381 1044V1046M1381 1062V1064M1383 978V980M1383 986V990M1383 992V996M1383 1000V1002M1383 1004V1006M1383 1010V1012M1383 1018V1020M1383 1030V1032M1385 1008V1010M1385 1032V1034M1385 1038V1042M1385 1044V1058M1385 1060V1064M1387 996V1002M1387 1012V1018M1387 1022V1028M1387 1032V1036M1387 1042V1044M1387 1046V1048M1387 1066V1070M1389 970V972M1389 974V982M1389 984V996M1389 998V1000M1389 1004V1008M1389 1010V1028M1389 1062V1064M1391 970V978M1391 980V982M1391 984V986M1391 988V992M1391 994V1008M1391 1012V1016M1391 1022V1024M1391 1040V1042M1391 1066V1068M1393 970V972M1393 974V976M1393 986V988M1393 1016V1018M1395 970V976M1395 982V984M1395 988V992M1395 994V998M1395 1000V1002M1395 1008V1010M1395 1012V1016M1395 1024V1026M1395 1032V1034M1395 1038V1040M1397 1020V1024M1397 1032V1034M1397 1036V1040M1397 1042V1054M1397 1060V1064M1397 1068V1070M1397 1072V1074M1397 1078V1080M1399 1026V1028M1399 1036V1038M1399 1058V1068M1399 1070V1072M1399 1074V1076M1401 1016V1018M1401 1022V1024M1401 1074V1086M1401 1106V1121.5M1403 1028V1034M1403 1036V1040M1403 1042V1046M1403 1048V1054M1403 1060V1068M1403 1072V1074M1403 1080V1082M1405 988V990M1405 996V998M1405 1000V1002M1405 1004V1012M1405 1018V1022M1405 1026V1028M1405 1030V1034M1405 1036V1038M1405 1044V1046M1405 1048V1054M1407 1054V1056M1407 1058V1062M1407 1064V1066M1407 1068V1070M1407 1072V1076M1407 1080V1082M1409 1068V1070M1409 1072V1080M1411 1004V1006M1411 1048V1050M1411 1052V1062M1411 1064V1066M1411 1068V1070M1411 1076V1080M1413 1034V1038M1413 1044V1050M1413 1058V1060M1413 1064V1066M1415 1064V1066M1415 1068V1082M1417 970V972M1417 1032V1034M1417 1040V1046M1417 1052V1054M1417 1056V1058M1417 1062V1064M1417 1066V1068M1417 1070V1072M1419 976V978M1419 1024V1038M1419 1044V1050M1419 1054V1056M1419 1060V1064M1419 1074V1076M1419 1080V1082M1421 1002V1004M1421 1018V1020M1421 1024V1026M1421 1028V1036M1421 1038V1044M1421 1048V1050M1421 1054V1056M1421 1058V1062M1421 1064V1066M1421 1072V1076M1423 1054V1056M1423 1074V1076M1423 1078V1080M1423 1082V1091M1425 982V984M1425 986V990M1425 994V996M1425 998V1000M1425 1002V1006M1425 1008V1010M1425 1012V1026M1425 1028V1032M1425 1036V1038M1425 1040V1042M1425 1052V1054M1425 1060V1062M1427 1028V1030M1427 1032V1040M1427 1042V1048M1427 1050V1056M1427 1060V1062M1427 1070V1074M1429 1020V1022M1429 1024V1026M1429 1028V1036M1429 1038V1042M1429 1044V1048M1429 1050V1054M1429 1058V1062M1429 1064V1066M1431 978V980M1431 1082V1091M1433 1058V1064M1433 1070V1080M1433 1082V1086M1435 1000V1004M1435 1016V1020M1435 1024V1040M1435 1042V1044M1435 1048V1052M1435 1058V1060M1435 1066V1068M1435 1070V1072M1437 1038V1040M1437 1046V1048M1437 1050V1054M1437 1056V1058M1437 1062V1064M1437 1066V1068M1437 1070V1074M1439 986V988M1439 998V1022M1439 1024V1026M1439 1028V1032M1439 1038V1046M1439 1062V1064M1439 1066V1068"/>
<path stroke="#0000e6" stroke-width="2" d="M710 1060V1062M710 1066V1068M710 1072V1074M712 992V994M712 998V1000M712 1004V1006M712 1060V1062M712 1066V1072M714 1064V1066M714 1080V1082M716 1000V1002M716 1068V1070M716 1072V1074M716 1078V1080M718 988V990M718 1070V1072M718 1082V1097.6M720 1052V1054M720 1064V1066M722 1078V1080M722 1082V1091M724 1034V1036M724 1070V1072M724 1080V1082M726 1072V1074M726 1076V1080M728 1106V1121.5M730 1066V1068M730 1072V1074M732 1046V1048M732 1086V1097.6M734 1014V1016M734 1078V1080M734 1091V1121.5M736 1062V1064M736 1066V1072M736 1074V1076M736 1080V1082M736 1086V1091M738 978V980M738 1016V1018M738 1028V1030M738 1040V1042M738 1068V1070M738 1072V1074M740 998V1000M740 1056V1058M740 1062V1064M740 1066V1068M740 1072V1074M740 1076V1078M740 1080V1082M742 982V984M742 1056V1060M742 1064V1068M742 1070V1072M742 1076V1082M744 1078V1080M746 1091V1097.6M746 1106V1121.5M748 974V976M748 1048V1050M748 1062V1064M748 1066V1068M748 1078V1080M750 1008V1010M750 1091V1121.5M752 992V994M752 1056V1058M752 1064V1066M752 1070V1074M752 1076V1080M754 1062V1066M754 1068V1076M756 972V976M756 1068V1070M756 1080V1086M758 1014V1016M758 1056V1060M758 1062V1064M758 1070V1074M758 1076V1078M760 1050V1052M760 1078V1080M760 1082V1091M762 996V998M762 1060V1062M762 1080V1082M764 1040V1042M766 1002V1004M766 1014V1016M766 1034V1036M766 1086V1097.6M768 1068V1072M770 1060V1062M770 1070V1072M770 1074V1076M770 1078V1080M772 1054V1056M772 1066V1068M772 1070V1074M772 1078V1080M774 988V990M774 1008V1010M774 1026V1028M774 1042V1044M774 1066V1070M774 1076V1078M774 1080V1082M885 970V972M885 1062V1064M885 1066V1068M885 1070V1072M887 1074V1078M887 1080V1086M889 1018V1020M889 1068V1072M889 1078V1080M891 1074V1076M891 1078V1082M893 1068V1070M895 1016V1018M895 1020V1022M895 1068V1070M895 1082V1097.6M897 1078V1082M901 978V980M901 996V998M901 1002V1004M901 1010V1012M901 1030V1032M901 1064V1074M901 1076V1078M903 1066V1068M903 1070V1074M903 1080V1082M905 1006V1008M905 1042V1044M905 1076V1078M905 1082V1091M907 1086V1097.6M909 988V990M909 1086V1121.5M911 1086V1097.6M911 1106V1121.5M913 1038V1040M913 1078V1080M913 1082V1091M915 1020V1022M915 1042V1044M915 1052V1056M915 1060V1062M915 1070V1072M917 1040V1042M917 1046V1048M917 1060V1064M917 1068V1072M919 970V972M919 1082V1091M921 994V996M921 1082V1091M923 1012V1014M923 1050V1052M923 1064V1066M923 1070V1072M923 1074V1076M923 1080V1082M925 976V978M925 1050V1052M925 1054V1056M925 1072V1078M925 1080V1082M927 978V980M927 1002V1004M927 1036V1038M927 1086V1097.6M929 1044V1046M929 1058V1060M929 1062V1064M931 1044V1048M931 1054V1062M931 1072V1074M933 1072V1080M935 1026V1028M935 1068V1074M935 1078V1080M937 984V988M937 1022V1024M937 1028V1030M937 1032V1038M937 1046V1050M937 1056V1058M939 1056V1058M939 1060V1062M939 1064V1068M939 1074V1076M939 1078V1080M941 1064V1068M943 1018V1020M943 1056V1058M943 1060V1062M943 1066V1068M943 1074V1080M945 978V980M945 992V994M945 1056V1060M947 1022V1024M947 1026V1028M947 1032V1034M947 1036V1038M947 1052V1054M947 1060V1064M947 1066V1068M947 1070V1072M947 1074V1076M949 972V974M949 1038V1040M949 1082V1091M953 1086V1091M955 1086V1121.5M957 1000V1002M957 1014V1018M957 1026V1030M957 1032V1034M957 1038V1040M957 1044V1046M957 1064V1066M959 1034V1036M959 1058V1060M959 1064V1068M959 1070V1072M961 1068V1070M961 1074V1076M963 986V988M963 1086V1097.6M965 1024V1026M965 1070V1072M967 1028V1030M967 1052V1054M967 1064V1068M967 1070V1072M967 1074V1076M969 1064V1066M969 1097.6V1106M971 1076V1080M971 1082V1086M973 1070V1072M973 1076V1078M973 1080V1082M975 1072V1080M975 1082V1086M977 1012V1014M977 1032V1034M977 1097.6V1121.5M979 972V974M979 976V980M979 982V984M979 988V996M979 998V1000M979 1002V1010M979 1014V1016M979 1024V1026M979 1034V1036M979 1046V1048M979 1050V1052M979 1068V1070M981 1086V1097.6M983 1086V1097.6M983 1106V1121.5M985 1046V1050M985 1062V1064M985 1070V1074M985 1076V1078M987 978V980M987 1034V1036M987 1066V1072M987 1076V1080M989 986V988M989 990V992M989 1086V1091M991 1042V1044M991 1072V1074M991 1082V1086M993 1097.6V1121.5M995 1024V1026M995 1044V1046M995 1080V1082M997 992V994M997 1012V1014M997 1016V1018M997 1064V1070M997 1080V1082M999 1010V1012M999 1091V1121.5M1001 988V990M1001 1060V1062M1001 1076V1078M1003 1006V1008M1003 1036V1038M1003 1074V1080M1005 1026V1028M1005 1086V1091M1007 1060V1062M1007 1068V1074M1007 1078V1080M1009 974V976M1009 1070V1072M1009 1080V1091M1011 1070V1072M1011 1074V1076M1011 1078V1086M1013 1002V1004M1013 1064V1066M1013 1068V1072M1013 1080V1082M1015 982V984M1015 1046V1050M1015 1052V1054M1015 1060V1062M1015 1066V1068M1015 1078V1080M1017 1082V1097.6M1019 1020V1022M1019 1026V1028M1019 1046V1048M1019 1091V1121.5M1021 974V976M1021 1052V1054M1021 1060V1064M1021 1068V1070M1021 1078V1080M1023 1040V1042M1023 1072V1074M1023 1078V1080M1025 1068V1072M1025 1074V1078M1027 1000V1002M1027 1072V1074M1027 1076V1080M1027 1082V1091M1029 1028V1030M1029 1068V1070M1029 1076V1078M1029 1082V1086M1031 1006V1008M1031 1012V1016M1031 1022V1026M1031 1030V1036M1031 1042V1044M1031 1046V1048M1031 1062V1064M1031 1072V1074M1033 988V990M1033 992V994M1033 1002V1006M1033 1008V1012M1033 1014V1024M1033 1026V1030M1033 1052V1054M1035 1086V1097.6M1037 1054V1056M1037 1058V1062M1037 1064V1066M1037 1070V1074M1039 990V992M1039 1020V1022M1039 1078V1086M1041 1036V1038M1041 1056V1058M1041 1066V1068M1041 1074V1076M1041 1078V1082M1043 974V976M1043 994V996M1043 1000V1002M1043 1072V1076M1045 1006V1008M1045 1032V1034M1045 1048V1050M1045 1058V1060M1045 1068V1070M1045 1072V1076M1047 1020V1022M1047 1024V1026M1047 1036V1038M1047 1066V1070M1049 1004V1006M1049 1078V1080M1049 1082V1091M1051 996V998M1051 1020V1022M1051 1080V1091M1053 1008V1010M1053 1028V1030M1053 1042V1044M1053 1050V1052M1053 1086V1091M1055 1070V1072M1055 1074V1076M1055 1082V1091M1057 1078V1080M1059 1086V1097.6M1061 1006V1008M1061 1030V1032M1061 1034V1036M1061 1046V1054M1061 1056V1058M1061 1060V1064M1063 1004V1006M1063 1032V1034M1063 1086V1091M1065 1046V1048M1065 1058V1062M1065 1064V1066M1065 1068V1074M1065 1078V1082M1067 1028V1030M1067 1048V1050M1067 1052V1060M1067 1074V1082M1069 976V978M1069 1056V1060M1069 1062V1064M1069 1072V1074M1069 1076V1078M1071 1064V1066M1071 1068V1070M1071 1074V1076M1073 1062V1066M1073 1072V1074M1075 1034V1036M1075 1040V1046M1075 1050V1056M1075 1058V1060M1075 1064V1066M1077 976V978M1077 1052V1054M1077 1058V1062M1079 1054V1058M1079 1062V1064M1079 1070V1072M1081 1042V1046M1081 1048V1056M1081 1058V1060M1081 1062V1066M1081 1070V1072M1081 1080V1082M1083 978V980M1083 1028V1030M1083 1058V1062M1083 1064V1066M1083 1070V1074M1085 1010V1012M1085 1036V1038M1085 1064V1066M1085 1070V1072M1087 1008V1010M1087 1048V1050M1087 1066V1068M1087 1076V1078M1089 992V994M1089 1010V1012M1089 1048V1054M1089 1056V1058M1089 1066V1068M1091 1036V1038M1091 1044V1046M1091 1048V1050M1091 1052V1054M1091 1066V1072M1091 1074V1076M1093 1014V1016M1093 1018V1020M1093 1052V1054M1093 1056V1058M1093 1062V1064M1093 1080V1082M1095 982V984M1095 1010V1012M1095 1022V1024M1095 1064V1066M1097 1070V1072M1097 1074V1078M1097 1080V1082M1099 1010V1012M1099 1020V1022M1099 1054V1056M1101 1046V1048M1103 984V986M1103 1076V1078M1107 1036V1038M1107 1046V1048M1107 1058V1060M1109 1060V1062M1111 1000V1002M1111 1046V1052M1111 1056V1058M1111 1060V1062M1111 1066V1068M1113 970V972M1113 998V1000M1113 1050V1052M1113 1056V1060M1113 1064V1066M1113 1070V1074M1113 1076V1078M1115 1038V1040M1115 1064V1066M1115 1078V1086M1117 976V978M1117 984V986M1117 1020V1022M1117 1054V1056M1117 1091V1121.5M1119 1012V1014M1119 1016V1018M1119 1074V1076M1119 1097.6V1106M1121 1050V1052M1121 1058V1060M1121 1064V1066M1121 1068V1070M1121 1072V1074M1123 1046V1048M1123 1062V1064M1123 1066V1068M1123 1070V1074M1123 1080V1082M1125 986V988M1125 1048V1050M1125 1052V1064M1125 1070V1072M1127 1048V1052M1127 1054V1056M1127 1078V1080M1129 992V994M1129 1064V1068M1129 1072V1074M1131 982V984M1131 1010V1012M1131 1052V1054M1131 1058V1060M1131 1066V1074M1131 1080V1082M1133 1086V1097.6M1135 1066V1078M1137 982V984M1137 996V998M1137 1030V1036M1137 1040V1042M1137 1044V1048M1137 1050V1054M1137 1060V1062M1137 1068V1070M1137 1074V1076M1137 1078V1080M1139 1091V1121.5M1141 1030V1032M1141 1086V1091M1143 996V998M1143 1024V1028M1143 1032V1036M1143 1038V1040M1143 1044V1048M1143 1052V1056M1143 1060V1062M1143 1064V1066M1143 1070V1072M1143 1076V1080M1145 1022V1024M1145 1046V1048M1145 1052V1060M1145 1062V1066M1145 1068V1072M1145 1074V1076M1145 1078V1082M1147 1070V1074M1147 1080V1086M1149 1054V1056M1149 1062V1064M1149 1076V1078M1151 972V974M1151 1036V1038M1151 1078V1080M1151 1082V1097.6M1153 1030V1032M1153 1036V1038M1153 1040V1044M1153 1046V1048M1153 1052V1056M1153 1082V1086M1155 976V978M1155 1000V1004M1155 1034V1036M1155 1040V1042M1155 1048V1052M1155 1056V1060M1155 1064V1068M1155 1080V1082M1157 1052V1054M1157 1056V1058M1157 1060V1064M1157 1074V1076M1157 1080V1082M1159 998V1000M1159 1097.6V1121.5M1161 1048V1050M1161 1056V1058M1161 1086V1097.6M1163 1010V1012M1163 1032V1036M1163 1042V1044M1163 1046V1048M1163 1054V1056M1163 1062V1064M1163 1066V1068M1163 1070V1074M1165 1064V1066M1165 1074V1076M1165 1080V1082M1167 1018V1020M1167 1042V1046M1167 1048V1052M1167 1058V1060M1167 1062V1066M1167 1068V1072M1167 1074V1076M1169 1070V1076M1169 1080V1082M1169 1091V1097.6M1171 1012V1014M1171 1022V1026M1171 1038V1040M1171 1060V1062M1171 1068V1070M1171 1074V1076M1173 1038V1040M1173 1042V1052M1173 1054V1056M1173 1060V1062M1173 1066V1070M1173 1074V1076M1175 1070V1074M1175 1078V1086M1177 994V996M1177 1026V1030M1177 1062V1064M1177 1068V1070M1177 1072V1076M1177 1080V1086M1179 984V986M1179 1030V1034M1179 1040V1044M1179 1046V1050M1179 1052V1054M1179 1062V1064M1179 1072V1076M1179 1078V1080M1181 1048V1052M1181 1054V1056M1181 1060V1062M1181 1068V1070M1181 1072V1074M1181 1080V1082M1183 1042V1044M1183 1060V1062M1183 1064V1070M1183 1074V1082M1185 1024V1026M1185 1036V1040M1185 1056V1062M1185 1064V1066M1185 1070V1072M1185 1080V1082M1187 982V984M1187 1022V1024M1187 1034V1036M1187 1038V1040M1187 1046V1048M1187 1052V1056M1187 1062V1068M1187 1070V1072M1187 1080V1082M1189 974V976M1189 992V994M1189 1044V1046M1189 1052V1054M1189 1058V1060M1189 1074V1076M1191 1040V1042M1191 1091V1121.5M1193 1032V1034M1193 1054V1056M1193 1058V1060M1193 1064V1066M1193 1072V1076M1193 1078V1082M1195 1068V1070M1195 1076V1078M1195 1091V1106M1197 1091V1097.6M1197 1106V1121.5M1199 1016V1018M1199 1056V1058M1199 1060V1064M1199 1068V1070M1199 1074V1076M1201 1046V1048M1201 1050V1052M1201 1054V1056M1201 1058V1060M1203 1010V1012M1203 1018V1022M1203 1024V1028M1203 1032V1034M1203 1036V1038M1203 1040V1042M1203 1046V1048M1203 1064V1066M1203 1076V1078M1205 1018V1020M1205 1038V1046M1205 1054V1056M1205 1074V1076M1207 996V998M1207 1024V1026M1207 1030V1032M1207 1040V1042M1207 1046V1048M1207 1050V1054M1207 1058V1060M1207 1078V1080M1209 1042V1044M1209 1050V1054M1209 1056V1058M1209 1062V1064M1209 1066V1070M1209 1078V1080M1211 998V1000M1211 1026V1028M1211 1038V1042M1211 1044V1048M1211 1050V1054M1211 1064V1066M1211 1070V1072M1211 1076V1078M1213 1024V1026M1213 1028V1032M1213 1034V1036M1213 1038V1040M1213 1042V1046M1213 1056V1060M1215 1004V1006M1215 1078V1080M1215 1086V1091M1217 984V986M1217 1076V1078M1219 998V1000M1221 982V984M1221 986V988M1221 992V994M1221 1074V1078M1223 986V988M1223 992V994M1223 1004V1008M1223 1040V1042M1225 1034V1038M1225 1040V1042M1225 1048V1050M1225 1052V1056M1225 1074V1076M1227 1044V1046M1227 1048V1050M1227 1054V1058M1227 1064V1066M1227 1074V1076M1229 1006V1008M1229 1010V1012M1229 1014V1016M1229 1026V1032M1229 1034V1038M1229 1044V1046M1229 1068V1072M1231 970V974M1231 980V982M1231 984V986M1231 988V994M1231 996V998M1231 1002V1004M1231 1010V1014M1231 1018V1020M1231 1026V1028M1231 1036V1038M1231 1044V1046M1231 1052V1054M1233 970V976M1233 982V990M1233 994V996M1233 998V1000M1233 1004V1010M1233 1020V1024M1233 1026V1028M1233 1058V1060M1235 1070V1078M1235 1080V1082M1237 1072V1074M1237 1086V1091M1239 1004V1006M1239 1030V1034M1239 1036V1040M1239 1046V1050M1239 1052V1054M1239 1062V1068M1239 1078V1080M1241 1018V1020M1241 1026V1034M1241 1040V1042M1241 1046V1048M1241 1054V1056M1241 1064V1066M1241 1068V1070M1243 1024V1026M1243 1030V1034M1243 1038V1040M1243 1042V1044M1243 1048V1050M1243 1072V1078M1245 982V984M1245 1030V1032M1245 1036V1038M1245 1044V1052M1245 1054V1058M1245 1060V1062M1245 1076V1078M1247 1034V1036M1247 1042V1046M1247 1048V1052M1247 1074V1076M1247 1078V1080M1249 1026V1028M1249 1056V1058M1249 1060V1062M1249 1068V1070M1249 1074V1076M1251 1054V1058M1251 1060V1062M1251 1072V1074M1251 1076V1080M1253 970V972M1253 1054V1056M1253 1062V1066M1253 1068V1070M1253 1074V1076M1255 992V994M1255 1068V1070M1255 1076V1082M1257 972V974M1257 1010V1012M1257 1018V1020M1257 1030V1034M1257 1038V1042M1257 1054V1056M1257 1078V1080M1259 1048V1052M1259 1054V1060M1259 1062V1064M1259 1066V1070M1259 1074V1076M1261 1056V1060M1261 1072V1076M1263 1091V1097.6M1263 1106V1121.5M1265 1012V1014M1265 1054V1056M1265 1058V1060M1265 1062V1066M1265 1068V1070M1265 1074V1078M1267 1028V1032M1267 1036V1038M1267 1046V1048M1267 1062V1066M1267 1078V1080M1269 982V984M1269 1054V1056M1269 1058V1060M1269 1086V1097.6M1271 1006V1008M1271 1060V1064M1271 1072V1078M1273 974V976M1273 1082V1091M1275 1026V1028M1275 1048V1050M1275 1066V1068M1275 1070V1076M1275 1080V1086M1277 978V980M1277 1064V1066M1277 1080V1082M1277 1086V1097.6M1279 1000V1002M1279 1054V1056M1279 1070V1072M1279 1080V1082M1281 998V1000M1281 1040V1042M1281 1046V1050M1281 1052V1054M1281 1056V1064M1281 1066V1070M1281 1078V1082M1283 1074V1076M1283 1082V1091M1283 1106V1121.5M1285 1044V1050M1285 1058V1062M1285 1066V1070M1285 1076V1080M1287 1028V1030M1287 1034V1038M1287 1040V1042M1287 1044V1046M1287 1050V1052M1287 1058V1060M1287 1062V1064M1289 976V978M1289 1050V1052M1289 1056V1062M1289 1076V1078M1291 1024V1026M1291 1036V1040M1291 1044V1046M1291 1050V1054M1291 1058V1062M1291 1074V1076M1293 974V976M1293 1000V1002M1293 1006V1008M1293 1012V1018M1293 1020V1022M1293 1032V1034M1293 1040V1042M1293 1052V1054M1295 1000V1002M1295 1016V1026M1295 1030V1036M1295 1040V1042M1295 1050V1052M1295 1054V1056M1295 1058V1060M1295 1062V1064M1297 986V988M1297 1006V1010M1297 1012V1014M1297 1016V1022M1297 1026V1032M1297 1034V1038M1297 1042V1044M1297 1058V1064M1297 1068V1070M1297 1074V1076M1299 1010V1012M1299 1018V1020M1299 1056V1060M1299 1064V1066M1299 1068V1074M1299 1078V1080M1301 1042V1044M1301 1082V1086M1303 1086V1091M1305 1012V1014M1305 1030V1034M1305 1040V1046M1305 1048V1050M1305 1076V1078M1307 1016V1018M1307 1034V1038M1307 1048V1050M1307 1064V1066M1307 1078V1082M1309 1012V1014M1309 1086V1097.6M1309 1106V1121.5M1311 984V986M1311 1016V1018M1311 1054V1056M1311 1058V1060M1311 1066V1072M1313 982V984M1313 1002V1004M1313 1016V1018M1313 1030V1032M1313 1038V1040M1313 1052V1054M1313 1062V1064M1313 1066V1068M1313 1080V1082M1315 996V998M1315 1002V1016M1315 1018V1022M1315 1030V1034M1315 1042V1044M1315 1052V1054M1315 1056V1058M1317 1018V1020M1317 1070V1072M1317 1074V1076M1317 1082V1086M1319 1008V1010M1319 1018V1020M1319 1024V1028M1319 1032V1036M1319 1040V1042M1319 1046V1048M1319 1056V1058M1319 1068V1070M1319 1078V1080M1321 1034V1044M1321 1052V1054M1321 1056V1062M1321 1068V1070M1321 1078V1080M1323 1048V1050M1323 1052V1056M1323 1064V1066M1323 1080V1082M1325 1002V1004M1325 1018V1020M1325 1026V1038M1325 1042V1044M1325 1048V1050M1325 1052V1054M1325 1062V1066M1327 1024V1026M1327 1032V1038M1327 1040V1044M1327 1048V1050M1327 1052V1054M1327 1056V1058M1327 1060V1062M1329 1058V1064M1329 1072V1074M1331 1030V1032M1331 1042V1044M1331 1046V1050M1331 1052V1054M1331 1058V1060M1331 1074V1076M1333 1091V1121.5M1335 970V972M1335 974V976M1335 1008V1010M1335 1020V1022M1335 1046V1050M1335 1052V1054M1335 1056V1060M1335 1064V1070M1335 1080V1082M1337 996V998M1337 1028V1030M1337 1054V1056M1337 1058V1078M1337 1080V1082M1339 1028V1030M1339 1036V1038M1339 1040V1042M1339 1052V1054M1339 1056V1060M1339 1062V1064M1341 1000V1002M1341 1004V1006M1341 1014V1030M1341 1032V1034M1341 1036V1038M1341 1060V1062M1341 1064V1066M1343 1028V1030M1343 1036V1040M1343 1042V1044M1343 1070V1072M1343 1078V1080M1345 1018V1020M1345 1024V1030M1345 1032V1034M1345 1040V1042M1345 1070V1072M1347 1080V1091M1349 992V994M1349 996V1000M1349 1014V1016M1349 1022V1028M1349 1030V1034M1349 1050V1052M1349 1062V1064M1349 1080V1082M1351 982V984M1351 986V988M1351 990V992M1351 996V998M1351 1000V1008M1351 1018V1020M1351 1024V1026M1351 1058V1060M1351 1070V1072M1351 1078V1080M1353 980V982M1353 984V986M1353 988V990M1353 996V998M1353 1002V1004M1353 1010V1016M1353 1022V1034M1353 1054V1056M1353 1058V1060M1355 970V976M1355 980V982M1355 984V986M1355 988V990M1355 992V998M1355 1004V1006M1355 1016V1018M1355 1024V1026M1355 1046V1048M1355 1058V1060M1357 976V982M1357 992V996M1357 998V1000M1357 1004V1006M1357 1008V1010M1357 1012V1014M1357 1030V1032M1357 1042V1044M1357 1060V1064M1357 1066V1068M1357 1070V1072M1357 1076V1078M1359 1024V1026M1359 1030V1032M1359 1034V1038M1359 1040V1046M1359 1054V1056M1359 1062V1064M1359 1066V1068M1359 1072V1074M1361 974V978M1361 988V990M1361 994V998M1361 1000V1004M1361 1024V1026M1361 1028V1030M1361 1032V1034M1361 1036V1038M1361 1050V1052M1361 1058V1064M1361 1066V1068M1363 978V980M1363 984V986M1363 988V990M1363 998V1000M1363 1016V1018M1363 1022V1024M1363 1028V1030M1363 1036V1040M1363 1042V1044M1363 1048V1050M1363 1062V1064M1365 1014V1024M1365 1034V1040M1365 1044V1046M1365 1068V1070M1367 986V988M1367 990V992M1367 1000V1002M1367 1004V1008M1367 1010V1012M1367 1014V1016M1367 1018V1020M1367 1030V1032M1367 1044V1046M1367 1052V1054M1369 972V978M1369 988V990M1369 996V998M1369 1000V1002M1369 1006V1008M1369 1010V1012M1369 1016V1018M1369 1020V1026M1369 1028V1032M1369 1038V1040M1369 1044V1046M1369 1050V1056M1369 1074V1076M1371 996V998M1371 1000V1002M1371 1004V1006M1371 1026V1028M1371 1030V1034M1371 1042V1044M1371 1066V1068M1373 976V978M1373 982V984M1373 986V988M1373 994V996M1373 1000V1006M1373 1012V1016M1373 1036V1038M1373 1044V1048M1373 1050V1052M1375 972V974M1375 978V984M1375 990V994M1375 1000V1002M1375 1006V1010M1375 1012V1014M1375 1020V1022M1375 1028V1032M1375 1040V1042M1375 1050V1052M1377 998V1000M1377 1004V1006M1377 1008V1010M1377 1016V1020M1377 1022V1024M1377 1028V1030M1377 1038V1042M1377 1044V1048M1377 1060V1062M1379 1018V1020M1379 1048V1050M1379 1058V1060M1379 1082V1097.6M1379 1106V1121.5M1381 978V980M1381 984V986M1381 990V996M1381 1036V1038M1383 970V974M1383 980V982M1383 984V986M1383 990V992M1383 996V1000M1383 1008V1010M1383 1012V1014M1383 1016V1018M1383 1020V1022M1383 1034V1036M1383 1042V1044M1385 982V984M1385 1064V1072M1385 1074V1076M1385 1078V1080M1387 1018V1020M1387 1030V1032M1387 1036V1042M1387 1044V1046M1387 1048V1062M1387 1070V1074M1389 996V998M1389 1002V1004M1389 1008V1010M1389 1030V1034M1389 1050V1052M1389 1056V1058M1391 1008V1012M1391 1016V1018M1391 1020V1022M1391 1024V1040M1391 1058V1060M1391 1062V1064M1391 1076V1080M1393 972V974M1393 976V978M1393 982V984M1393 1000V1004M1393 1006V1008M1393 1012V1014M1393 1020V1022M1393 1030V1034M1393 1042V1044M1393 1054V1056M1395 976V982M1395 984V988M1395 992V994M1395 998V1000M1395 1002V1004M1395 1010V1012M1395 1018V1024M1395 1026V1028M1395 1040V1042M1395 1046V1048M1395 1058V1060M1395 1068V1072M1397 1054V1060M1399 1028V1030M1399 1048V1050M1399 1052V1054M1399 1082V1097.6M1399 1106V1121.5M1401 1058V1060M1401 1086V1097.6M1403 1012V1014M1403 1054V1056M1403 1058V1060M1403 1068V1072M1403 1076V1080M1405 1038V1042M1405 1046V1048M1405 1054V1056M1405 1066V1068M1407 1032V1034M1407 1046V1048M1407 1070V1072M1407 1076V1080M1407 1082V1086M1409 1082V1097.6M1411 980V982M1411 1050V1052M1411 1070V1072M1411 1074V1076M1411 1080V1082M1413 1050V1052M1413 1054V1058M1413 1060V1062M1413 1066V1070M1413 1076V1078M1415 994V996M1415 1010V1012M1415 1062V1064M1415 1082V1091M1417 976V978M1417 1038V1040M1417 1050V1052M1417 1054V1056M1417 1058V1062M1417 1064V1066M1417 1068V1070M1417 1076V1078M1419 984V986M1419 1042V1044M1419 1050V1054M1419 1072V1074M1421 970V972M1421 986V988M1421 1046V1048M1421 1050V1054M1421 1056V1058M1421 1066V1070M1423 990V992M1423 1091V1121.5M1425 970V972M1425 1026V1028M1425 1032V1036M1425 1042V1052M1425 1054V1060M1425 1066V1068M1425 1070V1072M1425 1080V1082M1427 1026V1028M1427 1048V1050M1427 1056V1060M1427 1068V1070M1429 1042V1044M1429 1054V1056M1429 1066V1068M1429 1070V1072M1431 1091V1121.5M1433 1000V1002M1433 1080V1082M1433 1086V1091M1435 988V990M1435 1044V1048M1435 1054V1056M1435 1064V1066M1437 1058V1062M1437 1064V1066M1437 1068V1070M1437 1074V1080M1437 1082V1086M1439 992V994M1439 1022V1024M1439 1032V1038M1439 1048V1056M1439 1060V1062M1439 1064V1066"/>
<path stroke="#000099" stroke-width="2" d="M710 994V996M710 1026V1028M712 972V974M712 1012V1014M714 976V978M714 980V982M714 994V996M714 1004V1006M714 1050V1052M716 1048V1050M718 978V980M718 998V1000M718 1002V1004M718 1026V1028M718 1030V1034M718 1036V1040M720 980V982M720 1028V1030M722 984V986M722 994V996M722 1004V1006M722 1010V1014M722 1016V1018M722 1042V1044M722 1046V1048M722 1052V1056M724 996V998M726 994V996M726 1000V1002M726 1012V1014M726 1020V1022M726 1024V1026M728 984V986M728 988V990M728 1012V1014M728 1056V1058M728 1060V1062M728 1066V1068M728 1070V1072M730 974V976M730 978V980M730 982V984M730 1008V1010M730 1024V1026M730 1034V1036M730 1042V1044M732 978V980M732 1050V1052M732 1054V1056M734 1008V1010M734 1016V1018M736 990V992M736 1008V1010M736 1020V1022M738 1006V1008M744 1038V1040M746 974V976M748 980V982M748 1012V1014M750 982V984M750 1010V1012M752 990V992M752 998V1000M752 1002V1004M752 1006V1008M752 1018V1020M752 1032V1034M752 1038V1040M754 974V976M754 984V986M756 988V992M758 1018V1020M760 998V1000M760 1052V1054M762 1008V1010M762 1024V1026M764 978V980M764 984V986M764 1016V1018M764 1028V1030M764 1032V1034M766 972V974M766 1006V1008M766 1012V1014M766 1030V1032M766 1044V1046M766 1072V1074M768 990V992M768 1050V1052M770 974V976M770 996V1000M770 1022V1024M772 978V980M774 976V978M774 1028V1030M774 1038V1040M885 978V980M887 972V974M887 1010V1012M887 1046V1048M889 986V988M889 1036V1038M891 978V980M891 992V994M891 1006V1008M891 1022V1026M891 1046V1048M893 970V972M893 1006V1008M893 1016V1018M893 1024V1026M893 1032V1034M895 972V974M895 1024V1026M895 1036V1038M897 992V994M897 996V998M897 1042V1044M897 1048V1050M899 970V972M899 982V984M899 994V996M901 972V974M901 1006V1008M901 1026V1028M901 1048V1050M903 998V1000M905 1032V1034M907 970V972M907 1036V1038M909 998V1000M909 1012V1014M911 978V980M911 1024V1026M911 1068V1070M913 1066V1068M915 976V978M915 990V992M915 1002V1004M919 984V986M919 1010V1012M919 1048V1050M921 980V984M921 1000V1002M921 1018V1020M921 1070V1072M923 1000V1002M925 982V984M925 988V990M925 996V998M925 1010V1012M925 1016V1018M925 1020V1022M927 1038V1040M927 1046V1048M927 1052V1056M929 974V976M929 990V992M929 1018V1022M929 1024V1026M931 976V978M931 986V988M933 992V994M933 1008V1010M933 1012V1014M935 992V994M935 998V1000M937 974V976M939 988V990M939 998V1002M939 1020V1022M941 980V982M941 988V990M943 996V998M943 1012V1014M945 976V978M945 986V988M945 1036V1038M945 1040V1042M945 1048V1050M949 992V994M949 1000V1002M949 1036V1038M949 1042V1044M949 1046V1048M951 976V978M951 1010V1014M951 1022V1024M951 1052V1054M951 1062V1064M953 984V986M953 1014V1016M955 1042V1044M955 1054V1056M959 1020V1022M961 974V978M961 1000V1002M961 1014V1016M963 978V980M963 1000V1002M963 1048V1050M965 998V1000M965 1006V1008M965 1014V1016M965 1034V1036M965 1040V1042M967 1002V1004M969 974V976M969 1008V1010M969 1016V1018M969 1020V1022M969 1038V1040M969 1042V1044M969 1074V1076M971 1016V1018M971 1038V1040M973 972V974M973 1020V1022M973 1026V1028M973 1032V1034M975 1014V1016M975 1018V1020M977 988V990M977 1062V1066M981 1032V1034M983 998V1000M983 1060V1062M985 972V974M985 982V984M985 992V996M985 1010V1012M985 1022V1024M987 976V978M987 994V998M987 1026V1028M989 976V978M989 1042V1044M989 1056V1058M989 1066V1068M991 972V974M991 1052V1054M993 1054V1056M995 1004V1006M995 1018V1020M995 1026V1028M997 990V992M997 1014V1016M999 970V972M999 1008V1010M999 1042V1044M999 1054V1056M1001 972V974M1001 976V978M1001 1010V1012M1001 1016V1018M1001 1020V1022M1003 1050V1052M1005 972V974M1005 984V986M1005 996V1000M1005 1010V1012M1005 1046V1048M1007 994V996M1007 998V1000M1009 972V974M1009 1006V1008M1011 986V988M1011 990V992M1011 994V996M1011 1046V1048M1013 970V972M1013 996V998M1013 1012V1014M1013 1024V1026M1015 992V994M1017 992V994M1017 1000V1002M1017 1026V1028M1019 976V978M1019 996V998M1019 1022V1024M1019 1034V1036M1019 1052V1054M1019 1058V1060M1019 1068V1070M1019 1072V1074M1021 994V996M1021 1006V1008M1021 1012V1014M1021 1022V1024M1023 984V986M1023 1010V1012M1025 976V978M1025 980V982M1025 1000V1004M1025 1030V1032M1027 1028V1030M1027 1044V1046M1027 1056V1058M1029 1026V1028M1035 980V982M1035 1046V1048M1035 1066V1068M1037 970V972M1037 984V988M1039 980V984M1039 988V990M1039 1008V1010M1039 1012V1016M1039 1040V1042M1041 978V980M1041 1026V1028M1041 1040V1042M1045 974V976M1045 992V994M1045 1030V1032M1045 1034V1036M1047 992V996M1047 1010V1012M1049 978V980M1049 1010V1012M1051 970V972M1051 978V980M1051 992V996M1051 1006V1008M1051 1030V1032M1053 980V982M1053 1018V1020M1053 1038V1040M1053 1058V1060M1055 1000V1002M1055 1030V1032M1057 1014V1016M1057 1018V1020M1057 1052V1054M1057 1062V1064M1059 992V994M1059 1020V1022M1059 1064V1066M1063 1010V1012M1063 1038V1040M1063 1050V1054M1065 1010V1012M1065 1020V1022M1067 982V984M1069 1000V1004M1071 988V990M1073 980V982M1073 1008V1010M1073 1016V1018M1075 992V994M1077 986V988M1079 970V972M1079 990V994M1081 984V986M1081 990V992M1083 1002V1004M1085 974V976M1085 980V982M1087 976V978M1087 1034V1036M1089 1000V1002M1091 1000V1002M1093 988V990M1093 1002V1004M1093 1008V1010M1095 1002V1006M1095 1016V1018M1095 1044V1046M1097 1014V1016M1099 1012V1014M1099 1032V1034M1099 1076V1078M1101 1004V1006M1101 1058V1060M1101 1066V1068M1103 1010V1012M1103 1036V1038M1103 1072V1076M1105 980V982M1105 988V990M1105 1000V1002M1105 1018V1020M1105 1068V1070M1105 1072V1074M1107 986V988M1109 970V974M1109 986V988M1109 990V992M1109 1006V1008M1109 1040V1042M1111 996V998M1111 1004V1006M1113 974V976M1113 1006V1008M1115 970V972M1115 988V990M1115 1034V1036M1115 1054V1056M1117 970V972M1117 982V984M1117 1012V1014M1117 1032V1034M1119 974V976M1119 988V990M1119 1018V1020M1119 1052V1054M1119 1056V1058M1121 998V1004M1123 976V978M1123 998V1000M1125 974V976M1125 982V984M1127 974V978M1129 996V998M1131 970V972M1131 976V978M1135 994V996M1135 1018V1020M1139 976V978M1139 1000V1002M1139 1040V1042M1139 1054V1056M1139 1068V1070M1141 1018V1020M1145 1016V1018M1147 970V972M1149 972V974M1151 990V992M1151 1002V1004M1151 1010V1012M1151 1014V1016M1151 1030V1032M1151 1034V1036M1151 1038V1040M1155 990V992M1157 1022V1024M1159 988V990M1159 1002V1004M1161 1022V1024M1161 1026V1028M1161 1030V1032M1161 1036V1038M1161 1070V1072M1163 982V984M1165 978V980M1165 1018V1020M1167 1002V1004M1169 998V1000M1171 986V988M1171 992V994M1175 972V974M1175 984V986M1175 1028V1030M1177 974V976M1177 1000V1002M1181 984V986M1183 974V976M1185 1042V1044M1187 980V982M1187 990V992M1189 982V984M1191 982V986M1191 988V990M1191 1052V1054M1193 984V986M1193 988V990M1193 998V1000M1195 990V992M1195 1004V1006M1195 1052V1054M1195 1064V1066M1197 1026V1032M1201 972V974M1205 1004V1006M1205 1016V1018M1215 986V988M1215 1034V1038M1215 1044V1046M1217 1032V1034M1217 1038V1040M1217 1044V1046M1219 980V982M1219 1004V1006M1219 1020V1022M1219 1044V1046M1221 990V992M1223 1022V1024M1223 1030V1032M1223 1034V1036M1225 992V994M1225 1014V1016M1235 972V974M1235 976V978M1235 980V982M1235 1026V1028M1235 1032V1034M1237 990V992M1237 1014V1016M1237 1022V1024M1237 1050V1052M1239 974V976M1245 978V980M1245 1004V1006M1249 1008V1010M1251 1008V1010M1253 976V978M1253 1012V1014M1253 1032V1034M1255 1000V1002M1261 980V984M1261 1014V1016M1263 1004V1006M1263 1008V1010M1265 994V996M1269 980V982M1269 1010V1012M1269 1040V1042M1271 976V978M1271 986V990M1271 1008V1012M1273 1028V1030M1273 1046V1048M1277 970V972M1277 984V986M1277 1042V1044M1277 1052V1054M1277 1056V1058M1281 1000V1002M1283 986V988M1283 1070V1072M1287 982V984M1289 998V1000M1289 1004V1006M1289 1018V1020M1289 1032V1034M1291 986V988M1299 988V990M1299 998V1000M1301 978V980M1301 988V990M1301 1016V1018M1301 1038V1040M1303 1030V1032M1303 1034V1036M1305 976V978M1307 978V980M1309 982V984M1309 992V994M1309 1016V1018M1311 980V982M1311 1022V1024M1317 1014V1016M1321 970V972M1321 976V978M1325 970V972M1327 974V976M1327 986V988M1329 980V982M1329 990V992M1329 994V996M1329 1016V1018M1333 996V998M1333 1054V1058M1333 1076V1078M1335 972V974M1335 1028V1030M1347 972V974M1347 1012V1014M1347 1018V1020M1347 1040V1042M1379 978V980M1379 990V992M1379 994V996M1379 1004V1006M1379 1034V1036M1385 990V992M1385 1010V1012M1397 970V972M1397 984V986M1397 992V994M1399 1006V1008M1399 1020V1022M1401 986V988M1401 1002V1004M1401 1024V1026M1401 1054V1056M1403 982V984M1403 988V990M1403 998V1000M1407 982V984M1407 992V994M1407 996V998M1409 970V974M1409 976V978M1409 988V990M1409 998V1000M1409 1056V1058M1411 974V976M1411 1042V1044M1413 1016V1022M1415 984V986M1415 1008V1010M1415 1014V1016M1415 1034V1036M1417 990V992M1417 994V996M1417 1000V1002M1417 1022V1024M1419 970V972M1419 978V980M1419 1000V1002M1421 972V976M1421 992V994M1423 1000V1002M1423 1036V1038M1423 1042V1044M1427 972V974M1427 980V982M1427 990V992M1429 1000V1002M1429 1006V1008M1429 1012V1014M1431 974V976M1431 1044V1046M1431 1058V1060M1431 1070V1072M1433 1002V1004M1433 1014V1016M1435 990V992M1435 996V998M1437 1002V1004"/>
<path stroke="#0066ff" stroke-width="2" d="M712 1091V1097.6M716 1091V1097.6M720 1106V1121.5M736 1106V1121.5M738 1106V1121.5M740 1106V1121.5M748 1106V1121.5M752 1106V1121.5M754 1091V1097.6M756 1106V1121.5M758 1086V1097.6M768 1106V1121.5M770 1097.6V1106M885 1106V1121.5M887 1091V1097.6M889 1097.6V1106M893 1106V1121.5M901 1097.6V1106M903 1097.6V1121.5M915 1078V1082M917 1074V1078M917 1080V1082M917 1086V1091M923 1106V1121.5M929 1078V1080M933 1097.6V1106M937 1074V1076M941 1091V1106M943 1086V1091M947 1072V1074M947 1082V1086M957 1074V1076M957 1086V1091M967 1097.6V1106M973 1097.6V1106M979 1060V1062M979 1076V1080M979 1082V1097.6M985 1086V1091M987 1086V1097.6M987 1106V1121.5M1001 1097.6V1106M1003 1106V1121.5M1007 1106V1121.5M1013 1091V1097.6M1023 1097.6V1121.5M1025 1106V1121.5M1031 1070V1072M1033 1070V1072M1037 1091V1097.6M1041 1106V1121.5M1043 1097.6V1106M1047 1091V1097.6M1055 1097.6V1106M1061 1068V1070M1061 1082V1086M1065 1086V1091M1067 1091V1097.6M1069 1082V1091M1071 1097.6V1106M1075 1074V1076M1075 1082V1086M1077 1086V1091M1077 1106V1121.5M1081 1082V1086M1085 1086V1097.6M1087 1106V1121.5M1089 1086V1091M1091 1078V1080M1093 1106V1121.5M1111 1086V1097.6M1113 1106V1121.5M1121 1082V1086M1125 1091V1097.6M1127 1082V1091M1135 1097.6V1106M1143 1080V1082M1147 1106V1121.5M1149 1086V1091M1153 1080V1082M1163 1086V1091M1165 1106V1121.5M1167 1091V1097.6M1171 1091V1097.6M1177 1091V1097.6M1177 1106V1121.5M1183 1097.6V1106M1187 1086V1091M1189 1086V1091M1189 1106V1121.5M1193 1106V1121.5M1209 1091V1097.6M1209 1106V1121.5M1213 1082V1086M1227 1086V1091M1231 1064V1066M1233 1060V1062M1233 1064V1066M1233 1074V1076M1241 1078V1080M1241 1091V1097.6M1243 1082V1086M1255 1106V1121.5M1257 1074V1076M1257 1080V1082M1257 1086V1091M1261 1091V1097.6M1265 1106V1121.5M1271 1097.6V1106M1275 1097.6V1121.5M1279 1106V1121.5M1287 1086V1091M1289 1086V1091M1293 1070V1072M1293 1074V1076M1297 1080V1082M1299 1097.6V1106M1313 1070V1072M1313 1106V1121.5M1315 1078V1080M1317 1097.6V1106M1319 1080V1086M1321 1082V1086M1323 1106V1121.5M1325 1082V1086M1327 1080V1082M1341 1078V1080M1341 1082V1086M1343 1074V1076M1349 1072V1074M1349 1078V1080M1351 1060V1062M1351 1074V1076M1353 1036V1040M1353 1042V1044M1353 1070V1072M1357 1068V1070M1359 1086V1091M1361 1072V1074M1363 1058V1060M1363 1068V1070M1363 1072V1074M1365 1082V1091M1367 1056V1058M1367 1070V1072M1367 1076V1078M1371 1076V1078M1373 1042V1044M1373 1052V1056M1373 1058V1062M1373 1064V1066M1375 1052V1054M1377 1062V1066M1377 1068V1070M1377 1080V1082M1381 1030V1032M1381 1038V1040M1381 1052V1054M1383 1048V1050M1383 1062V1064M1383 1080V1082M1387 1086V1091M1389 1066V1068M1389 1072V1076M1389 1078V1080M1391 1074V1076M1391 1082V1086M1393 1034V1036M1393 1046V1048M1393 1066V1068M1395 1060V1064M1395 1066V1068M1395 1076V1078M1397 1097.6V1106M1405 1091V1097.6M1405 1106V1121.5M1407 1097.6V1106M1417 1082V1086M1419 1091V1097.6M1427 1091V1097.6M1437 1091V1121.5"/>
<path stroke="#00b3ff" stroke-width="2" d="M716 1106V1121.5M736 1097.6V1106M744 1097.6V1106M770 1106V1121.5M885 1097.6V1106M891 1097.6V1106M899 1106V1121.5M925 1091V1097.6M939 1097.6V1106M957 1080V1082M959 1106V1121.5M1015 1097.6V1121.5M1021 1097.6V1106M1033 1086V1091M1045 1097.6V1121.5M1069 1091V1097.6M1075 1086V1091M1089 1091V1097.6M1113 1097.6V1106M1131 1106V1121.5M1145 1091V1106M1157 1097.6V1106M1167 1097.6V1106M1171 1097.6V1121.5M1187 1106V1121.5M1199 1097.6V1106M1201 1097.6V1106M1205 1091V1097.6M1213 1086V1091M1229 1082V1086M1231 1078V1080M1245 1091V1097.6M1255 1097.6V1106M1259 1091V1097.6M1261 1097.6V1106M1267 1091V1097.6M1295 1106V1121.5M1307 1091V1097.6M1315 1080V1082M1319 1091V1097.6M1319 1106V1121.5M1325 1091V1097.6M1335 1106V1121.5M1341 1091V1097.6M1345 1086V1091M1349 1091V1097.6M1353 1076V1078M1365 1091V1106M1369 1086V1091M1373 1076V1078M1375 1074V1076M1375 1082V1086M1377 1076V1078M1377 1086V1091M1381 1066V1068M1387 1106V1121.5M1391 1091V1097.6M1391 1106V1121.5M1393 1078V1080M1393 1082V1086M1395 1097.6V1106M1427 1106V1121.5"/>
<path stroke="#00ccff" stroke-width="2" d="M716 1097.6V1106M754 1097.6V1106M758 1106V1121.5M891 1106V1121.5M915 1086V1091M937 1086V1091M943 1097.6V1106M959 1097.6V1106M997 1097.6V1106M1061 1106V1121.5M1089 1106V1121.5M1091 1086V1091M1121 1091V1097.6M1137 1097.6V1106M1143 1106V1121.5M1155 1097.6V1106M1173 1097.6V1106M1179 1091V1097.6M1189 1097.6V1106M1193 1091V1106M1203 1086V1097.6M1203 1106V1121.5M1207 1091V1097.6M1227 1106V1121.5M1229 1086V1091M1231 1074V1076M1231 1086V1091M1233 1091V1097.6M1239 1091V1097.6M1243 1106V1121.5M1253 1097.6V1106M1257 1106V1121.5M1265 1097.6V1106M1279 1097.6V1106M1281 1106V1121.5M1287 1106V1121.5M1291 1097.6V1106M1307 1106V1121.5M1321 1091V1097.6M1321 1106V1121.5M1327 1106V1121.5M1331 1097.6V1106M1343 1106V1121.5M1353 1074V1076M1359 1097.6V1106M1361 1091V1097.6M1363 1082V1086M1369 1080V1082M1375 1068V1070M1375 1078V1080M1381 1080V1082M1383 1086V1091M1395 1086V1091M1405 1097.6V1106M1425 1097.6V1106M1427 1097.6V1106M1435 1091V1097.6"/>
<path stroke="#00e5ff" stroke-width="2" d="M724 1097.6V1106M748 1097.6V1106M772 1097.6V1106M1013 1097.6V1106M1061 1091V1097.6M1079 1106V1121.5M1125 1097.6V1106M1137 1106V1121.5M1149 1097.6V1106M1163 1091V1097.6M1163 1106V1121.5M1167 1106V1121.5M1179 1106V1121.5M1201 1091V1097.6M1209 1097.6V1106M1211 1106V1121.5M1231 1082V1086M1245 1106V1121.5M1247 1097.6V1106M1259 1097.6V1106M1285 1091V1097.6M1285 1106V1121.5M1287 1091V1097.6M1297 1091V1097.6M1305 1097.6V1121.5M1307 1097.6V1106M1313 1097.6V1106M1325 1097.6V1106M1339 1091V1097.6M1343 1091V1097.6M1351 1091V1097.6M1353 1082V1086M1355 1086V1091M1359 1106V1121.5M1361 1106V1121.5M1363 1091V1097.6M1365 1106V1121.5M1381 1086V1091M1387 1097.6V1106M1391 1086V1091M1393 1074V1076M1393 1086V1091M1413 1097.6V1106M1417 1091V1097.6M1421 1097.6V1106M1429 1106V1121.5M1435 1106V1121.5"/>
<path stroke="#0099ff" stroke-width="2" d="M730 1106V1121.5M738 1097.6V1106M742 1097.6V1106M748 1091V1097.6M752 1097.6V1106M764 1106V1121.5M768 1097.6V1106M885 1091V1097.6M887 1106V1121.5M891 1091V1097.6M893 1097.6V1106M929 1086V1091M931 1091V1097.6M943 1091V1097.6M947 1086V1091M967 1106V1121.5M973 1106V1121.5M985 1091V1097.6M987 1097.6V1106M997 1091V1097.6M1003 1097.6V1106M1021 1106V1121.5M1031 1080V1091M1037 1106V1121.5M1061 1086V1091M1065 1091V1097.6M1067 1106V1121.5M1079 1091V1097.6M1081 1086V1097.6M1083 1091V1121.5M1087 1097.6V1106M1125 1106V1121.5M1127 1091V1097.6M1127 1106V1121.5M1131 1097.6V1106M1135 1106V1121.5M1149 1106V1121.5M1153 1091V1097.6M1155 1091V1097.6M1155 1106V1121.5M1165 1097.6V1106M1177 1097.6V1106M1183 1106V1121.5M1185 1097.6V1106M1205 1080V1082M1205 1086V1091M1225 1091V1097.6M1229 1106V1121.5M1233 1070V1072M1247 1091V1097.6M1249 1106V1121.5M1251 1086V1097.6M1261 1106V1121.5M1289 1106V1121.5M1293 1076V1078M1293 1082V1091M1295 1091V1097.6M1297 1106V1121.5M1315 1074V1076M1315 1082V1086M1321 1086V1091M1325 1086V1091M1329 1097.6V1106M1331 1091V1097.6M1349 1086V1091M1355 1082V1086M1357 1082V1086M1357 1091V1097.6M1359 1091V1097.6M1361 1086V1091M1363 1086V1091M1369 1070V1072M1371 1086V1091M1373 1086V1091M1375 1070V1072M1375 1076V1078M1381 1068V1070M1381 1074V1076M1393 1058V1060M1397 1091V1097.6M1397 1106V1121.5M1413 1091V1097.6M1413 1106V1121.5M1421 1091V1097.6M1439 1091V1097.6"/>
<path stroke="#00ffff" stroke-width="2" d="M758 1097.6V1106M915 1091V1097.6M925 1097.6V1121.5M929 1106V1121.5M937 1091V1097.6M937 1106V1121.5M957 1091V1097.6M985 1106V1121.5M1031 1106V1121.5M1065 1097.6V1106M1111 1097.6V1106M1121 1097.6V1106M1137 1091V1097.6M1143 1097.6V1106M1145 1106V1121.5M1163 1097.6V1106M1179 1097.6V1106M1225 1097.6V1106M1227 1097.6V1106M1231 1091V1097.6M1239 1106V1121.5M1241 1097.6V1121.5M1243 1091V1097.6M1251 1097.6V1121.5M1257 1091V1097.6M1293 1091V1097.6M1295 1097.6V1106M1299 1106V1121.5M1311 1097.6V1106M1315 1086V1091M1339 1106V1121.5M1345 1091V1097.6M1355 1091V1097.6M1371 1106V1121.5M1375 1086V1091M1395 1091V1097.6M1435 1097.6V1106"/>
<path stroke="#0080ff" stroke-width="1" d="M775.5 1106V1121.5"/>
<path stroke="#0099ff" stroke-width="1" d="M775.5 1097.6V1106"/>
<path stroke="#0066ff" stroke-width="1" d="M775.5 1091V1097.6M1440.5 1097.6V1106"/>
<path stroke="#0000ff" stroke-width="1" d="M775.5 1086V1091M1440.5 1080V1082"/>
<path stroke="#001aff" stroke-width="1" d="M775.5 1082V1086M1440.5 1074V1076"/>
<path stroke="#0000e6" stroke-width="1" d="M775.5 990V992M775.5 1050V1052M775.5 1066V1070M775.5 1072V1076M775.5 1078V1082M1440.5 1066V1068M1440.5 1070V1072M1440.5 1076V1080M1440.5 1082V1091"/>
<path stroke="#0000cc" stroke-width="1" d="M775.5 1052V1054M775.5 1056V1058M775.5 1060V1062M775.5 1064V1066M775.5 1070V1072M775.5 1076V1078M1440.5 1042V1044M1440.5 1048V1066M1440.5 1068V1070M1440.5 1072V1074"/>
<path stroke="#000099" stroke-width="1" d="M775.5 988V990M775.5 1006V1008M775.5 1010V1012M775.5 1028V1030M775.5 1046V1048M1440.5 990V992M1440.5 1006V1008M1440.5 1010V1012"/>
<path stroke="#b3ff4c" stroke-width="2" d="M915 1106V1121.5M1203 1097.6V1106M1315 1097.6V1106M1351 1106V1121.5M1367 1106V1121.5M1373 1106V1121.5M1381 1091V1097.6M1389 1097.6V1106"/>
<path stroke="#1affe5" stroke-width="2" d="M915 1097.6V1106M917 1091V1097.6M947 1091V1097.6M1031 1091V1097.6M1069 1097.6V1106M1079 1097.6V1106M1091 1091V1097.6M1111 1106V1121.5M1121 1106V1121.5M1153 1097.6V1106M1211 1097.6V1106M1233 1086V1091M1239 1097.6V1106M1245 1097.6V1106M1257 1097.6V1106M1285 1097.6V1106M1327 1097.6V1106M1345 1106V1121.5M1353 1086V1091M1371 1091V1106M1439 1106V1121.5"/>
<path stroke="#4dffb3" stroke-width="2" d="M917 1106V1121.5M931 1097.6V1106M979 1097.6V1106M1033 1091V1097.6M1065 1106V1121.5M1077 1097.6V1106M1081 1097.6V1121.5M1089 1097.6V1106M1127 1097.6V1106M1213 1097.6V1106M1267 1097.6V1106M1315 1091V1097.6M1323 1097.6V1106M1331 1106V1121.5M1345 1097.6V1106M1355 1106V1121.5M1367 1086V1091M1391 1097.6V1106M1439 1097.6V1106"/>
<path stroke="#80ff80" stroke-width="2" d="M917 1097.6V1106M947 1097.6V1106M957 1106V1121.5M1091 1106V1121.5M1207 1106V1121.5M1287 1097.6V1106M1315 1106V1121.5M1319 1097.6V1106M1341 1097.6V1106M1343 1097.6V1106M1357 1106V1121.5M1369 1097.6V1106M1393 1091V1097.6"/>
<path stroke="#33ffcc" stroke-width="2" d="M929 1097.6V1106M1033 1097.6V1106M1069 1106V1121.5M1075 1097.6V1106M1091 1097.6V1106M1153 1106V1121.5M1205 1097.6V1121.5M1207 1097.6V1106M1213 1106V1121.5M1243 1097.6V1106M1267 1106V1121.5M1289 1097.6V1106M1297 1097.6V1106M1325 1106V1121.5M1349 1097.6V1106M1367 1091V1097.6M1373 1091V1097.6M1375 1091V1097.6M1377 1091V1097.6M1377 1106V1121.5M1383 1106V1121.5M1389 1091V1097.6M1417 1097.6V1121.5M1419 1097.6V1106M1429 1097.6V1106"/>
<path stroke="#66ff99" stroke-width="2" d="M931 1106V1121.5M937 1097.6V1106M957 1097.6V1106M979 1106V1121.5M1033 1106V1121.5M1233 1106V1121.5M1293 1106V1121.5M1321 1097.6V1106M1339 1097.6V1106M1341 1106V1121.5M1351 1097.6V1106M1353 1091V1097.6M1361 1097.6V1106M1369 1091V1097.6M1383 1091V1097.6M1389 1106V1121.5M1395 1106V1121.5"/>
<path stroke="#e5ff1a" stroke-width="2" d="M947 1106V1121.5M1061 1097.6V1106M1229 1097.6V1106M1363 1106V1121.5M1367 1097.6V1106M1383 1097.6V1106"/>
<path stroke="#ffff00" stroke-width="2" d="M1031 1097.6V1106M1369 1106V1121.5M1373 1097.6V1106M1381 1097.6V1106"/>
<path stroke="#99ff66" stroke-width="2" d="M1229 1091V1097.6M1231 1097.6V1121.5M1293 1097.6V1106M1375 1106V1121.5M1377 1097.6V1106"/>
<path stroke="#ff6600" stroke-width="2" d="M1233 1097.6V1106"/>
<path stroke="#ccff33" stroke-width="2" d="M1349 1106V1121.5M1353 1106V1121.5M1357 1097.6V1106"/>
<path stroke="#ffcc00" stroke-width="2" d="M1353 1097.6V1106"/>
<path stroke="#ffe500" stroke-width="2" d="M1355 1097.6V1106M1363 1097.6V1106M1375 1097.6V1106M1393 1106V1121.5"/>
<path stroke="#ff9900" stroke-width="2" d="M1381 1106V1121.5"/>
<path stroke="#ffb300" stroke-width="2" d="M1393 1097.6V1106"/>
<path stroke="#0033ff" stroke-width="1" d="M1440.5 1091V1097.6M1440.5 1106V1121.5"/>
<rect x="260.5" y="969.5" width="1550.0" height="153.0" stroke="#000" stroke-width="1.1" fill="none"/>
<text x="235" y="1005.0" text-anchor="end" font-size="28.5">10</text>
<text x="236.5" y="988.2" font-size="19">-1</text>
<text x="235" y="1056.0" text-anchor="end" font-size="28.5">10</text>
<text x="236.5" y="1039.2" font-size="19">0</text>
<text x="235" y="1107.0" text-anchor="end" font-size="28.5">10</text>
<text x="236.5" y="1090.2" font-size="19">1</text>
<clipPath id="mc"><rect x="260.5" y="1133.5" width="1550.0" height="222.0"/></clipPath>
<path d="M265 1179.5H1810.5M265 1244.5H1810.5M265 1309.5H1810.5" stroke="#000" stroke-width="1" stroke-dasharray="1 4" fill="none"/>
<path d="M441.5 1134V1355.5M623.5 1134V1355.5M908.5 1134V1355.5M1089.5 1134V1355.5M1269.5 1134V1355.5M1449.5 1134V1355.5M1629.5 1134V1355.5" stroke="#000" stroke-width="1" stroke-dasharray="1 4" fill="none"/>
<g clip-path="url(#mc)">
<path d="M620.5 1308.8 L622.8 1309.2 L626.2 1317.4 L624.9 1318.0 L621.5 1312.6ZM610.0 1333.6 L612.7 1333.6 L623.5 1341.7 L622.8 1343.7 L620.8 1343.1 L611.3 1335.6ZM666.1 1320.7 L669.5 1318.7 L671.5 1322.1 L668.2 1323.7ZM672.2 1317.4 L677.6 1315.3 L677.9 1317.0 L672.9 1318.3ZM707.4 1302.1 L715.5 1304.2 L714.8 1305.6 L708.1 1303.8ZM762.9 1147.6 L768.3 1146.0 L768.5 1147.3 L763.5 1148.7ZM771.7 1148.9 L775.0 1150.3 L778.0 1153.3M534.5 1252.4 L536.3 1252.4 L536.3 1253.8 L534.5 1253.8ZM778.0 1150.3 L782.1 1152.3 L786.1 1156.4 L787.5 1159.1 L783.4 1161.4 L780.7 1159.1 L779.4 1154.4ZM808.4 1320.1 L810.5 1320.7 L810.5 1322.8 L808.8 1322.1ZM970.1 1134.1 L976.9 1138.1 L981.6 1141.5 L979.6 1143.5 L974.2 1139.5M986.3 1134.1 L994.5 1140.8 L999.9 1148.9 L998.5 1156.4 L1008.0 1163.1 L1016.1 1167.2 L1021.5 1170.6 L1029.6 1174.6 L1038.0 1176.0M1032.3 1134.1 L1031.7 1140.8 L1034.4 1148.9 L1038.0 1158.4M1038.0 1173.3 L1043.4 1173.0 L1048.8 1176.0 L1054.2 1181.4 L1061.0 1184.4 L1069.1 1186.5 L1075.9 1188.4 L1082.6 1193.6 L1088.1 1197.9 L1092.1 1203.1 L1096.2 1207.1 L1101.6 1209.8 L1105.0 1213.2 L1108.3 1210.5 L1112.4 1206.4 L1116.5 1208.5 L1119.2 1216.6 L1119.2 1224.7 L1116.5 1232.8 L1111.1 1238.2 L1106.3 1243.6 L1104.6 1249.0 L1106.3 1254.5 L1108.6 1257.4 L1104.6 1261.0 L1101.9 1263.9 L1104.3 1269.3 L1108.3 1275.0 L1112.4 1280.4 L1115.1 1286.9 L1118.9 1292.3 L1122.1 1299.1 L1124.9 1307.2 L1132.7 1312.6 L1140.8 1317.0 L1146.5 1321.0 L1150.3 1327.8 L1150.3 1341.0 L1148.9 1354.6M1038.0 1158.4 L1044.8 1162.2 L1054.2 1162.5 L1062.4 1158.4 L1065.1 1150.3 L1078.6 1148.9 L1076.1 1158.4 L1073.4 1166.5 L1070.5 1174.6 L1077.2 1176.0 L1088.3 1174.6 L1093.5 1180.3 L1093.5 1186.8 L1092.1 1192.5 L1091.4 1200.3 L1094.8 1205.8 L1100.2 1208.5 L1105.6 1211.2 L1109.7 1207.1 L1112.4 1203.1 L1119.2 1200.3 L1125.9 1197.6 L1132.7 1195.2 L1140.8 1193.6 L1146.2 1193.6 L1151.6 1196.3 L1157.0 1199.0 L1165.2 1199.3 L1173.3 1199.0 L1184.1 1197.4 L1189.2 1199.3 L1190.9 1207.1 L1200.3 1211.2 L1209.8 1217.9 L1216.6 1217.9 L1227.4 1224.7 L1234.2 1228.8 L1237.1 1236.9 L1234.2 1242.3 L1232.8 1249.0 L1238.2 1246.3 L1242.3 1247.7 L1246.3 1249.0 L1253.1 1249.3 L1261.2 1254.5 L1270.7 1254.7 L1280.2 1256.1 L1288.3 1261.2 L1298.0 1266.6M1298.0 1286.9 L1292.3 1295.0 L1286.9 1303.4 L1285.6 1310.2 L1284.2 1322.1 L1280.2 1332.9 L1273.4 1342.1 L1265.3 1345.4 L1254.5 1351.9 L1249.0 1354.6M1088.1 1147.6 L1096.2 1143.5 L1105.6 1140.8 L1112.4 1143.5 L1121.9 1148.9 L1132.7 1154.6 L1127.3 1157.3 L1119.2 1156.0 L1111.1 1150.6 L1101.6 1146.5 L1092.1 1148.4ZM1138.1 1157.1 L1146.2 1155.7 L1153.0 1158.4 L1158.7 1163.8 L1146.2 1166.8 L1138.4 1164.1ZM1116.5 1164.1 L1121.9 1163.3 L1124.9 1165.8 L1119.2 1166.8ZM1163.8 1163.8 L1170.6 1163.8 L1170.0 1166.0 L1164.4 1166.0ZM1113.8 1134.1 L1117.8 1136.1 L1119.2 1138.8M1130.0 1136.8 L1132.7 1142.2 L1135.4 1146.2M1136.8 1147.6 L1144.9 1148.3M1100.2 1134.1 L1102.9 1135.7M1058.3 1245.0 L1061.0 1245.0 L1061.7 1248.4 L1059.0 1248.4ZM1186.1 1172.6 L1188.8 1172.6 L1188.4 1174.6 L1186.4 1174.6ZM1189.5 1179.4 L1191.5 1179.4 L1191.1 1181.1 L1189.8 1181.1ZM1143.5 1200.3 L1146.2 1200.3 L1146.9 1205.8 L1144.2 1205.8ZM1388.6 1134.1 L1384.6 1138.1 L1381.9 1142.2 L1379.4 1150.3 L1382.6 1157.1 L1383.5 1167.9 L1380.5 1174.6 L1378.5 1180.1 L1380.5 1190.9 L1385.9 1194.9 L1392.7 1201.7 L1396.8 1209.8 L1406.2 1216.6 L1414.3 1222.0 L1420.4 1226.3 L1433.3 1222.0 L1444.1 1223.3 L1453.6 1219.3 L1467.1 1215.9 L1473.2 1217.7 L1476.6 1224.7 L1490.1 1226.0 L1495.5 1231.7 L1493.5 1242.3 L1491.5 1250.4 L1500.9 1262.6 L1507.7 1272.0 L1511.5 1285.6 L1512.4 1296.4 L1507.7 1301.8 L1503.6 1319.4 L1509.0 1330.2 L1515.5 1343.7 L1516.1 1354.6M1298.0 1265.3 L1302.7 1272.0 L1303.4 1277.5 L1302.1 1283.5 L1298.0 1289.6M1510.1 1182.8 L1515.1 1184.8 L1518.8 1187.5 L1514.5 1189.8 L1512.0 1186.8ZM1603.4 1134.1 L1606.1 1140.8 L1612.9 1146.2 L1614.5 1159.8 L1619.6 1166.5 L1623.7 1173.3 L1630.5 1181.4 L1638.6 1188.2 L1641.3 1196.3 L1645.3 1199.7 L1657.5 1196.3 L1671.0 1193.3 L1674.0 1196.3 L1672.4 1204.4 L1669.7 1208.5 L1665.6 1213.9 L1664.3 1219.3 L1657.5 1227.4 L1646.7 1235.5 L1638.6 1242.3 L1633.2 1250.4 L1626.4 1254.7 L1621.0 1269.3 L1623.7 1276.1 L1624.0 1286.9 L1628.8 1289.9 L1629.1 1309.9 L1625.1 1315.3 L1615.6 1319.7 L1602.3 1334.3 L1606.1 1341.3 L1606.1 1354.6M1612.9 1134.1 L1619.6 1140.8 L1621.3 1151.6 L1629.1 1159.8 L1635.9 1171.9 L1638.6 1181.4 L1640.2 1189.8 L1649.4 1187.5 L1660.2 1184.1 L1671.0 1178.7 L1679.2 1173.6 L1687.3 1170.6 L1694.0 1166.5 L1700.8 1160.0 L1704.9 1154.4 L1711.4 1146.0 L1707.6 1141.1 L1700.8 1137.0 L1695.4 1134.1M1681.9 1189.3 L1688.0 1189.5 L1688.4 1191.1 L1682.5 1191.1ZM1673.8 1135.4 L1677.8 1137.8 L1687.3 1137.4 L1688.6 1134.1M1741.4 1134.1 L1750.9 1143.5 L1756.3 1143.5 L1754.9 1148.9 L1760.3 1153.3 L1764.7 1146.2 L1765.7 1157.1 L1768.5 1170.6 L1775.2 1184.1 L1782.0 1200.3 L1785.0 1208.7 L1787.7 1209.8 L1792.8 1204.4 L1795.8 1200.3 L1798.5 1190.9 L1799.6 1177.3 L1806.3 1173.6 L1812.0 1169.2M1796.9 1203.1 L1799.6 1201.4 L1802.5 1206.0 L1806.3 1214.1 L1802.5 1217.9 L1797.1 1219.3 L1795.5 1211.2ZM1664.3 1296.7 L1667.3 1297.7 L1670.0 1305.9 L1671.3 1311.5 L1668.3 1315.6 L1665.6 1325.1 L1660.2 1341.0 L1656.2 1362.7 L1640.6 1362.7 L1638.9 1341.3 L1642.9 1332.9 L1644.3 1323.7 L1641.6 1318.3 L1644.3 1314.3 L1655.1 1310.2 L1660.2 1303.4ZM1589.9 1245.0 L1599.3 1243.4 L1600.0 1246.3 L1596.6 1253.8 L1590.6 1255.8ZM1577.7 1258.5 L1579.7 1259.2 L1587.2 1280.2 L1585.1 1281.8 L1578.0 1266.6ZM1599.6 1285.6 L1601.4 1286.9 L1605.4 1307.2 L1604.1 1307.5 L1600.0 1297.7ZM1690.3 1336.3 L1693.4 1336.3 L1693.8 1338.3 L1690.7 1338.3ZM1699.5 1332.2 L1701.5 1332.2 L1701.5 1334.3 L1699.5 1334.3ZM258.0 1169.5 L260.4 1168.0 L266.0 1164.0 L270.8 1159.2 L276.4 1156.0 L277.2 1152.0 L279.6 1148.0 L282.0 1146.8 L284.4 1149.2 L290.8 1148.4 L296.8 1143.6 L299.6 1151.2 L303.6 1155.2 L306.8 1158.4 L309.2 1162.4 L310.0 1169.6 L309.2 1173.6 L312.4 1176.0 L315.6 1175.2 L320.4 1171.2 L322.8 1172.8 L324.4 1179.2 L326.8 1186.4 L327.6 1192.8 L326.8 1199.2 L326.4 1205.6 L328.4 1212.0 L333.2 1216.8 L335.6 1224.0 L337.2 1230.4 L339.6 1233.6 L346.0 1236.8 L351.6 1237.6M351.6 1237.6 L348.4 1230.4 L348.4 1222.4 L341.2 1216.0 L334.8 1212.0 L329.5 1207.0 L328.4 1198.4 L332.4 1193.6 L334.8 1186.4 L336.4 1185.6 L338.8 1188.0 L342.8 1191.2 L346.0 1196.0 L350.8 1197.6 L354.8 1201.6 L354.8 1206.4 L358.8 1204.0 L362.0 1199.2 L373.2 1194.4 L373.2 1180.0 L370.0 1176.8 L363.6 1168.8 L358.0 1161.6 L358.8 1156.8 L363.6 1152.0 L370.8 1147.6 L374.8 1149.6 L376.4 1153.6 L378.8 1150.4 L386.0 1148.0 L392.4 1144.0 L400.4 1142.4 L406.0 1140.0 L410.8 1135.2 L414.8 1133.6M370.8 1157.6 L374.0 1155.2 L379.6 1155.2 L380.4 1158.4 L377.2 1163.2 L372.4 1164.0 L370.8 1160.8ZM420.4 1140.0 L424.0 1135.0 L428.4 1134.4 L426.8 1141.6 L423.6 1147.2 L420.4 1144.0ZM421.2 1163.2 L430.0 1163.2 L430.8 1169.6 L430.0 1172.8 L426.0 1177.6 L429.0 1181.0 L434.0 1184.0 L438.0 1188.0 L441.5 1192.0 L444.0 1196.0 L446.5 1201.0 L447.0 1206.0 L443.0 1207.5 L440.0 1204.0 L436.0 1202.0 L433.0 1198.0 L429.0 1196.0 L426.0 1193.0 L423.6 1191.2 L422.0 1186.4 L419.6 1180.0 L418.8 1173.6 L419.6 1165.6ZM428.0 1192.0 L432.0 1190.0 L434.0 1195.0 L430.0 1197.0ZM436.0 1193.0 L440.0 1195.0 L439.0 1199.0 L436.0 1198.0ZM436.4 1213.6 L438.0 1218.4 L442.8 1220.0 L447.6 1215.2 L446.0 1208.8 L441.0 1209.0ZM407.6 1207.2 L418.8 1196.0 L419.8 1197.2 L408.6 1208.4ZM301.2 1187.2 L303.6 1186.8 L304.4 1193.6 L302.0 1194.0ZM315.6 1232.8 L318.8 1233.6 L318.5 1234.6 L315.6 1233.8ZM321.2 1237.6 L324.0 1238.5 L325.2 1241.6 L322.5 1240.5ZM328.5 1248.5 L330.5 1248.5 L331.0 1252.0 L329.0 1252.0ZM313.2 1220.0 L315.6 1219.2 L322.8 1220.8 L327.6 1225.6 L334.0 1229.8 L338.0 1234.6 L346.0 1237.8 L349.2 1244.2 L354.0 1249.8 L358.8 1250.6 L361.2 1255.4 L358.8 1258.6 L359.6 1265.0 L358.0 1268.2 L354.0 1269.0 L349.2 1265.0 L342.8 1258.6 L337.2 1253.0 L334.8 1245.8 L330.0 1241.0 L326.8 1235.4 L322.0 1229.8 L318.8 1226.4 L314.0 1221.6ZM367.5 1255.5 L369.5 1255.5 L369.5 1257.5 L367.5 1257.5ZM357.2 1269.8 L362.0 1269.0 L368.4 1270.6 L378.0 1272.2 L386.0 1273.0 L392.4 1274.6 L395.6 1279.4 L402.0 1280.2 L410.0 1281.0 L418.0 1280.2 L426.0 1281.0 L434.0 1280.2 L422.8 1282.6 L414.0 1282.6 L404.4 1283.4 L394.0 1281.0 L386.0 1279.4 L378.0 1279.4 L370.0 1276.2 L362.0 1275.4 L357.2 1272.2ZM416.4 1284.2 L420.0 1285.0 L423.6 1288.2 L419.0 1287.5ZM434.0 1289.0 L438.8 1284.2 L446.0 1279.4 L448.4 1277.0 L450.0 1281.0 L443.6 1284.2 L437.2 1288.2ZM371.6 1237.0 L381.2 1236.2 L382.8 1231.4 L390.0 1228.2 L394.0 1225.0 L398.0 1222.4 L407.6 1214.4 L416.4 1221.6 L412.4 1225.6 L409.2 1231.2 L412.4 1238.4 L410.0 1242.6 L407.6 1249.8 L405.2 1253.8 L403.6 1258.6 L397.2 1261.8 L392.4 1258.6 L384.4 1258.6 L378.0 1256.2 L377.2 1249.8 L373.2 1245.8 L371.6 1241.0ZM419.6 1241.8 L424.4 1238.6 L434.0 1239.4 L442.0 1237.8 L440.4 1241.0 L434.0 1241.8 L424.4 1243.4 L421.2 1248.2 L432.4 1247.4 L426.0 1251.4 L424.4 1255.4 L429.2 1261.0 L432.4 1265.8 L430.0 1268.2 L426.0 1262.6 L422.8 1257.0 L419.6 1261.8 L419.6 1268.2 L416.4 1268.2 L417.2 1258.6 L414.8 1257.0 L418.0 1247.4ZM452.4 1235.2 L455.6 1237.6 L456.4 1244.0 L454.0 1248.8 L451.6 1240.0ZM447.0 1258.0 L450.0 1258.0 L450.0 1261.0 L447.0 1261.0ZM454.4 1257.0 L466.4 1258.5 L466.4 1261.0 L454.4 1260.0ZM480.0 1267.5 L482.0 1267.5 L481.0 1273.0 L479.5 1272.0ZM467.5 1275.5 L470.0 1275.5 L469.0 1279.0 L467.5 1278.5ZM440.0 1285.0 L445.0 1281.0 L451.2 1279.4 L449.0 1283.0 L442.0 1286.0ZM464.0 1245.0 L473.6 1245.0 L480.0 1248.2 L481.6 1254.6 L485.6 1257.8 L488.8 1254.6 L496.0 1250.6 L504.0 1253.0 L512.0 1256.2 L520.0 1258.6 L526.4 1261.8 L530.4 1266.6 L536.0 1269.0 L544.0 1269.0 L550.4 1267.4 L555.2 1265.0 L557.6 1262.6 L556.0 1266.0 L550.0 1270.0 L542.0 1271.5 L537.6 1271.4 L536.8 1273.8 L540.8 1279.4 L544.0 1283.4 L548.8 1285.8 L551.2 1289.0 L547.2 1289.0 L541.6 1289.0 L537.6 1287.4 L532.8 1283.4 L528.8 1278.6 L524.8 1276.2 L520.0 1280.2 L516.8 1285.0 L512.0 1284.2 L508.0 1282.6 L502.4 1278.6 L496.0 1280.2 L500.0 1276.2 L499.2 1271.4 L496.0 1266.6 L488.0 1264.2 L480.0 1261.8 L474.4 1259.4 L472.0 1255.4 L466.4 1247.4ZM552.8 1255.4 L560.0 1259.4 L562.4 1264.2 L557.6 1267.4 L554.4 1269.8 L557.6 1263.4 L555.2 1258.6ZM568.8 1267.4 L576.0 1273.0 L580.8 1275.4 L579.0 1277.0 L572.0 1273.0 L568.0 1270.0ZM586.4 1277.0 L596.0 1282.6 L600.0 1287.4 L598.0 1289.0 L592.0 1284.0 L586.0 1279.0ZM487.0 1247.5 L490.0 1247.5 L490.0 1250.0 L487.0 1250.0ZM534.5 1252.5 L536.5 1252.5 L536.5 1254.0 L534.5 1254.0ZM391.5 1357.0 L391.8 1349.0 L392.4 1345.0 L396.4 1339.4 L403.6 1334.6 L414.0 1331.4 L422.8 1329.8 L428.4 1324.2 L430.0 1318.6 L435.6 1315.4 L439.6 1311.4 L442.0 1307.4 L444.8 1305.8 L448.4 1304.2 L452.0 1305.0 L456.0 1310.6 L460.8 1309.0 L464.0 1301.8 L465.6 1298.6 L464.0 1294.6 L468.8 1293.8 L473.6 1294.6 L480.0 1297.0 L488.0 1297.0 L492.8 1298.6 L488.8 1301.8 L488.0 1309.0 L490.4 1313.0 L497.6 1317.0 L505.6 1322.6 L510.4 1319.4 L512.0 1313.0 L512.8 1305.0 L513.6 1293.8 L516.8 1291.4 L519.2 1293.8 L520.0 1300.2 L522.4 1305.8 L527.2 1309.0 L528.8 1313.0 L531.2 1321.0 L532.8 1326.6 L538.4 1329.0 L543.2 1333.8 L548.0 1341.0 L552.0 1345.0 L556.0 1351.4 L559.2 1357.0" stroke="#000" stroke-width="2" fill="none" stroke-linejoin="round"/>
</g>
<path d="M260.5 1179.5h16.5M1810.5 1179.5h-16.5M260.5 1244.5h16.5M1810.5 1244.5h-16.5M260.5 1309.5h16.5M1810.5 1309.5h-16.5M441.5 1355.5v-16M441.5 1133.5v16M623.5 1355.5v-16M623.5 1133.5v16M908.5 1355.5v-16M908.5 1133.5v16M1089.5 1355.5v-16M1089.5 1133.5v16M1269.5 1355.5v-16M1269.5 1133.5v16M1449.5 1355.5v-16M1449.5 1133.5v16M1629.5 1355.5v-16M1629.5 1133.5v16" stroke="#000" stroke-width="1"/>
<path d="M260.5 1210.8 L264.1 1210.8 L268.5 1210.7 L274.0 1210.7 L280.9 1210.6 L289.5 1210.6 L300.0 1210.5 L313.5 1210.4 L330.0 1210.3 L348.1 1210.2 L366.6 1210.1 L384.4 1210.0 L400.0 1210.0 L413.7 1210.0 L426.4 1210.0 L438.2 1210.1 L449.4 1210.1 L460.0 1210.2 L470.0 1210.2 L479.5 1210.2 L488.4 1210.3 L496.7 1210.4 L504.4 1210.4 L511.5 1210.5 L518.0 1210.5 L523.6 1210.4 L528.1 1210.3 L532.0 1210.1 L535.8 1210.1 L540.0 1210.2 L545.0 1210.5 L551.0 1211.2 L557.6 1212.2 L564.6 1213.3 L571.8 1214.5 L578.8 1215.6 L585.6 1216.6 L592.0 1217.3 L598.2 1217.9 L604.4 1218.5 L610.6 1219.0 L616.9 1219.7 L623.5 1220.6 L630.3 1221.7 L637.1 1223.0 L644.1 1224.4 L651.4 1225.8 L658.9 1227.3 L666.8 1228.8 L675.4 1230.4 L684.8 1232.0 L694.4 1233.7 L704.0 1235.4 L712.9 1236.9 L720.9 1238.2 L727.8 1239.3 L734.1 1240.2 L739.7 1241.0 L745.0 1241.7 L749.9 1242.4 L754.7 1243.0 L758.0 1243.4 L759.3 1243.5 L760.3 1243.5 L762.7 1243.7 L768.1 1244.3 L778.0 1245.5 L793.5 1247.4 L813.4 1249.7 L836.3 1252.4 L860.6 1255.5 L885.0 1258.6 L907.9 1261.9 L930.5 1265.5 L954.2 1269.5 L977.9 1273.7 L1000.5 1277.8 L1020.9 1281.5 L1038.0 1284.5 L1051.3 1286.7 L1061.7 1288.3 L1069.8 1289.5 L1076.6 1290.5 L1082.8 1291.3 L1089.4 1292.3 L1096.2 1293.3 L1102.5 1294.3 L1108.4 1295.1 L1113.6 1295.9 L1118.1 1296.6 L1121.9 1297.1 L1124.0 1297.7 L1124.4 1298.3 L1124.0 1298.8 L1124.1 1299.0 L1125.7 1298.7 L1130.0 1297.7 L1137.7 1295.8 L1148.2 1293.3 L1160.2 1290.2 L1172.6 1286.8 L1184.1 1283.4 L1193.6 1280.2 L1201.0 1277.1 L1207.3 1273.8 L1212.8 1270.5 L1217.7 1267.2 L1222.5 1264.1 L1227.4 1261.2 L1232.1 1258.7 L1236.3 1256.5 L1240.3 1254.5 L1244.5 1252.5 L1249.1 1250.3 L1254.5 1247.7 L1261.0 1244.7 L1268.4 1241.3 L1276.3 1237.7 L1284.1 1234.1 L1291.5 1230.7 L1298.0 1227.7 L1303.4 1225.0 L1308.0 1222.4 L1312.1 1220.1 L1316.1 1217.8 L1320.3 1215.8 L1325.0 1213.9 L1330.3 1212.2 L1336.0 1210.7 L1342.0 1209.4 L1347.9 1208.2 L1353.6 1207.0 L1358.9 1205.8 L1363.7 1204.5 L1368.2 1203.3 L1372.4 1202.1 L1376.6 1200.9 L1381.1 1199.9 L1385.9 1199.0 L1391.2 1198.3 L1396.7 1197.7 L1402.4 1197.3 L1408.3 1197.0 L1414.1 1196.6 L1419.8 1196.3 L1425.3 1196.0 L1430.6 1195.6 L1435.9 1195.3 L1441.3 1195.1 L1447.2 1194.9 L1453.6 1194.9 L1460.6 1195.0 L1468.0 1195.2 L1475.8 1195.4 L1483.9 1195.8 L1492.3 1196.3 L1500.9 1197.0 L1509.6 1197.9 L1518.5 1198.9 L1527.7 1200.1 L1537.3 1201.3 L1547.3 1202.6 L1558.0 1203.7 L1570.0 1204.8 L1583.5 1205.9 L1597.5 1207.0 L1611.0 1208.0 L1623.2 1209.0 L1633.2 1209.8 L1640.3 1210.5 L1645.3 1211.0 L1648.9 1211.5 L1652.0 1211.9 L1655.5 1212.2 L1660.2 1212.5 L1666.0 1212.7 L1672.2 1212.9 L1678.8 1213.1 L1685.8 1213.1 L1693.1 1213.2 L1700.8 1213.2 L1709.0 1213.2 L1717.8 1213.1 L1726.9 1213.1 L1736.3 1212.9 L1745.6 1212.7 L1754.9 1212.5 L1764.7 1212.1 L1775.4 1211.6 L1786.1 1211.1 L1796.0 1210.6 L1804.4 1210.1 L1810.5 1209.8" stroke="#1fe81f" stroke-width="5.2" fill="none" stroke-linejoin="round"/>
<path d="M260.5 1289.5 L262.4 1289.7 L264.6 1290.0 L267.2 1290.4 L269.9 1290.8 L273.0 1291.2 L276.2 1291.6 L279.7 1292.1 L283.3 1292.6 L287.0 1293.1 L290.9 1293.6 L294.8 1294.1 L298.8 1294.6 L302.9 1295.1 L306.9 1295.6 L311.0 1296.1 L315.0 1296.5 L318.9 1297.0 L322.7 1297.4 L326.4 1297.7 L330.0 1298.0 L333.5 1298.3 L337.0 1298.5 L340.6 1298.7 L344.1 1298.9 L347.7 1299.1 L351.3 1299.3 L354.9 1299.5 L358.4 1299.6 L362.0 1299.8 L365.6 1299.9 L369.2 1300.0 L372.7 1300.1 L376.2 1300.2 L379.7 1300.2 L383.2 1300.3 L386.6 1300.4 L390.0 1300.4 L393.4 1300.4 L396.7 1300.5 L400.0 1300.5 L403.2 1300.5 L406.4 1300.5 L409.6 1300.5 L412.7 1300.5 L415.8 1300.5 L418.8 1300.4 L421.8 1300.4 L424.8 1300.3 L427.8 1300.2 L430.8 1300.2 L433.7 1300.1 L436.6 1300.0 L439.5 1299.9 L442.5 1299.8 L445.4 1299.6 L448.3 1299.5 L451.2 1299.4 L454.1 1299.3 L457.1 1299.1 L460.0 1299.0 L462.9 1298.9 L465.8 1298.7 L468.6 1298.6 L471.4 1298.5 L474.1 1298.4 L476.8 1298.2 L479.5 1298.1 L482.2 1297.9 L484.9 1297.8 L487.7 1297.6 L490.4 1297.4 L493.2 1297.3 L496.1 1297.1 L499.0 1296.8 L501.9 1296.6 L504.9 1296.3 L508.1 1296.0 L511.3 1295.7 L514.6 1295.4 L518.0 1295.0 L521.6 1294.6 L525.3 1294.2 L529.2 1293.7 L533.2 1293.2 L537.3 1292.7 L541.5 1292.1 L545.8 1291.6 L550.1 1291.0 L554.5 1290.4 L558.8 1289.8 L563.2 1289.2 L567.6 1288.6 L571.9 1287.9 L576.1 1287.3 L580.3 1286.6 L584.3 1286.0 L588.3 1285.4 L592.1 1284.7 L595.7 1284.1 L599.2 1283.5 L602.5 1282.9 L605.7 1282.3 L608.8 1281.6 L611.7 1281.0 L614.6 1280.4 L617.3 1279.8 L620.0 1279.1 L622.7 1278.5 L625.2 1277.8 L627.8 1277.2 L630.3 1276.5 L632.8 1275.9 L635.3 1275.2 L637.7 1274.6 L640.2 1273.9 L642.7 1273.3 L645.3 1272.6 L647.9 1272.0 L650.6 1271.3 L653.3 1270.7 L656.1 1270.1 L658.8 1269.4 L661.6 1268.8 L664.3 1268.2 L667.1 1267.6 L669.8 1266.9 L672.6 1266.3 L675.3 1265.7 L678.1 1265.1 L680.9 1264.5 L683.7 1263.8 L686.5 1263.2 L689.4 1262.6 L692.2 1262.0 L695.1 1261.3 L698.0 1260.7 L701.0 1260.0 L703.9 1259.4 L707.0 1258.7 L710.0 1258.0 L713.2 1257.3 L716.5 1256.5 L720.0 1255.8 L723.7 1255.0 L727.4 1254.1 L731.2 1253.3 L735.0 1252.4 L738.9 1251.6 L742.7 1250.7 L746.5 1249.9 L750.3 1249.0 L753.9 1248.2 L757.4 1247.4 L760.8 1246.7 L763.9 1246.0 L766.9 1245.3 L769.6 1244.7 L772.0 1244.2 L774.2 1243.7 L776.0 1243.3" stroke="#cc1010" stroke-width="1" fill="none"/>
<path d="M884.0 1244.3 L885.8 1243.8 L887.8 1243.3 L890.1 1242.7 L892.6 1242.0 L895.3 1241.2 L898.3 1240.4 L901.3 1239.6 L904.6 1238.7 L908.0 1237.8 L911.5 1236.8 L915.1 1235.8 L918.8 1234.8 L922.6 1233.8 L926.5 1232.8 L930.4 1231.8 L934.3 1230.8 L938.3 1229.8 L942.2 1228.9 L946.1 1227.9 L950.0 1227.0 L954.0 1226.1 L958.1 1225.2 L962.4 1224.2 L966.8 1223.2 L971.4 1222.2 L976.1 1221.2 L980.8 1220.2 L985.6 1219.2 L990.4 1218.2 L995.2 1217.2 L999.9 1216.2 L1004.7 1215.2 L1009.3 1214.3 L1013.9 1213.3 L1018.3 1212.4 L1022.7 1211.6 L1026.8 1210.7 L1030.7 1209.9 L1034.5 1209.2 L1038.0 1208.5 L1041.3 1207.9 L1044.3 1207.3 L1047.2 1206.7 L1050.0 1206.2 L1052.5 1205.7 L1055.0 1205.3 L1057.3 1204.8 L1059.5 1204.4 L1061.7 1204.1 L1063.8 1203.7 L1065.8 1203.4 L1067.8 1203.0 L1069.9 1202.7 L1071.9 1202.4 L1073.9 1202.1 L1076.0 1201.7 L1078.2 1201.4 L1080.5 1201.0 L1082.8 1200.7 L1085.3 1200.3 L1087.9 1199.9 L1090.5 1199.5 L1093.1 1199.1 L1095.8 1198.7 L1098.5 1198.3 L1101.3 1197.9 L1104.0 1197.5 L1106.8 1197.1 L1109.6 1196.7 L1112.4 1196.4 L1115.2 1196.0 L1118.0 1195.6 L1120.8 1195.2 L1123.5 1194.9 L1126.3 1194.5 L1129.0 1194.2 L1131.7 1193.8 L1134.3 1193.5 L1136.9 1193.2 L1139.5 1192.9 L1142.0 1192.6 L1144.5 1192.3 L1146.9 1192.1 L1149.3 1191.8 L1151.7 1191.5 L1154.0 1191.3 L1156.3 1191.0 L1158.6 1190.8 L1160.9 1190.6 L1163.2 1190.4 L1165.4 1190.1 L1167.7 1189.9 L1170.0 1189.7 L1172.3 1189.6 L1174.7 1189.4 L1177.0 1189.2 L1179.4 1189.0 L1181.8 1188.9 L1184.3 1188.7 L1186.8 1188.6 L1189.3 1188.5 L1191.9 1188.4 L1194.5 1188.2 L1197.1 1188.1 L1199.8 1188.1 L1202.4 1188.0 L1205.1 1187.9 L1207.8 1187.8 L1210.5 1187.8 L1213.2 1187.7 L1216.0 1187.7 L1218.7 1187.6 L1221.5 1187.6 L1224.2 1187.6 L1227.0 1187.6 L1229.8 1187.5 L1232.6 1187.5 L1235.3 1187.5 L1238.1 1187.5 L1240.9 1187.5 L1243.6 1187.5 L1246.3 1187.5 L1249.0 1187.4 L1251.6 1187.4 L1254.2 1187.3 L1256.8 1187.3 L1259.4 1187.2 L1262.0 1187.2 L1264.6 1187.2 L1267.2 1187.2 L1269.9 1187.2 L1272.7 1187.2 L1275.5 1187.2 L1278.4 1187.3 L1281.4 1187.4 L1284.5 1187.5 L1287.7 1187.6 L1291.0 1187.8 L1294.4 1188.0 L1298.0 1188.3 L1301.8 1188.6 L1305.8 1189.0 L1309.9 1189.4 L1314.3 1189.8 L1318.8 1190.3 L1323.4 1190.8 L1328.1 1191.4 L1332.8 1191.9 L1337.7 1192.5 L1342.5 1193.1 L1347.4 1193.7 L1352.2 1194.3 L1357.0 1194.9 L1361.7 1195.6 L1366.3 1196.2 L1370.8 1196.8 L1375.2 1197.4 L1379.4 1197.9 L1383.5 1198.5 L1387.3 1199.0 L1390.9 1199.5 L1394.2 1199.9 L1397.3 1200.4 L1400.3 1200.7 L1403.1 1201.1 L1405.7 1201.5 L1408.3 1201.8 L1410.8 1202.2 L1413.2 1202.6 L1415.7 1202.9 L1418.2 1203.3 L1420.7 1203.7 L1423.3 1204.2 L1426.1 1204.6 L1429.0 1205.1 L1432.1 1205.7 L1435.4 1206.3 L1438.9 1207.0 L1442.7 1207.7 L1446.8 1208.5 L1451.2 1209.4 L1456.0 1210.3 L1461.0 1211.3 L1466.3 1212.4 L1471.8 1213.5 L1477.5 1214.7 L1483.3 1215.9 L1489.3 1217.2 L1495.3 1218.5 L1501.4 1219.8 L1507.5 1221.1 L1513.6 1222.4 L1519.7 1223.7 L1525.7 1225.0 L1531.5 1226.3 L1537.2 1227.6 L1542.8 1228.8 L1548.1 1230.0 L1553.2 1231.2 L1558.0 1232.3 L1562.6 1233.4 L1567.0 1234.4 L1571.2 1235.5 L1575.2 1236.5 L1579.2 1237.5 L1583.0 1238.5 L1586.7 1239.5 L1590.4 1240.4 L1594.0 1241.4 L1597.5 1242.4 L1601.0 1243.3 L1604.4 1244.2 L1607.9 1245.2 L1611.3 1246.1 L1614.8 1247.1 L1618.4 1248.0 L1621.9 1248.9 L1625.6 1249.9 L1629.3 1250.8 L1633.2 1251.8 L1637.1 1252.8 L1641.0 1253.7 L1644.9 1254.7 L1648.8 1255.6 L1652.7 1256.6 L1656.6 1257.5 L1660.5 1258.5 L1664.5 1259.4 L1668.5 1260.4 L1672.4 1261.3 L1676.4 1262.2 L1680.5 1263.2 L1684.6 1264.1 L1688.7 1265.1 L1692.8 1266.0 L1697.0 1266.9 L1701.3 1267.9 L1705.6 1268.8 L1709.9 1269.8 L1714.3 1270.7 L1718.9 1271.7 L1723.7 1272.7 L1728.8 1273.7 L1734.1 1274.8 L1739.5 1275.8 L1745.1 1276.9 L1750.7 1278.0 L1756.3 1279.1 L1761.9 1280.2 L1767.5 1281.3 L1772.9 1282.3 L1778.2 1283.3 L1783.3 1284.3 L1788.2 1285.2 L1792.9 1286.1 L1797.2 1286.9 L1801.1 1287.7 L1804.7 1288.4 L1807.8 1289.0 L1810.5 1289.5" stroke="#cc1010" stroke-width="1" fill="none"/>
<path d="M712.9 1265.1L723.1 1262.9L720.4 1250.5L710.2 1252.7ZM726.6 1262.2L736.7 1260.0L734.1 1247.5L723.9 1249.8ZM740.3 1259.2L750.4 1256.8L747.6 1244.4L737.5 1246.8ZM754.0 1256.0L764.1 1253.6L761.2 1241.2L751.1 1243.6ZM767.6 1252.7L777.7 1250.3L774.7 1238.0L764.6 1240.4Z" fill="#f01010"/>
<path d="M888.9 1249.4L898.9 1246.7L895.7 1234.4L885.7 1237.1ZM902.4 1245.7L912.5 1243.0L909.2 1230.8L899.1 1233.5ZM915.9 1242.1L926.0 1239.5L922.7 1227.2L912.6 1229.8ZM929.4 1238.6L939.5 1236.0L936.3 1223.7L926.2 1226.3ZM942.9 1235.2L953.0 1232.8L950.0 1220.5L939.9 1222.9ZM956.4 1232.1L966.5 1229.8L963.7 1217.4L953.6 1219.7ZM970.0 1229.1L980.1 1226.9L977.4 1214.5L967.3 1216.6ZM983.6 1226.1L993.8 1224.0L991.2 1211.6L981.0 1213.7ZM997.3 1223.3L1007.5 1221.1L1004.9 1208.7L994.7 1210.8ZM1010.9 1220.4L1021.1 1218.4L1018.6 1205.9L1008.4 1208.0ZM1024.6 1217.6L1034.8 1215.6L1032.3 1203.2L1022.1 1205.2ZM1038.3 1214.9L1048.5 1212.9L1046.0 1200.5L1035.8 1202.5ZM1052.0 1212.3L1062.2 1210.4L1059.9 1197.9L1049.6 1199.8ZM1065.6 1209.8L1075.9 1208.2L1073.8 1195.7L1063.5 1197.3ZM1079.3 1207.6L1089.6 1206.1L1087.7 1193.5L1077.4 1195.1ZM1093.1 1205.5L1103.4 1204.0L1101.5 1191.5L1091.2 1193.0ZM1106.9 1203.5L1117.2 1202.1L1115.4 1189.5L1105.1 1191.0ZM1120.7 1201.6L1131.0 1200.3L1129.3 1187.7L1119.0 1189.1ZM1134.5 1199.9L1144.8 1198.7L1143.3 1186.1L1133.0 1187.3ZM1148.3 1198.3L1158.7 1197.2L1157.3 1184.6L1146.9 1185.7ZM1162.1 1196.8L1172.5 1195.9L1171.3 1183.3L1160.9 1184.2ZM1175.9 1195.7L1186.3 1195.0L1185.4 1182.3L1175.0 1183.0ZM1189.7 1194.8L1200.1 1194.4L1199.5 1181.7L1189.1 1182.1ZM1203.6 1194.3L1213.9 1194.1L1213.6 1181.4L1203.2 1181.6ZM1217.4 1194.0L1227.8 1193.9L1227.7 1181.2L1217.3 1181.3ZM1231.4 1193.9L1241.8 1193.8L1241.7 1181.1L1231.3 1181.2ZM1245.3 1193.8L1255.7 1193.9L1255.7 1181.2L1245.3 1181.1ZM1259.2 1193.9L1269.6 1194.1L1269.8 1181.4L1259.4 1181.2ZM1273.2 1194.1L1283.6 1194.3L1283.8 1181.6L1273.4 1181.4ZM1287.1 1194.4L1296.9 1194.5L1297.1 1181.9L1287.4 1181.7Z" fill="#f01010"/>
<path d="M526.4 1177.0 L528.3 1182.5 L534.2 1182.7 L529.5 1186.2 L531.2 1191.8 L526.4 1188.5 L521.6 1191.8 L523.3 1186.2 L518.6 1182.7 L524.5 1182.5ZM623.9 1194.4 L625.8 1199.9 L631.7 1200.1 L627.0 1203.6 L628.7 1209.2 L623.9 1205.9 L619.1 1209.2 L620.8 1203.6 L616.1 1200.1 L622.0 1199.9ZM775.0 1226.2 L776.9 1231.7 L782.8 1231.9 L778.1 1235.4 L779.8 1241.0 L775.0 1237.7 L770.2 1241.0 L771.9 1235.4 L767.2 1231.9 L773.1 1231.7ZM1121.9 1287.7 L1123.8 1293.2 L1129.7 1293.4 L1125.0 1296.9 L1126.7 1302.5 L1121.9 1299.2 L1117.1 1302.5 L1118.8 1296.9 L1114.1 1293.4 L1120.0 1293.2ZM1262.6 1247.1 L1264.5 1252.6 L1270.4 1252.8 L1265.7 1256.3 L1267.4 1261.9 L1262.6 1258.6 L1257.8 1261.9 L1259.5 1256.3 L1254.8 1252.8 L1260.7 1252.6Z" stroke="#d020d0" stroke-width="1" fill="none"/>
<rect x="260.5" y="1133.5" width="1550.0" height="222.0" stroke="#000" stroke-width="1.1" fill="none"/>
<text x="186.92" y="1192.80" font-size="28.8" textLength="30.85" lengthAdjust="spacingAndGlyphs" xml:space="preserve" >15</text>
<text x="219.03" y="1179.60" font-size="21.3" textLength="12.71" lengthAdjust="spacingAndGlyphs" xml:space="preserve" >o</text>
<text x="231.66" y="1192.80" font-size="28.8" textLength="20.47" lengthAdjust="spacingAndGlyphs" xml:space="preserve" >N</text>
<text x="215.17" y="1257.60" font-size="28.8" textLength="14.33" lengthAdjust="spacingAndGlyphs" xml:space="preserve" >0</text>
<text x="231.48" y="1244.70" font-size="21.3" textLength="12.01" lengthAdjust="spacingAndGlyphs" xml:space="preserve" >o</text>
<text x="187.92" y="1323.00" font-size="28.8" textLength="30.85" lengthAdjust="spacingAndGlyphs" xml:space="preserve" >15</text>
<text x="220.25" y="1309.70" font-size="21.3" textLength="12.48" lengthAdjust="spacingAndGlyphs" xml:space="preserve" >o</text>
<text x="232.83" y="1323.00" font-size="28.8" textLength="18.79" lengthAdjust="spacingAndGlyphs" xml:space="preserve" >S</text>
<text x="215.56" y="1410.00" font-size="28.6" textLength="81.80" lengthAdjust="spacingAndGlyphs" xml:space="preserve" >GLON</text>
<text x="405.75" y="1410.00" font-size="28.6" textLength="70.50" lengthAdjust="spacingAndGlyphs" xml:space="preserve" >125.0</text>
<text x="587.75" y="1410.00" font-size="28.6" textLength="70.50" lengthAdjust="spacingAndGlyphs" xml:space="preserve" >167.2</text>
<text x="872.75" y="1410.00" font-size="28.6" textLength="70.50" lengthAdjust="spacingAndGlyphs" xml:space="preserve" >233.5</text>
<text x="1053.75" y="1410.00" font-size="28.6" textLength="70.50" lengthAdjust="spacingAndGlyphs" xml:space="preserve" >275.4</text>
<text x="1233.75" y="1410.00" font-size="28.6" textLength="70.50" lengthAdjust="spacingAndGlyphs" xml:space="preserve" >317.4</text>
<text x="1413.75" y="1410.00" font-size="28.6" textLength="70.50" lengthAdjust="spacingAndGlyphs" xml:space="preserve" >359.2</text>
<text x="1593.75" y="1410.00" font-size="28.6" textLength="70.50" lengthAdjust="spacingAndGlyphs" xml:space="preserve" >041.0</text>
<text x="1774.75" y="1410.00" font-size="28.6" textLength="70.50" lengthAdjust="spacingAndGlyphs" xml:space="preserve" >082.9</text>
<text x="218.55" y="1450.75" font-size="28.6" textLength="73.35" lengthAdjust="spacingAndGlyphs" xml:space="preserve" >GLAT</text>
<text x="408.89" y="1450.75" font-size="28.6" textLength="64.21" lengthAdjust="spacingAndGlyphs" xml:space="preserve" >-13.0</text>
<text x="590.89" y="1450.75" font-size="28.6" textLength="64.21" lengthAdjust="spacingAndGlyphs" xml:space="preserve" >-08.2</text>
<text x="872.36" y="1450.75" font-size="28.6" textLength="71.28" lengthAdjust="spacingAndGlyphs" xml:space="preserve" >+01.4</text>
<text x="1053.36" y="1450.75" font-size="28.6" textLength="71.28" lengthAdjust="spacingAndGlyphs" xml:space="preserve" >+10.2</text>
<text x="1233.36" y="1450.75" font-size="28.6" textLength="71.28" lengthAdjust="spacingAndGlyphs" xml:space="preserve" >+13.0</text>
<text x="1413.36" y="1450.75" font-size="28.6" textLength="71.28" lengthAdjust="spacingAndGlyphs" xml:space="preserve" >+08.3</text>
<text x="1596.89" y="1450.75" font-size="28.6" textLength="64.21" lengthAdjust="spacingAndGlyphs" xml:space="preserve" >-01.5</text>
<text x="1777.89" y="1450.75" font-size="28.6" textLength="64.21" lengthAdjust="spacingAndGlyphs" xml:space="preserve" >-10.3</text>
<text x="222.29" y="1491.50" font-size="28.6" textLength="74.12" lengthAdjust="spacingAndGlyphs" xml:space="preserve" >GALT</text>
<text x="421.40" y="1491.50" font-size="28.6" textLength="47.00" lengthAdjust="spacingAndGlyphs" xml:space="preserve" >428</text>
<text x="604.45" y="1491.50" font-size="28.6" textLength="44.91" lengthAdjust="spacingAndGlyphs" xml:space="preserve" >411</text>
<text x="888.40" y="1491.50" font-size="28.6" textLength="47.00" lengthAdjust="spacingAndGlyphs" xml:space="preserve" >512</text>
<text x="1069.40" y="1491.50" font-size="28.6" textLength="47.00" lengthAdjust="spacingAndGlyphs" xml:space="preserve" >676</text>
<text x="1249.40" y="1491.50" font-size="28.6" textLength="47.00" lengthAdjust="spacingAndGlyphs" xml:space="preserve" >804</text>
<text x="1429.40" y="1491.50" font-size="28.6" textLength="47.00" lengthAdjust="spacingAndGlyphs" xml:space="preserve" >821</text>
<text x="1610.45" y="1491.50" font-size="28.6" textLength="44.91" lengthAdjust="spacingAndGlyphs" xml:space="preserve" >711</text>
<text x="1790.40" y="1491.50" font-size="28.6" textLength="47.00" lengthAdjust="spacingAndGlyphs" xml:space="preserve" >546</text>
<text x="214.64" y="1532.50" font-size="28.6" textLength="82.70" lengthAdjust="spacingAndGlyphs" xml:space="preserve" >MLON</text>
<text x="405.75" y="1532.50" font-size="28.6" textLength="70.50" lengthAdjust="spacingAndGlyphs" xml:space="preserve" >196.2</text>
<text x="587.75" y="1532.50" font-size="28.6" textLength="70.50" lengthAdjust="spacingAndGlyphs" xml:space="preserve" >239.9</text>
<text x="872.75" y="1532.50" font-size="28.6" textLength="70.50" lengthAdjust="spacingAndGlyphs" xml:space="preserve" >303.4</text>
<text x="1053.75" y="1532.50" font-size="28.6" textLength="70.50" lengthAdjust="spacingAndGlyphs" xml:space="preserve" >344.9</text>
<text x="1233.75" y="1532.50" font-size="28.6" textLength="70.50" lengthAdjust="spacingAndGlyphs" xml:space="preserve" >034.8</text>
<text x="1413.75" y="1532.50" font-size="28.6" textLength="70.50" lengthAdjust="spacingAndGlyphs" xml:space="preserve" >071.5</text>
<text x="1594.80" y="1532.50" font-size="28.6" textLength="68.41" lengthAdjust="spacingAndGlyphs" xml:space="preserve" >112.0</text>
<text x="1774.75" y="1532.50" font-size="28.6" textLength="70.50" lengthAdjust="spacingAndGlyphs" xml:space="preserve" >152.6</text>
<text x="218.87" y="1573.50" font-size="28.6" textLength="74.79" lengthAdjust="spacingAndGlyphs" xml:space="preserve" >MLAT</text>
<text x="408.89" y="1573.50" font-size="28.6" textLength="64.21" lengthAdjust="spacingAndGlyphs" xml:space="preserve" >-22.7</text>
<text x="590.89" y="1573.50" font-size="28.6" textLength="64.21" lengthAdjust="spacingAndGlyphs" xml:space="preserve" >-13.6</text>
<text x="872.36" y="1573.50" font-size="28.6" textLength="71.28" lengthAdjust="spacingAndGlyphs" xml:space="preserve" >+06.1</text>
<text x="1053.36" y="1573.50" font-size="28.6" textLength="71.28" lengthAdjust="spacingAndGlyphs" xml:space="preserve" >+21.5</text>
<text x="1233.36" y="1573.50" font-size="28.6" textLength="71.28" lengthAdjust="spacingAndGlyphs" xml:space="preserve" >+16.5</text>
<text x="1416.89" y="1573.50" font-size="28.6" textLength="64.21" lengthAdjust="spacingAndGlyphs" xml:space="preserve" >-05.0</text>
<text x="1597.94" y="1573.50" font-size="28.6" textLength="62.12" lengthAdjust="spacingAndGlyphs" xml:space="preserve" >-11.5</text>
<text x="1777.89" y="1573.50" font-size="28.6" textLength="64.21" lengthAdjust="spacingAndGlyphs" xml:space="preserve" >-21.2</text>
<text x="236.55" y="1613.75" font-size="28.6" textLength="37.85" lengthAdjust="spacingAndGlyphs" xml:space="preserve" >UT</text>
<text x="405.75" y="1613.75" font-size="28.6" textLength="70.50" lengthAdjust="spacingAndGlyphs" xml:space="preserve" >06:45</text>
<text x="587.75" y="1613.75" font-size="28.6" textLength="70.50" lengthAdjust="spacingAndGlyphs" xml:space="preserve" >06:56</text>
<text x="872.75" y="1613.75" font-size="28.6" textLength="70.50" lengthAdjust="spacingAndGlyphs" xml:space="preserve" >05:31</text>
<text x="1053.75" y="1613.75" font-size="28.6" textLength="70.50" lengthAdjust="spacingAndGlyphs" xml:space="preserve" >05:43</text>
<text x="1233.75" y="1613.75" font-size="28.6" textLength="70.50" lengthAdjust="spacingAndGlyphs" xml:space="preserve" >05:55</text>
<text x="1413.75" y="1613.75" font-size="28.6" textLength="70.50" lengthAdjust="spacingAndGlyphs" xml:space="preserve" >06:08</text>
<text x="1593.75" y="1613.75" font-size="28.6" textLength="70.50" lengthAdjust="spacingAndGlyphs" xml:space="preserve" >06:21</text>
<text x="1774.75" y="1613.75" font-size="28.6" textLength="70.50" lengthAdjust="spacingAndGlyphs" xml:space="preserve" >06:33</text>
<text x="224.92" y="1654.50" font-size="28.6" textLength="51.99" lengthAdjust="spacingAndGlyphs" xml:space="preserve" >SLT</text>
<text x="405.75" y="1654.50" font-size="28.6" textLength="70.50" lengthAdjust="spacingAndGlyphs" xml:space="preserve" >15:00</text>
<text x="587.75" y="1654.50" font-size="28.6" textLength="70.50" lengthAdjust="spacingAndGlyphs" xml:space="preserve" >18:00</text>
<text x="872.75" y="1654.50" font-size="28.6" textLength="70.50" lengthAdjust="spacingAndGlyphs" xml:space="preserve" >21:00</text>
<text x="1053.75" y="1654.50" font-size="28.6" textLength="70.50" lengthAdjust="spacingAndGlyphs" xml:space="preserve" >00:00</text>
<text x="1233.75" y="1654.50" font-size="28.6" textLength="70.50" lengthAdjust="spacingAndGlyphs" xml:space="preserve" >03:00</text>
<text x="1413.75" y="1654.50" font-size="28.6" textLength="70.50" lengthAdjust="spacingAndGlyphs" xml:space="preserve" >06:00</text>
<text x="1593.75" y="1654.50" font-size="28.6" textLength="70.50" lengthAdjust="spacingAndGlyphs" xml:space="preserve" >09:00</text>
<text x="1774.75" y="1654.50" font-size="28.6" textLength="70.50" lengthAdjust="spacingAndGlyphs" xml:space="preserve" >12:00</text>
<g transform="rotate(-90)"><text x="-1664.67" y="1899.90" font-size="23" textLength="394.48" lengthAdjust="spacingAndGlyphs" xml:space="preserve" >Preliminary corrected calibration,  2/11/09</text></g>
<g transform="rotate(-90)"><text x="-1664.69" y="1924.80" font-size="23" textLength="303.42" lengthAdjust="spacingAndGlyphs" xml:space="preserve" >Produced 23-Jul-2010 15:35:23</text></g>
</svg></body></html>
